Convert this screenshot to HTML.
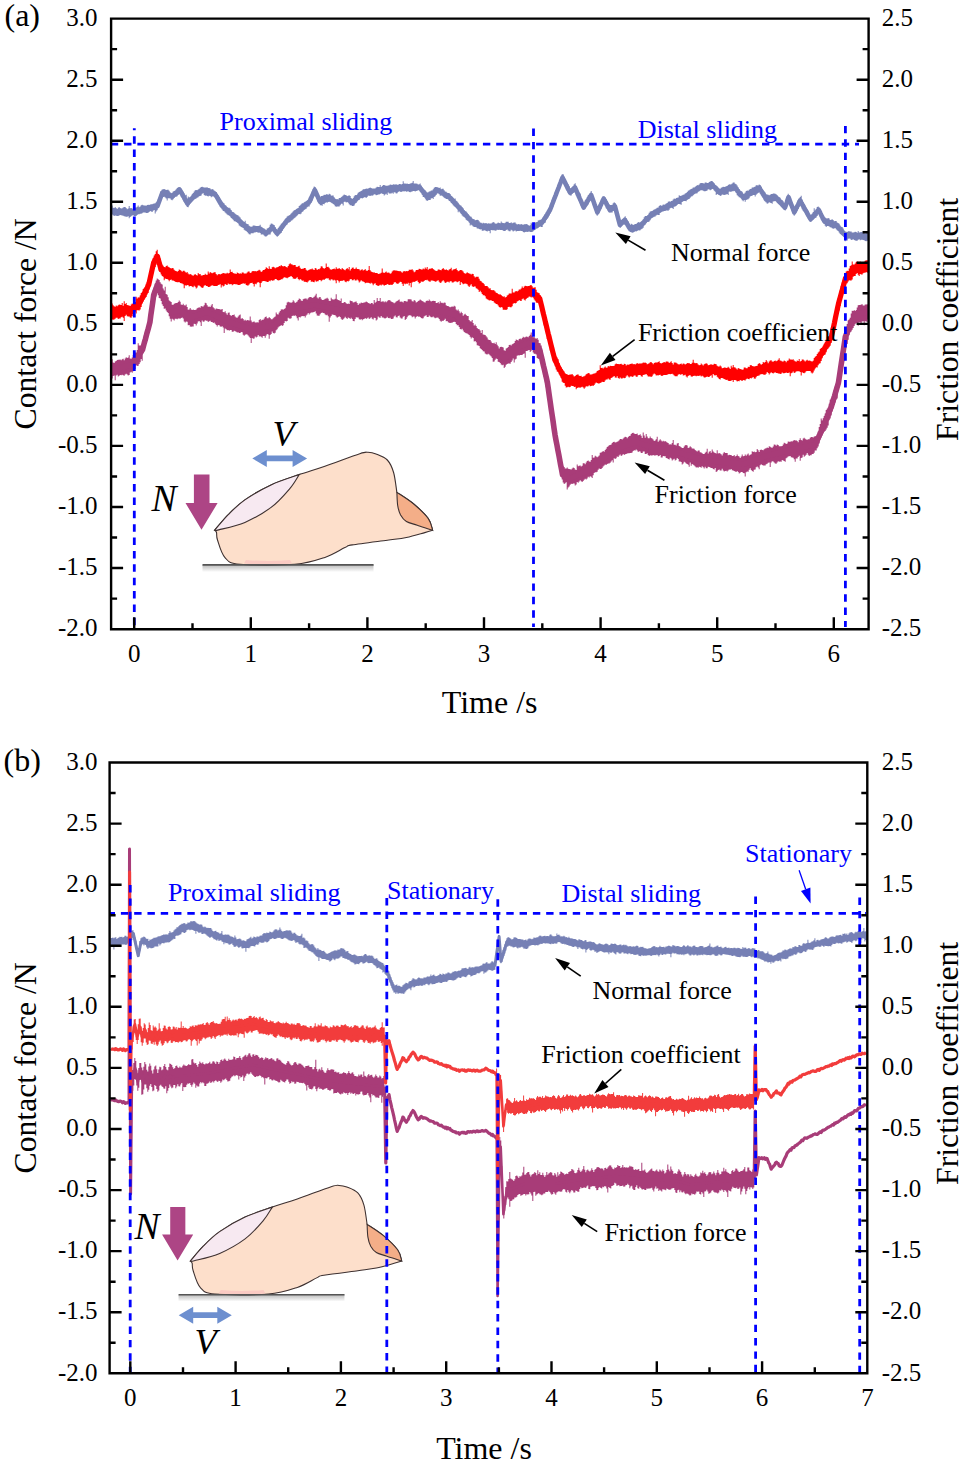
<!DOCTYPE html>
<html><head><meta charset="utf-8"><style>
html,body{margin:0;padding:0;background:#fff;}
svg{display:block;font-family:"Liberation Serif",serif;}
</style></head><body>
<svg width="961" height="1464" viewBox="0 0 961 1464">
<rect width="961" height="1464" fill="#fff"/>
<defs><linearGradient id="gs" x1="0" y1="0" x2="0" y2="1"><stop offset="0" stop-color="#bbb"/><stop offset="1" stop-color="#fff"/></linearGradient></defs>
<g id="fing">
<rect x="202.5" y="565" width="171" height="7" fill="url(#gs)"/>
<path d="M214.7,530.2C216.9,527.7 223.0,520.0 228.0,514.9C233.0,509.8 237.7,504.9 244.9,499.9C252.1,494.9 262.1,489.1 271.1,484.9C280.2,480.7 290.2,477.7 299.2,474.6C308.2,471.5 314.8,469.7 324.9,466.2C335.0,462.7 352.6,456.0 359.8,453.7C367.0,451.4 365.3,452.3 368.0,452.3C370.7,452.3 372.8,452.6 376.0,453.9C379.2,455.2 384.4,456.9 387.3,460.0C390.2,463.1 392.0,467.1 393.6,472.5C395.2,477.9 396.3,489.1 396.9,492.4C399.7,494.3 408.5,499.6 413.7,504.0C418.9,508.4 425.1,514.2 428.3,518.6C431.5,523.0 431.9,528.3 432.6,530.3C431.3,530.7 429.2,531.4 424.8,532.6C420.4,533.8 412.6,536.2 406.4,537.5C400.1,538.8 396.3,539.0 387.3,540.2C378.3,541.4 359.4,543.7 352.3,544.9C345.2,546.1 349.5,545.5 344.9,547.6C340.3,549.7 333.2,554.6 324.9,557.4C316.6,560.2 309.0,563.1 294.9,564.3C280.8,565.4 251.7,565.4 240.0,564.3C228.3,563.2 228.8,561.6 225.0,557.6C221.2,553.6 218.9,544.2 217.5,540.0C216.1,535.8 217.0,534.1 216.5,532.5C216.0,530.9 215.0,530.6 214.7,530.2Z" fill="#fddfcb" stroke="#3d3030" stroke-width="1.1"/>
<path d="M244,563.6Q268,566 292,563.6L290,560Q268,562 246,560Z" fill="#f9c4c0" opacity="0.8"/>
<path d="M396.9,492.4C399.7,494.3 408.5,499.6 413.7,504.0C418.9,508.4 425.1,514.2 428.3,518.6C431.5,523.0 431.9,528.3 432.6,530.3C430.1,529.4 421.7,526.7 417.3,525.2C412.9,523.7 409.2,523.2 406.4,521.5C403.6,519.8 402.1,517.7 400.6,515.0C399.2,512.3 398.3,509.3 397.7,505.5C397.1,501.7 397.0,494.6 396.9,492.4Z" fill="#f4ae88" stroke="#3d3030" stroke-width="1.1"/>
<path d="M214.7,530.2C216.9,527.7 223.0,520.0 228.0,514.9C233.0,509.8 237.7,504.9 244.9,499.9C252.1,494.9 262.1,489.1 271.1,484.9C280.2,480.7 294.5,476.3 299.2,474.6C297.6,476.9 294.5,483.1 289.8,488.6C285.1,494.1 278.6,501.8 271.1,507.4C263.6,513.0 253.6,518.6 244.9,522.4C236.2,526.1 223.7,528.6 218.7,529.9C213.7,531.2 215.4,530.2 214.7,530.2Z" fill="#f7e9f1" stroke="#3d3030" stroke-width="1.1"/>
<path d="M202.5,564.9H373.6" stroke="#555" stroke-width="1.6"/>
<path d="M193.9,474.6H209.5V503H217.6L201.5,529.8L185.5,503H193.9Z" fill="#ad4585"/>
</g>
<use href="#fing" transform="translate(190.2,1261.2) scale(0.97) translate(-214.5,-530.4)"/>
<path d="M252.3,458.4L266.8,449.9V455.5H292.6V449.9L307.1,458.4L292.6,466.9V461.29999999999995H266.8V466.9Z" fill="#6d8fcf"/>
<path d="M178.7,1315.2L193.2,1306.7V1312.3H217.3V1306.7L231.8,1315.2L217.3,1323.7V1318.1000000000001H193.2V1323.7Z" fill="#6d8fcf"/>
<g font-style="italic">
<text x="151.5" y="511" font-size="37.5">N</text><text x="272.5" y="445.6" font-size="36.5">V</text>
<text x="134.5" y="1238.9" font-size="37.5">N</text><text x="194.4" y="1354.4" font-size="36.5">V</text>
</g>
<path d="M110.7,207.8H111.7V205.4H112.7V207.7H113.7V207.9H114.7V207.1H115.7V207.9H116.7V208.9H117.7V207.8H118.7V207H119.7V208.1H120.7V208.5H121.7V208.2H122.7V207.6H123.7V206.9H124.7V206.9H125.7V208.1H126.7V209.2H127.7V208.4H128.7V206H129.7V208.3H130.7V208H131.7V208.6H132.7V209.6H133.7V208.2H134.7V207.5H135.7V207.5H136.7V206.8H137.7V205.5H138.7V207.2H139.7V206.5H140.7V205.3H141.7V204.8H142.7V205.2H143.7V205.4H144.7V205.6H145.7V205.8H146.7V205H147.7V204.7H148.7V204.9H149.7V204.4H150.7V204.3H151.7V204.2H152.7V203.8H153.7V203.6H154.7V203.3H155.7V202.2H156.7V201.4H157.7V199.5H158.7V197.7H159.7V194.6H160.7V191H161.7V189.4H162.7V189.3H163.7V189H164.7V189.6H165.7V190.1H166.7V189.8H167.7V189.8H168.7V190.8H169.7V192.3H170.7V193.2H171.7V192.8H172.7V191.5H173.7V191H174.7V190.5H175.7V189.2H176.7V188.1H177.7V187.2H178.7V186.9H179.7V187.2H180.7V188.8H181.7V190.6H182.7V191.7H183.7V193.5H184.7V195.4H185.7V194.7H186.7V198.6H187.7V196.5H188.7V197.4H189.7V197H190.7V196.4H191.7V194.3H192.7V193.1H193.7V191.5H194.7V190.2H195.7V190.1H196.7V190.3H197.7V189.6H198.7V188.8H199.7V187.7H200.7V186.9H201.7V186.8H202.7V187.2H203.7V187.6H204.7V187.5H205.7V187.4H206.7V187.3H207.7V188H208.7V188H209.7V188.5H210.7V189.5H211.7V189.1H212.7V189.4H213.7V190.6H214.7V191.4H215.7V192.3H216.7V194.2H217.7V195.2H218.7V196.8H219.7V199.3H220.7V200.6H221.7V201.7H222.7V202.7H223.7V203.6H224.7V205H225.7V205.8H226.7V207.1H227.7V207.8H228.7V207.7H229.7V208.6H230.7V209.9H231.7V211.7H232.7V212.1H233.7V212.8H234.7V213.8H235.7V214.5H236.7V215.1H237.7V215.4H238.7V216.5H239.7V217.4H240.7V219.2H241.7V220.3H242.7V221.2H243.7V221.9H244.7V220.8H245.7V223.4H246.7V223.9H247.7V224.2H248.7V225.7H249.7V226.4H250.7V226.8H251.7V226.4H252.7V225.6H253.7V225.6H254.7V225.8H255.7V225.9H256.7V226.1H257.7V226H258.7V225.8H259.7V224.7H260.7V226.8H261.7V227.4H262.7V228.2H263.7V228.4H264.7V229.2H265.7V230.3H266.7V228.6H267.7V228.3H268.7V227.7H269.7V224.7H270.7V223.6H271.7V223.7H272.7V224.6H273.7V225H274.7V227H275.7V228.9H276.7V229.7H277.7V228.1H278.7V226.8H279.7V225.5H280.7V223.8H281.7V223.3H282.7V222.2H283.7V220.7H284.7V219.3H285.7V218H286.7V216.5H287.7V215.8H288.7V215.7H289.7V215H290.7V213.4H291.7V212.4H292.7V211.2H293.7V210.2H294.7V210.1H295.7V208.9H296.7V208.4H297.7V207.9H298.7V206.1H299.7V205.2H300.7V204.2H301.7V203.2H302.7V203.2H303.7V202.3H304.7V201.8H305.7V201.3H306.7V200.4H307.7V199.8H308.7V197.6H309.7V196.2H310.7V194.7H311.7V191.6H312.7V188.9H313.7V186.6H314.7V187.1H315.7V188.9H316.7V192.8H317.7V194.7H318.7V197H319.7V197.2H320.7V196H321.7V196.1H322.7V195.5H323.7V194.7H324.7V194.9H325.7V194.3H326.7V194.2H327.7V194.8H328.7V193.8H329.7V194.3H330.7V195.7H331.7V195.6H332.7V195.6H333.7V197.2H334.7V198.7H335.7V199.3H336.7V199.1H337.7V199.4H338.7V198.1H339.7V198.1H340.7V197.3H341.7V196.5H342.7V195.4H343.7V194.6H344.7V194.9H345.7V195.6H346.7V196.2H347.7V195.7H348.7V195.3H349.7V195.9H350.7V198H351.7V199H352.7V197.9H353.7V196.3H354.7V195H355.7V195.2H356.7V195.1H357.7V192.7H358.7V192H359.7V191.5H360.7V191H361.7V190.2H362.7V189.2H363.7V189.3H364.7V189H365.7V188.6H366.7V188.8H367.7V188.6H368.7V187.9H369.7V187.5H370.7V188.1H371.7V188.5H372.7V188.6H373.7V188.6H374.7V188.5H375.7V187.4H376.7V186.7H377.7V186.9H378.7V187H379.7V185.1H380.7V187H381.7V186.1H382.7V185H383.7V184.9H384.7V185.5H385.7V185.8H386.7V185.7H387.7V185.5H388.7V185.3H389.7V184.5H390.7V184.8H391.7V185H392.7V184.2H393.7V184.6H394.7V184.4H395.7V184.3H396.7V184.8H397.7V184.7H398.7V184.1H399.7V184H400.7V184.5H401.7V183.9H402.7V181.3H403.7V183.6H404.7V183.4H405.7V183.7H406.7V183.6H407.7V184H408.7V184.1H409.7V183.5H410.7V183.2H411.7V182.8H412.7V181.1H413.7V183.6H414.7V183.6H415.7V183.4H416.7V183.8H417.7V184.4H418.7V184.2H419.7V183.5H420.7V185.6H421.7V187.8H422.7V188.9H423.7V189.7H424.7V190.3H425.7V191.5H426.7V192.5H427.7V192.3H428.7V191.6H429.7V191.3H430.7V190.4H431.7V190.4H432.7V189.2H433.7V187.8H434.7V186.9H435.7V187H436.7V187.2H437.7V187.6H438.7V187.9H439.7V187.6H440.7V189.2H441.7V188.8H442.7V188.7H443.7V190.3H444.7V191.6H445.7V191.7H446.7V192.7H447.7V193.1H448.7V193H449.7V194.1H450.7V196H451.7V196.8H452.7V197.7H453.7V198.7H454.7V198.5H455.7V200.7H456.7V201.4H457.7V202.8H458.7V204.4H459.7V205.2H460.7V205.8H461.7V207H462.7V208.2H463.7V210.2H464.7V211.3H465.7V211.5H466.7V212.8H467.7V214H468.7V215.4H469.7V216.5H470.7V216.8H471.7V218.5H472.7V219H473.7V219.2H474.7V220.2H475.7V219.9H476.7V219.7H477.7V220.1H478.7V221.2H479.7V222.5H480.7V222.8H481.7V223.5H482.7V222.8H483.7V223.2H484.7V223.3H485.7V223H486.7V223.7H487.7V223.2H488.7V223.5H489.7V223.6H490.7V223.5H491.7V222.8H492.7V222H493.7V222.4H494.7V223.5H495.7V223.7H496.7V223.2H497.7V222.5H498.7V223H499.7V223.3H500.7V221.5H501.7V222.7H502.7V222.9H503.7V223.3H504.7V222.8H505.7V221.8H506.7V221.7H507.7V221.7H508.7V222.9H509.7V223H510.7V222.3H511.7V223.3H512.7V222.7H513.7V222.4H514.7V222.4H515.7V223.7H516.7V224.4H517.7V224.1H518.7V224.2H519.7V224.4H520.7V224.1H521.7V224.4H522.7V224.8H523.7V224.3H524.7V224.2H525.7V224.1H526.7V224.3H527.7V225.1H528.7V225.8H529.7V225.3H530.7V222.7H531.7V224H532.7V223.5H533.7V222.5H534.7V222.4H535.7V222.3H536.7V221.9H537.7V220.6H538.7V220.2H539.7V219.8H540.7V219.7H541.7V218.9H542.7V217.2H543.7V216.3H544.7V214H545.7V212.2H546.7V210.5H547.7V208.8H548.7V207.7H549.7V206.6H550.7V203.6H551.7V200.3H552.7V197.3H553.7V195.1H554.7V192.4H555.7V190.1H556.7V187.6H557.7V185.1H558.7V182.8H559.7V179.7H560.7V177.1H561.7V174.3H562.7V174.2H563.7V177.2H564.7V179.9H565.7V181.7H566.7V183H567.7V184.3H568.7V186.2H569.7V188.8H570.7V188.3H571.7V186.9H572.7V186H573.7V184.3H574.7V183.3H575.7V186.2H576.7V189.3H577.7V191H578.7V192.5H579.7V193.5H580.7V198.3H581.7V201.1H582.7V203.5H583.7V202.7H584.7V200.3H585.7V199H586.7V197.2H587.7V195.2H588.7V194.8H589.7V194H590.7V191.1H591.7V193.9H592.7V196.7H593.7V199.6H594.7V202.1H595.7V204.3H596.7V207.4H597.7V206.1H598.7V204.5H599.7V202.4H600.7V199.6H601.7V198.3H602.7V196.6H603.7V196.5H604.7V197.8H605.7V199.1H606.7V200.9H607.7V202.9H608.7V204.5H609.7V205H610.7V204.9H611.7V204.7H612.7V203.3H613.7V202.2H614.7V203.1H615.7V207.5H616.7V211.8H617.7V214.8H618.7V218.5H619.7V221.5H620.7V220H621.7V219.2H622.7V218.8H623.7V217.5H624.7V216.2H625.7V218.2H626.7V220.4H627.7V221.3H628.7V223.7H629.7V225.1H630.7V223.8H631.7V224.3H632.7V225H633.7V224.4H634.7V223.9H635.7V224H636.7V223H637.7V221.9H638.7V222.5H639.7V222.2H640.7V221.4H641.7V220.8H642.7V219.2H643.7V217.3H644.7V216.1H645.7V215.9H646.7V215.9H647.7V214.9H648.7V212.8H649.7V211.4H650.7V211.2H651.7V210.9H652.7V210.2H653.7V209.5H654.7V209.2H655.7V208.4H656.7V207.8H657.7V207.4H658.7V205.9H659.7V204.9H660.7V205.7H661.7V205.5H662.7V204.6H663.7V204.7H664.7V204.4H665.7V203.5H666.7V203.1H667.7V201.7H668.7V201.3H669.7V201.7H670.7V201H671.7V200.8H672.7V199.5H673.7V198.6H674.7V199H675.7V197.9H676.7V197.8H677.7V197.4H678.7V195.3H679.7V196H680.7V195.7H681.7V195.3H682.7V194.8H683.7V194.4H684.7V193.6H685.7V193.1H686.7V192.1H687.7V190.7H688.7V190.3H689.7V189.6H690.7V188.9H691.7V188.4H692.7V187.5H693.7V187.4H694.7V186.8H695.7V186H696.7V185.1H697.7V185.6H698.7V184.5H699.7V183.2H700.7V182.9H701.7V182.9H702.7V183.3H703.7V183.6H704.7V182.6H705.7V182.4H706.7V183H707.7V183.1H708.7V182H709.7V181.5H710.7V181.1H711.7V180.9H712.7V182.1H713.7V183.2H714.7V184.9H715.7V185.4H716.7V186.2H717.7V187.6H718.7V188.4H719.7V188.8H720.7V187.8H721.7V187.3H722.7V186.7H723.7V187H724.7V186.8H725.7V186.3H726.7V186.1H727.7V185H728.7V184.2H729.7V184.5H730.7V184.3H731.7V183.5H732.7V182.5H733.7V182.5H734.7V183.7H735.7V184.3H736.7V185.5H737.7V187.2H738.7V189.1H739.7V191H740.7V191.1H741.7V191.7H742.7V193.7H743.7V193.7H744.7V192.5H745.7V191H746.7V190.6H747.7V190.7H748.7V189.7H749.7V189H750.7V188.8H751.7V187.6H752.7V187.5H753.7V186.9H754.7V186.6H755.7V185.2H756.7V185.2H757.7V185.4H758.7V184.5H759.7V185.1H760.7V186.8H761.7V189.1H762.7V190.7H763.7V191.4H764.7V192.5H765.7V194.2H766.7V194.4H767.7V194.7H768.7V195.3H769.7V194.7H770.7V194H771.7V194.1H772.7V193.4H773.7V193.6H774.7V193.7H775.7V194.2H776.7V195.2H777.7V196.4H778.7V197H779.7V197.8H780.7V199.4H781.7V199.9H782.7V201.2H783.7V203.2H784.7V203.8H785.7V199.9H786.7V196.4H787.7V193.7H788.7V195.5H789.7V198.9H790.7V200.7H791.7V202.4H792.7V205.7H793.7V208.9H794.7V207.2H795.7V205.4H796.7V202.8H797.7V200.1H798.7V198.5H799.7V197.1H800.7V195.8H801.7V199.5H802.7V202.3H803.7V204H804.7V205.7H805.7V207.7H806.7V209.4H807.7V210.7H808.7V213.2H809.7V214.9H810.7V214.8H811.7V213.8H812.7V212.1H813.7V208.3H814.7V210.7H815.7V208.9H816.7V207.1H817.7V206.5H818.7V207.6H819.7V209.6H820.7V211.6H821.7V213H822.7V216H823.7V217.4H824.7V217.6H825.7V218.3H826.7V218.4H827.7V218H828.7V218.5H829.7V219.9H830.7V219.7H831.7V219.2H832.7V220.1H833.7V221.2H834.7V220.9H835.7V221H836.7V222.6H837.7V223H838.7V223.7H839.7V225.5H840.7V226.8H841.7V227.1H842.7V228.6H843.7V230.5H844.7V231.4H845.7V231.8H846.7V231.9H847.7V231.3H848.7V231.3H849.7V231.4H850.7V231.5H851.7V232.4H852.7V232.4H853.7V232.2H854.7V231.7H855.7V231.9H856.7V232.8H857.7V231.1H858.7V232.5H859.7V232.3H860.7V232H861.7V232.2H862.7V231.2H863.7V233H864.7V233.6H865.7V232.9H866.7V231.9H867.7V233H868.7V241H867.7V240.8H866.7V241.2H865.7V241H864.7V240.2H863.7V239.9H862.7V239.8H861.7V239.7H860.7V240.3H859.7V239.3H858.7V239.7H857.7V240.7H856.7V240.7H855.7V240.6H854.7V240H853.7V239.3H852.7V239.8H851.7V240.1H850.7V238.8H849.7V238.5H848.7V238.7H847.7V240.4H846.7V239.2H845.7V241.2H844.7V236.9H843.7V236.3H842.7V235.5H841.7V234.8H840.7V233.9H839.7V232.5H838.7V231.1H837.7V230.3H836.7V229.3H835.7V228.1H834.7V228.4H833.7V228.7H832.7V228.2H831.7V227.5H830.7V227.2H829.7V226.5H828.7V225.9H827.7V226.1H826.7V227H825.7V225.7H824.7V223.9H823.7V222.3H822.7V221.1H821.7V219.8H820.7V217.2H819.7V214.3H818.7V213.9H817.7V216H816.7V217.4H815.7V218.1H814.7V218.7H813.7V219.8H812.7V220.2H811.7V221.4H810.7V222.1H809.7V220.3H808.7V218.4H807.7V217.1H806.7V215.2H805.7V213.2H804.7V211.9H803.7V211H802.7V209.2H801.7V206.4H800.7V204.2H799.7V206.7H798.7V208.9H797.7V210.8H796.7V212.5H795.7V214.2H794.7V215.8H793.7V213.8H792.7V210.4H791.7V208.5H790.7V206H789.7V203.4H788.7V202.4H787.7V205.7H786.7V208.5H785.7V210.6H784.7V209.7H783.7V208.4H782.7V207.8H781.7V206.7H780.7V205.4H779.7V204.8H778.7V204.1H777.7V203.1H776.7V201.8H775.7V201.1H774.7V201.2H773.7V201.6H772.7V203.7H771.7V202.9H770.7V202.7H769.7V202.2H768.7V203.2H767.7V203.8H766.7V202.5H765.7V201.2H764.7V200.2H763.7V197.9H762.7V196.4H761.7V195.2H760.7V193.7H759.7V192.3H758.7V193H757.7V193.8H756.7V194.7H755.7V196.4H754.7V195H753.7V195H752.7V195.7H751.7V196H750.7V196.6H749.7V198.3H748.7V199.2H747.7V199.5H746.7V200H745.7V201.7H744.7V200H743.7V201.2H742.7V200.3H741.7V198.6H740.7V197.6H739.7V197.3H738.7V196.3H737.7V195.2H736.7V193H735.7V191.2H734.7V190.8H733.7V191.3H732.7V191.3H731.7V191.7H730.7V191.8H729.7V191.6H728.7V194.9H727.7V193.9H726.7V194.4H725.7V194.7H724.7V194.9H723.7V194.7H722.7V194.4H721.7V195.6H720.7V195.9H719.7V194.9H718.7V194.5H717.7V194.1H716.7V195H715.7V191.4H714.7V190.5H713.7V188.8H712.7V189.1H711.7V189.8H710.7V190.3H709.7V189.5H708.7V189.2H707.7V190.4H706.7V190.9H705.7V191.3H704.7V191.3H703.7V190.8H702.7V190.3H701.7V190.2H700.7V190.6H699.7V191.3H698.7V191.7H697.7V193.3H696.7V193.6H695.7V193.5H694.7V194.2H693.7V195.2H692.7V196.3H691.7V196.6H690.7V197.7H689.7V199H688.7V199.3H687.7V200.1H686.7V201.2H685.7V201.1H684.7V201.1H683.7V201.3H682.7V202.1H681.7V204.8H680.7V204.3H679.7V203.9H678.7V204.1H677.7V205H676.7V205.9H675.7V206.4H674.7V206.8H673.7V209.1H672.7V208.1H671.7V207.8H670.7V208.3H669.7V209.7H668.7V210.8H667.7V210.4H666.7V210.4H665.7V211.1H664.7V211H663.7V211.4H662.7V211.6H661.7V212.2H660.7V212.9H659.7V215.1H658.7V214.9H657.7V214.7H656.7V215.4H655.7V216.5H654.7V216.8H653.7V217.2H652.7V218H651.7V218.4H650.7V220.2H649.7V221.5H648.7V222H647.7V222.1H646.7V223.3H645.7V224.7H644.7V225.6H643.7V227.7H642.7V228.7H641.7V229.2H640.7V230.2H639.7V230.6H638.7V230.2H637.7V230.9H636.7V231.4H635.7V231.2H634.7V231.9H633.7V232.5H632.7V232.8H631.7V232.2H630.7V232.1H629.7V231.2H628.7V229.2H627.7V228.3H626.7V226.6H625.7V224.9H624.7V224.4H623.7V224.4H622.7V225.6H621.7V226.7H620.7V228.1H619.7V226.3H618.7V221.6H617.7V218.4H616.7V215.1H615.7V211.2H614.7V210.8H613.7V211.1H612.7V212.4H611.7V212.5H610.7V212.4H609.7V212.2H608.7V210.6H607.7V209H606.7V208.2H605.7V205.6H604.7V203.2H603.7V203.8H602.7V206.1H601.7V208.8H600.7V210.3H599.7V212.5H598.7V214.3H597.7V215.7H596.7V212.7H595.7V209.3H594.7V207H593.7V203.8H592.7V200.8H591.7V199H590.7V200.7H589.7V201.8H588.7V204.5H587.7V205.4H586.7V206.3H585.7V208.1H584.7V209.5H583.7V209.6H582.7V208H581.7V205.7H580.7V203.2H579.7V201H578.7V198.5H577.7V197.4H576.7V195.4H575.7V192H574.7V192.5H573.7V193H572.7V193.9H571.7V195.5H570.7V195.4H569.7V194.3H568.7V192.9H567.7V191H566.7V189.5H565.7V187.2H564.7V185.3H563.7V183.5H562.7V182.9H561.7V184.5H560.7V186.5H559.7V190H558.7V193.1H557.7V195.5H556.7V198.3H555.7V200H554.7V202.9H553.7V206.4H552.7V208.6H551.7V210.8H550.7V213.6H549.7V215.5H548.7V217.6H547.7V218.8H546.7V220H545.7V222.8H544.7V223H543.7V224.3H542.7V226.9H541.7V226.9H540.7V226.5H539.7V227.1H538.7V228.1H537.7V228.6H536.7V228.7H535.7V229.7H534.7V230.2H533.7V231.2H532.7V231.9H531.7V232.1H530.7V232H529.7V231.5H528.7V231.7H527.7V231.9H526.7V231.8H525.7V232.1H524.7V232.6H523.7V232H522.7V231.1H521.7V231H520.7V230.7H519.7V231.1H518.7V230.9H517.7V231.1H516.7V231.4H515.7V230.6H514.7V230.8H513.7V231.4H512.7V230.5H511.7V229.7H510.7V231.2H509.7V231.2H508.7V230.5H507.7V229.6H506.7V229.9H505.7V230.9H504.7V231H503.7V230.7H502.7V229.9H501.7V230H500.7V229.9H499.7V229.8H498.7V230.1H497.7V229.8H496.7V230.4H495.7V230.8H494.7V230.2H493.7V230.3H492.7V230.2H491.7V230.1H490.7V233.2H489.7V231.1H488.7V230.8H487.7V231.6H486.7V231H485.7V230.6H484.7V230.3H483.7V230.8H482.7V230.7H481.7V229.3H480.7V229.4H479.7V229H478.7V228.6H477.7V228.5H476.7V227.2H475.7V227H474.7V227H473.7V226.5H472.7V225.4H471.7V224.5H470.7V225.5H469.7V222.4H468.7V220.7H467.7V220.4H466.7V219.8H465.7V217.7H464.7V216.8H463.7V216.5H462.7V215.6H461.7V214.1H460.7V212.4H459.7V210.6H458.7V212.3H457.7V208.7H456.7V207.7H455.7V206.9H454.7V206.3H453.7V205.3H452.7V203.8H451.7V202.9H450.7V201.3H449.7V200.9H448.7V199.4H447.7V199.1H446.7V199H445.7V198.3H444.7V197.7H443.7V196.7H442.7V195.6H441.7V195.6H440.7V195.7H439.7V194.2H438.7V193.2H437.7V193.5H436.7V195H435.7V196.3H434.7V197.1H433.7V199H432.7V197.9H431.7V198.6H430.7V199.9H429.7V200H428.7V200.2H427.7V201.1H426.7V200.3H425.7V198.3H424.7V197.1H423.7V196.9H422.7V194.7H421.7V193.1H420.7V191.8H419.7V190.3H418.7V190.3H417.7V190.7H416.7V191.1H415.7V191.4H414.7V191H413.7V191.1H412.7V191.4H411.7V191.8H410.7V192.2H409.7V191.9H408.7V191.2H407.7V191.6H406.7V191.7H405.7V191H404.7V191.4H403.7V191.3H402.7V191.6H401.7V192H400.7V191.7H399.7V191.3H398.7V191.9H397.7V193.3H396.7V193.6H395.7V192.5H394.7V192.2H393.7V193.8H392.7V192.8H391.7V193.4H390.7V193.4H389.7V193.5H388.7V192.6H387.7V195H386.7V193.8H385.7V194.4H384.7V195.6H383.7V193.9H382.7V193.7H381.7V193.3H380.7V193.9H379.7V194.4H378.7V194.4H377.7V195.1H376.7V195.3H375.7V194.6H374.7V194.3H373.7V195.3H372.7V195.7H371.7V195.6H370.7V196H369.7V195.8H368.7V195.6H367.7V197H366.7V197.9H365.7V197.2H364.7V197.3H363.7V198.1H362.7V198.6H361.7V198.1H360.7V198.5H359.7V199.9H358.7V200.3H357.7V201.5H356.7V202.9H355.7V203.5H354.7V205.5H353.7V206H352.7V205.9H351.7V205.2H350.7V205.3H349.7V204.3H348.7V202.4H347.7V202.1H346.7V202.5H345.7V201.7H344.7V201.7H343.7V205.4H342.7V203.7H341.7V203.5H340.7V205.3H339.7V206.6H338.7V206.5H337.7V206.4H336.7V206.7H335.7V206.2H334.7V204.8H333.7V204.1H332.7V203.3H331.7V202.8H330.7V202.1H329.7V201.8H328.7V202H327.7V202.8H326.7V202.3H325.7V202.9H324.7V204.3H323.7V204.1H322.7V205.8H321.7V205.3H320.7V205.2H319.7V203.9H318.7V201.9H317.7V198.9H316.7V197H315.7V195H314.7V194.1H313.7V197H312.7V200.5H311.7V202.3H310.7V204.5H309.7V206.4H308.7V206.5H307.7V207.3H306.7V208.8H305.7V209.2H304.7V210.1H303.7V211.3H302.7V212H301.7V213.6H300.7V214.3H299.7V214.1H298.7V214.3H297.7V215.6H296.7V216.6H295.7V217.4H294.7V218.3H293.7V219.3H292.7V220.2H291.7V220.8H290.7V222H289.7V222.5H288.7V222.8H287.7V224.4H286.7V224.8H285.7V225.5H284.7V226.9H283.7V228.7H282.7V230.9H281.7V232.9H280.7V233.6H279.7V233.8H278.7V235.5H277.7V236.8H276.7V235.3H275.7V234.5H274.7V233.3H273.7V231.7H272.7V230.7H271.7V232.2H270.7V234.5H269.7V234.5H268.7V234.1H267.7V235.2H266.7V236.5H265.7V236.4H264.7V235.4H263.7V234.2H262.7V234.5H261.7V234.5H260.7V233.1H259.7V232.5H258.7V232.8H257.7V232.2H256.7V232.1H255.7V232.5H254.7V232.6H253.7V233.3H252.7V233.3H251.7V233.3H250.7V234.5H249.7V234.2H248.7V233.2H247.7V231.9H246.7V230.9H245.7V230.6H244.7V229.7H243.7V228.1H242.7V227.6H241.7V226.9H240.7V226.2H239.7V225.4H238.7V223.3H237.7V222.5H236.7V222H235.7V221.2H234.7V221.2H233.7V219.7H232.7V218.8H231.7V218.1H230.7V216.2H229.7V215.3H228.7V215.2H227.7V214.6H226.7V213.6H225.7V212.4H224.7V211.2H223.7V211.1H222.7V209.5H221.7V207.7H220.7V206.9H219.7V204.8H218.7V203.3H217.7V201.4H216.7V199.2H215.7V197.9H214.7V196.9H213.7V196.3H212.7V196.5H211.7V197.2H210.7V196.1H209.7V195.7H208.7V196.4H207.7V196.1H206.7V195.6H205.7V195.7H204.7V194.9H203.7V193.3H202.7V193.7H201.7V195.6H200.7V196H199.7V196.3H198.7V197.2H197.7V197.8H196.7V198.4H195.7V198.9H194.7V199.4H193.7V200.5H192.7V201.4H191.7V202.4H190.7V203.5H189.7V205.2H188.7V207.2H187.7V207H186.7V204.3H185.7V202.4H184.7V201.8H183.7V199.8H182.7V197.9H181.7V196.7H180.7V194.3H179.7V194.3H178.7V195H177.7V196.3H176.7V196.8H175.7V196.6H174.7V198.1H173.7V199.2H172.7V200.2H171.7V199.7H170.7V198.5H169.7V198.2H168.7V198.2H167.7V200.5H166.7V198.5H165.7V197.6H164.7V196.8H163.7V196.9H162.7V197.7H161.7V199.6H160.7V201.2H159.7V204.5H158.7V207.5H157.7V210.2H156.7V211.5H155.7V213.4H154.7V210H153.7V210.7H152.7V211.9H151.7V211.5H150.7V211H149.7V211.9H148.7V212.7H147.7V212.9H146.7V213H145.7V212.5H144.7V212.4H143.7V212.6H142.7V213.2H141.7V213.8H140.7V213.8H139.7V214.3H138.7V214.2H137.7V215H136.7V216H135.7V216.3H134.7V216H133.7V215.2H132.7V215.5H131.7V216.2H130.7V217H129.7V218.3H128.7V216.2H127.7V216.7H126.7V216.7H125.7V216.5H124.7V216.2H123.7V215.7H122.7V215.5H121.7V215.3H120.7V214.9H119.7V215.6H118.7V216.1H117.7V216.1H116.7V215.7H115.7V215.4H114.7V215.9H113.7V215.3H112.7V214.5H111.7V215.1H110.7Z" fill="#7680b5"/>
<polyline points="111.2,211.2 112.2,211.3 113.2,211.3 114.1,211.4 115.1,211.4 116.1,211.5 117.1,211.5 118.0,211.6 119.0,211.6 120.0,211.7 121.0,211.7 122.0,211.8 122.9,211.8 123.9,211.9 124.9,211.9 125.9,212.0 126.9,212.0 127.8,212.1 128.8,212.1 129.8,212.2 130.8,212.2 131.7,212.3 132.7,212.3 133.7,212.4 134.6,212.1 135.5,211.7 136.4,211.4 137.3,211.0 138.2,210.7 139.1,210.3 140.0,210.0 141.0,209.8 141.9,209.6 142.9,209.4 143.9,209.2 144.8,208.9 145.8,208.7 146.8,208.5 147.7,208.3 148.7,208.1 149.7,207.9 150.6,207.7 151.6,207.5 152.6,207.3 153.5,207.0 154.5,206.8 155.5,206.6 156.4,206.4 157.4,206.2 158.4,203.5 159.4,200.7 160.4,198.0 161.4,195.2 162.4,192.5 163.4,192.9 164.4,193.2 165.4,193.6 166.4,194.0 167.4,194.3 168.4,194.7 169.4,195.1 170.4,195.5 171.4,195.8 172.4,196.2 173.3,195.4 174.3,194.6 175.2,193.9 176.2,193.1 177.1,192.3 178.0,191.6 179.0,190.8 179.9,190.0 180.8,191.7 181.8,193.4 182.7,195.1 183.7,196.8 184.6,198.6 185.5,200.3 186.5,202.0 187.4,203.7 188.3,202.6 189.3,201.5 190.2,200.4 191.2,199.3 192.1,198.3 193.0,197.2 194.0,196.1 194.9,195.0 195.8,194.4 196.8,193.8 197.7,193.1 198.7,192.5 199.6,191.9 200.5,191.2 201.5,190.6 202.4,190.0 203.4,190.3 204.3,190.6 205.3,190.9 206.2,191.1 207.2,191.4 208.2,191.7 209.1,192.0 210.1,192.3 211.1,192.6 212.0,192.8 213.0,193.1 213.9,193.4 214.9,193.7 215.8,195.3 216.8,196.8 217.7,198.4 218.7,199.9 219.6,201.5 220.5,203.1 221.5,204.6 222.4,206.2 223.4,207.1 224.3,207.9 225.3,208.8 226.2,209.6 227.2,210.5 228.2,211.4 229.1,212.2 230.1,213.1 231.1,214.0 232.0,214.8 233.0,215.7 233.9,216.5 234.9,217.4 235.9,218.2 236.9,219.1 237.9,219.9 238.9,220.8 239.9,221.6 240.9,222.4 241.9,223.3 242.9,224.1 243.9,225.0 244.9,225.8 245.9,226.6 246.9,227.5 247.9,228.3 248.9,229.2 249.9,230.0 250.9,229.9 251.9,229.7 252.9,229.6 253.9,229.5 254.9,229.3 255.8,229.2 256.8,229.1 257.8,229.0 258.8,228.8 259.8,228.7 260.7,229.4 261.6,230.1 262.5,230.8 263.4,231.6 264.3,232.3 265.2,233.0 266.1,233.7 267.0,232.8 267.9,231.9 268.8,231.0 269.6,230.1 270.5,229.2 271.4,228.3 272.3,227.4 273.3,228.7 274.3,229.9 275.3,231.2 276.3,232.4 277.3,233.7 278.3,232.3 279.3,231.0 280.3,229.6 281.3,228.2 282.3,226.8 283.3,225.5 284.3,224.1 285.3,222.7 286.3,221.4 287.3,220.0 288.3,219.2 289.2,218.5 290.2,217.7 291.1,216.9 292.1,216.2 293.1,215.4 294.0,214.6 295.0,213.8 296.0,213.1 296.9,212.3 297.9,211.5 298.8,210.8 299.8,210.0 300.8,209.1 301.8,208.2 302.8,207.4 303.8,206.5 304.8,205.6 305.8,204.7 306.8,203.8 307.8,203.0 308.8,202.1 309.8,201.2 310.8,199.0 311.8,196.7 312.8,194.5 313.8,192.2 314.8,190.0 315.8,192.2 316.8,194.5 317.8,196.7 318.8,199.0 319.8,201.2 320.8,200.8 321.8,200.5 322.8,200.1 323.8,199.7 324.8,199.3 325.8,199.0 326.8,198.6 327.8,198.2 328.8,197.9 329.8,197.5 330.8,198.3 331.7,199.1 332.7,199.8 333.6,200.6 334.6,201.4 335.6,202.1 336.5,202.9 337.5,203.7 338.4,202.9 339.4,202.1 340.3,201.4 341.2,200.6 342.2,199.8 343.1,199.1 344.1,198.3 345.0,197.5 345.9,198.1 346.9,198.8 347.8,199.4 348.8,200.0 349.7,200.6 350.6,201.2 351.6,201.9 352.5,202.5 353.4,201.6 354.4,200.6 355.3,199.7 356.2,198.8 357.2,197.8 358.1,196.9 359.1,195.9 360.0,195.0 361.0,194.8 362.0,194.5 363.0,194.2 364.0,194.0 365.0,193.8 366.0,193.5 367.0,193.2 368.0,193.0 369.0,192.8 370.0,192.5 371.0,192.2 372.0,192.0 373.0,191.8 374.0,191.5 375.0,191.2 376.0,191.0 377.0,190.8 378.0,190.5 379.0,190.2 380.0,190.0 381.0,189.9 382.0,189.8 383.0,189.7 384.0,189.6 385.0,189.5 386.0,189.4 387.0,189.3 388.0,189.2 389.0,189.1 390.0,189.0 391.0,188.9 392.0,188.8 392.9,188.7 393.9,188.6 394.9,188.5 395.9,188.4 396.9,188.3 397.9,188.2 398.9,188.1 399.9,188.0 400.9,187.9 401.9,187.8 402.9,187.7 403.9,187.6 404.9,187.5 405.9,187.5 406.9,187.5 407.9,187.5 408.9,187.5 409.9,187.5 410.9,187.5 411.9,187.5 412.9,187.5 413.9,187.5 414.9,187.5 415.9,187.5 416.9,187.5 417.9,187.5 418.9,187.5 419.9,187.5 420.8,188.8 421.8,190.0 422.7,191.2 423.6,192.5 424.6,193.8 425.5,195.0 426.5,196.2 427.4,197.5 428.4,196.8 429.4,196.0 430.4,195.2 431.4,194.5 432.4,193.8 433.4,193.0 434.4,192.2 435.4,191.5 436.4,190.8 437.4,190.0 438.4,190.6 439.3,191.2 440.3,191.7 441.2,192.3 442.2,192.9 443.2,193.5 444.1,194.0 445.1,194.6 446.1,195.2 447.0,195.8 448.0,196.3 448.9,196.9 449.9,197.5 450.9,198.6 451.9,199.7 452.9,200.9 453.9,202.0 454.9,203.1 455.9,204.2 456.9,205.3 457.9,206.5 458.9,207.6 459.9,208.7 460.9,209.8 461.8,210.8 462.8,211.9 463.7,212.9 464.7,214.0 465.7,215.0 466.6,216.1 467.6,217.1 468.6,218.2 469.5,219.2 470.5,220.3 471.4,221.3 472.4,222.4 473.4,222.8 474.3,223.2 475.3,223.6 476.2,223.9 477.2,224.3 478.1,224.7 479.1,225.1 480.0,225.5 481.0,225.9 481.9,226.2 482.9,226.6 483.8,227.0 484.8,227.4 485.8,227.3 486.8,227.3 487.8,227.2 488.8,227.2 489.8,227.1 490.8,227.0 491.8,227.0 492.8,226.9 493.8,226.9 494.8,226.8 495.8,226.7 496.8,226.7 497.8,226.6 498.8,226.6 499.8,226.5 500.8,226.4 501.8,226.4 502.8,226.3 503.8,226.3 504.8,226.2 505.8,226.3 506.8,226.4 507.8,226.5 508.8,226.6 509.8,226.7 510.8,226.8 511.8,226.9 512.8,227.0 513.8,227.1 514.8,227.2 515.8,227.3 516.8,227.4 517.8,227.5 518.8,227.6 519.8,227.7 520.8,227.8 521.8,227.9 522.8,228.0 523.8,228.1 524.8,228.2 525.8,228.3 526.8,228.4 527.8,228.5 528.8,228.6 529.8,228.7 530.8,228.2 531.7,227.7 532.7,227.2 533.6,226.8 534.6,226.3 535.6,225.8 536.5,225.3 537.5,224.8 538.5,224.3 539.4,223.9 540.4,223.4 541.3,222.9 542.3,222.4 543.3,220.8 544.2,219.3 545.2,217.8 546.1,216.2 547.1,214.7 548.1,213.1 549.0,211.6 550.0,210.0 551.0,207.5 551.9,205.0 552.9,202.5 553.8,200.0 554.8,197.5 555.8,195.0 556.7,192.5 557.7,190.0 558.7,187.5 559.6,185.0 560.6,182.5 561.5,180.0 562.5,177.5 563.4,179.4 564.4,181.2 565.3,183.1 566.2,185.0 567.2,186.9 568.1,188.8 569.1,190.6 570.0,192.5 571.0,191.5 572.0,190.5 573.0,189.5 574.0,188.5 575.0,187.5 576.0,189.7 576.9,191.9 577.9,194.2 578.9,196.4 579.8,198.6 580.8,200.8 581.8,203.1 582.7,205.3 583.7,207.5 584.6,205.9 585.6,204.4 586.5,202.8 587.5,201.2 588.4,199.7 589.3,198.1 590.3,196.6 591.2,195.0 592.1,197.5 593.0,200.0 593.9,202.5 594.7,204.9 595.6,207.4 596.5,209.9 597.4,212.4 598.3,210.4 599.2,208.5 600.1,206.5 601.0,204.6 601.9,202.6 602.8,200.7 603.7,198.7 604.6,200.3 605.5,201.9 606.4,203.5 607.2,205.2 608.1,206.8 609.0,208.4 609.9,210.0 610.9,209.2 611.9,208.5 612.9,207.7 613.9,207.0 614.9,206.2 615.9,209.9 616.9,213.7 617.9,217.4 618.9,221.2 619.9,224.9 620.9,223.9 621.9,222.9 622.9,222.0 623.9,221.0 624.9,220.0 625.9,221.7 626.9,223.5 627.9,225.2 628.9,227.0 629.9,228.7 630.9,228.4 631.9,228.2 632.9,227.9 633.9,227.7 634.9,227.4 635.9,227.2 636.9,226.9 637.9,226.7 638.9,226.4 639.9,226.2 640.9,225.2 641.8,224.3 642.8,223.3 643.7,222.4 644.7,221.4 645.7,220.4 646.6,219.5 647.6,218.5 648.6,217.5 649.5,216.6 650.5,215.6 651.4,214.7 652.4,213.7 653.4,213.2 654.3,212.7 655.3,212.2 656.3,211.8 657.3,211.3 658.2,210.8 659.2,210.3 660.2,209.8 661.1,209.3 662.1,208.9 663.1,208.4 664.1,207.9 665.0,207.4 666.0,206.9 667.0,206.4 668.0,206.0 668.9,205.5 669.9,205.0 670.9,204.5 671.9,204.0 672.9,203.5 673.9,203.0 674.9,202.5 675.9,202.0 676.9,201.5 677.9,201.0 678.9,200.5 679.9,200.0 680.9,199.5 681.9,199.0 682.9,198.5 683.9,198.0 684.9,197.5 685.9,196.8 686.9,196.2 687.9,195.5 688.9,194.8 689.9,194.2 690.9,193.5 691.9,192.8 692.8,192.2 693.8,191.5 694.8,190.8 695.8,190.2 696.8,189.5 697.8,188.8 698.8,188.2 699.8,187.5 700.8,187.3 701.7,187.1 702.7,186.9 703.6,186.7 704.6,186.5 705.6,186.3 706.5,186.2 707.5,186.0 708.5,185.8 709.4,185.6 710.4,185.4 711.3,185.2 712.3,185.0 713.2,185.9 714.2,186.9 715.1,187.8 716.0,188.8 717.0,189.7 717.9,190.6 718.9,191.6 719.8,192.5 720.7,192.1 721.7,191.7 722.6,191.3 723.6,191.0 724.5,190.6 725.4,190.2 726.4,189.8 727.3,189.4 728.3,189.0 729.2,188.6 730.1,188.2 731.1,187.9 732.0,187.5 733.0,187.1 733.9,186.7 734.8,187.8 735.8,188.8 736.7,189.8 737.6,190.9 738.5,191.9 739.5,193.0 740.4,194.0 741.3,195.1 742.3,196.1 743.2,197.2 744.2,196.7 745.1,196.1 746.1,195.6 747.0,195.0 748.0,194.5 749.0,193.9 749.9,193.4 750.9,192.8 751.8,192.3 752.8,191.7 753.7,191.2 754.7,190.6 755.7,190.1 756.6,189.5 757.6,189.0 758.5,188.4 759.5,187.9 760.5,189.6 761.5,191.2 762.5,192.9 763.4,194.5 764.4,196.2 765.4,197.8 766.4,199.5 767.3,199.3 768.3,199.0 769.2,198.8 770.1,198.6 771.0,198.3 772.0,198.1 772.9,197.9 773.8,197.7 774.8,197.4 775.7,197.2 776.6,198.2 777.6,199.3 778.5,200.3 779.4,201.4 780.4,202.4 781.3,203.4 782.2,204.5 783.1,205.5 784.1,206.6 785.0,207.6 785.9,205.0 786.8,202.4 787.6,199.8 788.5,197.2 789.5,199.7 790.4,202.2 791.4,204.8 792.4,207.3 793.3,209.8 794.3,212.3 795.3,210.4 796.2,208.4 797.2,206.4 798.2,204.5 799.1,202.6 800.1,200.6 801.1,202.3 802.0,204.0 803.0,205.7 803.9,207.4 804.9,209.1 805.8,210.7 806.8,212.4 807.7,214.1 808.7,215.8 809.6,217.5 810.6,219.2 811.5,218.2 812.4,217.1 813.3,216.1 814.2,215.1 815.1,214.0 816.0,213.0 816.9,212.0 817.8,210.9 818.7,209.9 819.7,211.8 820.6,213.8 821.6,215.7 822.6,217.6 823.5,219.6 824.5,221.5 825.5,221.8 826.4,222.1 827.4,222.4 828.4,222.7 829.3,223.0 830.3,223.2 831.3,223.5 832.2,223.8 833.2,224.1 834.2,224.4 835.1,224.7 836.1,225.0 837.0,226.1 838.0,227.1 838.9,228.2 839.8,229.2 840.8,230.2 841.7,231.3 842.6,232.3 843.5,233.4 844.5,234.4 845.4,235.5 846.4,235.5 847.3,235.6 848.3,235.6 849.3,235.7 850.2,235.7 851.2,235.8 852.2,235.8 853.1,235.9 854.1,235.9 855.1,236.0 856.0,236.0 857.0,236.1 858.0,236.1 858.9,236.1 859.9,236.2 860.9,236.2 861.8,236.3 862.8,236.3 863.8,236.4 864.7,236.4 865.7,236.5 866.7,236.5 867.6,236.6 868.6,236.6" fill="none" stroke="#7680b5" stroke-width="4.6" stroke-linejoin="round" />
<path d="M110.7,306H111.7V303.6H112.7V305.3H113.7V306.3H114.7V306.8H115.7V305.5H116.7V306.2H117.7V305.3H118.7V304.4H119.7V304.8H120.7V305.1H121.7V303H122.7V305.7H123.7V301.3H124.7V304H125.7V303.1H126.7V305H127.7V305.3H128.7V305.4H129.7V305.9H130.7V304.6H131.7V303.6H132.7V304H133.7V303.7H134.7V302H135.7V296.8H136.7V298.5H137.7V297.3H138.7V297.7H139.7V295.5H140.7V293.1H141.7V292.2H142.7V289.1H143.7V288H144.7V287H145.7V283.8H146.7V282.1H147.7V280.8H148.7V278.1H149.7V273.1H150.7V268.1H151.7V263.8H152.7V257.9H153.7V255.4H154.7V254.1H155.7V251.2H156.7V249.8H157.7V253.9H158.7V258.2H159.7V261.4H160.7V263.2H161.7V264.7H162.7V265.7H163.7V267H164.7V267.3H165.7V265.9H166.7V265.5H167.7V266.7H168.7V267.3H169.7V268H170.7V268.5H171.7V268.1H172.7V268.3H173.7V269.8H174.7V270.8H175.7V270.9H176.7V271.8H177.7V271.1H178.7V269.5H179.7V270.1H180.7V270.7H181.7V271.7H182.7V270.8H183.7V270.8H184.7V271.8H185.7V272.8H186.7V272.1H187.7V273.4H188.7V274.5H189.7V273.9H190.7V274.5H191.7V275.2H192.7V275.7H193.7V274.8H194.7V273.9H195.7V275H196.7V275.6H197.7V273.1H198.7V274.3H199.7V273.9H200.7V275.6H201.7V275.5H202.7V275.1H203.7V274.9H204.7V273.8H205.7V274.8H206.7V274.7H207.7V271.4H208.7V273.4H209.7V272.1H210.7V272.7H211.7V273.3H212.7V272.7H213.7V272.2H214.7V272.3H215.7V274H216.7V275.2H217.7V274.3H218.7V274H219.7V274.4H220.7V274H221.7V273.5H222.7V273.1H223.7V273.2H224.7V273.6H225.7V273.4H226.7V272.8H227.7V273.4H228.7V272.9H229.7V269.5H230.7V272.1H231.7V271.7H232.7V272.9H233.7V273.5H234.7V273.5H235.7V274.1H236.7V272.4H237.7V272.9H238.7V273.7H239.7V273.2H240.7V273.8H241.7V272.6H242.7V272.6H243.7V273.6H244.7V273.5H245.7V273.4H246.7V272.6H247.7V271.6H248.7V271.6H249.7V273H250.7V272.6H251.7V271.2H252.7V271H253.7V271.2H254.7V270.9H255.7V271.5H256.7V271.1H257.7V270.5H258.7V269.8H259.7V270.6H260.7V272.1H261.7V271.2H262.7V270H263.7V269.9H264.7V269H265.7V267.3H266.7V268.1H267.7V268.9H268.7V266.3H269.7V268.7H270.7V269.1H271.7V267.3H272.7V266.7H273.7V267.2H274.7V268.3H275.7V267.6H276.7V267.3H277.7V267.1H278.7V265.9H279.7V266.2H280.7V265H281.7V266.1H282.7V266.4H283.7V266H284.7V266.2H285.7V267.1H286.7V267.4H287.7V266H288.7V264.2H289.7V263.2H290.7V264.2H291.7V264.6H292.7V265.2H293.7V265H294.7V265H295.7V266.7H296.7V267H297.7V266.2H298.7V265.8H299.7V267.8H300.7V268.9H301.7V268.7H302.7V268.7H303.7V267.9H304.7V268.1H305.7V269.7H306.7V270.8H307.7V270.2H308.7V269.7H309.7V269.3H310.7V269.3H311.7V268.5H312.7V269.6H313.7V270.1H314.7V268H315.7V268.5H316.7V270.1H317.7V269.1H318.7V269.3H319.7V268.3H320.7V266.3H321.7V266.5H322.7V267.9H323.7V268.7H324.7V268.1H325.7V263.6H326.7V266.9H327.7V266.8H328.7V267.7H329.7V269.3H330.7V269.7H331.7V269.3H332.7V269.1H333.7V268.4H334.7V269.2H335.7V267.2H336.7V268.8H337.7V268.7H338.7V268.1H339.7V269H340.7V269.4H341.7V268.1H342.7V268.9H343.7V269.8H344.7V270.2H345.7V268.9H346.7V268.1H347.7V269.2H348.7V267.1H349.7V270.6H350.7V269H351.7V267.7H352.7V267.5H353.7V269H354.7V268.8H355.7V267.6H356.7V269.1H357.7V268.9H358.7V269.3H359.7V270.4H360.7V269.8H361.7V269.3H362.7V270.6H363.7V270H364.7V269.1H365.7V270.6H366.7V270.9H367.7V270H368.7V265.9H369.7V270.2H370.7V271.4H371.7V271.9H372.7V272.5H373.7V272.3H374.7V272.9H375.7V272.9H376.7V273H377.7V274H378.7V273.7H379.7V273.6H380.7V272.8H381.7V268.4H382.7V272.5H383.7V273H384.7V272.2H385.7V271.4H386.7V272.7H387.7V272.6H388.7V272.8H389.7V273.8H390.7V273.2H391.7V271.5H392.7V270.5H393.7V270.2H394.7V270.5H395.7V270.6H396.7V270.7H397.7V270.9H398.7V271.3H399.7V270.9H400.7V271.8H401.7V272.8H402.7V271.6H403.7V271H404.7V271.6H405.7V271.1H406.7V271.2H407.7V270.9H408.7V269.8H409.7V269.7H410.7V269.8H411.7V269.2H412.7V270.6H413.7V272.3H414.7V271.5H415.7V270.1H416.7V270H417.7V269.8H418.7V268.8H419.7V268.9H420.7V269.6H421.7V269.4H422.7V268.5H423.7V269.2H424.7V267.6H425.7V268.7H426.7V266.9H427.7V269.7H428.7V268.8H429.7V268.8H430.7V268.4H431.7V268.1H432.7V268.9H433.7V269.7H434.7V270.4H435.7V270.9H436.7V270.8H437.7V269.5H438.7V269.4H439.7V270H440.7V270.3H441.7V269.1H442.7V268H443.7V269.3H444.7V269.9H445.7V269.2H446.7V270.1H447.7V270.6H448.7V269.6H449.7V268.9H450.7V267.7H451.7V270.5H452.7V269.4H453.7V269.3H454.7V269.1H455.7V268.3H456.7V270H457.7V271.2H458.7V270.7H459.7V270.1H460.7V270H461.7V270.6H462.7V271.6H463.7V272.9H464.7V273.8H465.7V273.3H466.7V272.2H467.7V273.1H468.7V273.4H469.7V273.7H470.7V274.6H471.7V273.8H472.7V274.1H473.7V276.2H474.7V277.4H475.7V276.8H476.7V276.7H477.7V276.7H478.7V278.7H479.7V280.7H480.7V281.2H481.7V282.5H482.7V283H483.7V284.2H484.7V285.9H485.7V286H486.7V286H487.7V287.2H488.7V288.5H489.7V288.3H490.7V290H491.7V290.2H492.7V289.9H493.7V290.4H494.7V291.4H495.7V292.7H496.7V293H497.7V293.9H498.7V294.4H499.7V294.3H500.7V294.9H501.7V295.9H502.7V296.8H503.7V296.2H504.7V297.4H505.7V296.9H506.7V295.4H507.7V294.7H508.7V293.5H509.7V293.6H510.7V293.4H511.7V288.7H512.7V292.4H513.7V292.6H514.7V291.6H515.7V291.1H516.7V291.5H517.7V290.8H518.7V289.6H519.7V289.6H520.7V288.5H521.7V286.6H522.7V288H523.7V286.6H524.7V285.7H525.7V285.9H526.7V286.2H527.7V286.1H528.7V285.9H529.7V285.2H530.7V285H531.7V286.3H532.7V287.7H533.7V287.5H534.7V287.2H535.7V289.8H536.7V292.2H537.7V292.7H538.7V293.3H539.7V294.9H540.7V297.6H541.7V300.9H542.7V304.9H543.7V309.8H544.7V315.1H545.7V319.8H546.7V323.4H547.7V328.1H548.7V331.9H549.7V335.9H550.7V339H551.7V342H552.7V346H553.7V350.3H554.7V354.1H555.7V356.4H556.7V357.6H557.7V359.2H558.7V363.1H559.7V366.3H560.7V367.3H561.7V369H562.7V370.5H563.7V371.5H564.7V373.2H565.7V374.1H566.7V374.2H567.7V374.9H568.7V374.8H569.7V374.4H570.7V374.6H571.7V374H572.7V375.2H573.7V376.5H574.7V376H575.7V375H576.7V374.4H577.7V374.4H578.7V375.8H579.7V376H580.7V375.8H581.7V377.1H582.7V376.6H583.7V376.2H584.7V375.6H585.7V374.2H586.7V373.7H587.7V373.1H588.7V373.2H589.7V374.4H590.7V374.5H591.7V374.2H592.7V373.8H593.7V373.4H594.7V373.2H595.7V372.4H596.7V371.1H597.7V370.4H598.7V370H599.7V365.3H600.7V367.9H601.7V367.7H602.7V368.4H603.7V367.4H604.7V366.6H605.7V367.7H606.7V367.6H607.7V366H608.7V366.4H609.7V365.7H610.7V366H611.7V366H612.7V366H613.7V365.8H614.7V364.2H615.7V363.4H616.7V364H617.7V363.9H618.7V364.3H619.7V364H620.7V363.8H621.7V364.5H622.7V365H623.7V363.8H624.7V364H625.7V365.6H626.7V364.6H627.7V364.7H628.7V364.5H629.7V364.1H630.7V363.8H631.7V363.5H632.7V364.3H633.7V364.1H634.7V364.6H635.7V363.8H636.7V363.1H637.7V363.8H638.7V363.5H639.7V363.4H640.7V363.4H641.7V363.3H642.7V362.6H643.7V362.8H644.7V362.5H645.7V362.9H646.7V364.3H647.7V363.7H648.7V363.3H649.7V362.3H650.7V361.9H651.7V362.9H652.7V364.2H653.7V362.9H654.7V362.4H655.7V362.5H656.7V362.6H657.7V362H658.7V361.3H659.7V363.1H660.7V363.4H661.7V363.1H662.7V362.4H663.7V362H664.7V362.4H665.7V361.5H666.7V361.5H667.7V361.8H668.7V362.9H669.7V362.3H670.7V361.2H671.7V363.1H672.7V364.4H673.7V362.6H674.7V362.6H675.7V362.8H676.7V363.5H677.7V364.2H678.7V364.5H679.7V364.1H680.7V363.6H681.7V364.5H682.7V363.6H683.7V363.7H684.7V364.5H685.7V364.1H686.7V362.9H687.7V363.2H688.7V363.1H689.7V364H690.7V363.9H691.7V362.7H692.7V359.8H693.7V362.8H694.7V363.3H695.7V363H696.7V363.3H697.7V364.4H698.7V365.3H699.7V365H700.7V363.4H701.7V364.4H702.7V365.6H703.7V364.2H704.7V363.7H705.7V363.3H706.7V363.7H707.7V365.2H708.7V365.1H709.7V364.5H710.7V364.2H711.7V364.7H712.7V364.7H713.7V363.7H714.7V364H715.7V364.3H716.7V365.7H717.7V366.5H718.7V366.4H719.7V365.6H720.7V366.6H721.7V368.2H722.7V367.9H723.7V367.4H724.7V367.4H725.7V367.9H726.7V367.8H727.7V366.7H728.7V367.7H729.7V369H730.7V365.7H731.7V367.4H732.7V365H733.7V367.3H734.7V367.6H735.7V368.4H736.7V369.4H737.7V368.1H738.7V368.4H739.7V369H740.7V369.2H741.7V369.8H742.7V369.5H743.7V367.6H744.7V367.5H745.7V368.2H746.7V368.3H747.7V366.8H748.7V367H749.7V365.2H750.7V365.1H751.7V366H752.7V366.3H753.7V366.4H754.7V366.3H755.7V366.1H756.7V365.8H757.7V364H758.7V362.9H759.7V363.7H760.7V364.7H761.7V364.1H762.7V362H763.7V362.7H764.7V362H765.7V360.1H766.7V361.5H767.7V363.2H768.7V361.6H769.7V360.4H770.7V360.3H771.7V361.4H772.7V361.8H773.7V361.1H774.7V360.5H775.7V361.3H776.7V360.8H777.7V359.8H778.7V358.2H779.7V360.5H780.7V360.8H781.7V361.4H782.7V361.6H783.7V360.6H784.7V360.9H785.7V362.2H786.7V360.8H787.7V360.6H788.7V358.5H789.7V359.6H790.7V359.6H791.7V359.7H792.7V359.3H793.7V360.4H794.7V361.2H795.7V361.7H796.7V360.4H797.7V361H798.7V359.1H799.7V361.5H800.7V361.1H801.7V359.6H802.7V359.4H803.7V360.5H804.7V361.5H805.7V360.6H806.7V359.7H807.7V360.7H808.7V360.5H809.7V360.7H810.7V361.2H811.7V361.5H812.7V360.8H813.7V358H814.7V356.7H815.7V356.1H816.7V353.9H817.7V352.6H818.7V351.6H819.7V349H820.7V347.9H821.7V347.5H822.7V345.7H823.7V343.8H824.7V342.2H825.7V339.4H826.7V336.9H827.7V336.8H828.7V335.9H829.7V333.1H830.7V327.8H831.7V328.8H832.7V322.5H833.7V316.7H834.7V313.2H835.7V307.7H836.7V302H837.7V298.4H838.7V295.1H839.7V290.6H840.7V286.1H841.7V282.4H842.7V279.8H843.7V276.6H844.7V273.4H845.7V271.5H846.7V270.8H847.7V270.9H848.7V268.4H849.7V266H850.7V265.2H851.7V261.4H852.7V264.4H853.7V264.4H854.7V263.4H855.7V261.9H856.7V261.5H857.7V261.8H858.7V261.9H859.7V261.6H860.7V262H861.7V262.7H862.7V263.1H863.7V261.7H864.7V260.8H865.7V260.3H866.7V260.5H867.7V260.1H868.7V272.4H867.7V272.7H866.7V272H865.7V272.7H864.7V272.7H863.7V273.2H862.7V274.6H861.7V274.4H860.7V274.1H859.7V276.1H858.7V274.8H857.7V273H856.7V274.1H855.7V276H854.7V275.9H853.7V276.8H852.7V279.6H851.7V280.6H850.7V280.5H849.7V280.2H848.7V281.5H847.7V283.2H846.7V283.2H845.7V284.2H844.7V288.2H843.7V292H842.7V297H841.7V299.5H840.7V305.9H839.7V310.6H838.7V310.6H837.7V314.9H836.7V320.3H835.7V327.7H834.7V328.5H833.7V334.2H832.7V339.2H831.7V343H830.7V345.8H829.7V347.2H828.7V348.4H827.7V349.3H826.7V352.3H825.7V354.6H824.7V355.1H823.7V355.7H822.7V358.3H821.7V360.9H820.7V363.3H819.7V363.7H818.7V365.3H817.7V367.4H816.7V367.3H815.7V368.5H814.7V370.6H813.7V372.4H812.7V373.6H811.7V372.4H810.7V371H809.7V371H808.7V371.1H807.7V371H806.7V371.2H805.7V372.5H804.7V373.3H803.7V373H802.7V372.3H801.7V375.6H800.7V372.1H799.7V371.3H798.7V371.2H797.7V371.3H796.7V371.6H795.7V372.5H794.7V373H793.7V371.6H792.7V372.7H791.7V373.2H790.7V376.3H789.7V372.6H788.7V373.1H787.7V373H786.7V372.5H785.7V373H784.7V373.2H783.7V373.2H782.7V372.5H781.7V373.8H780.7V373.9H779.7V373.6H778.7V373.4H777.7V372.9H776.7V372.9H775.7V372.2H774.7V372.8H773.7V373.5H772.7V373.1H771.7V372.3H770.7V373.3H769.7V374.5H768.7V372.9H767.7V372.1H766.7V373.8H765.7V374.7H764.7V374.7H763.7V374.5H762.7V374H761.7V374.3H760.7V374.6H759.7V375.6H758.7V375.8H757.7V376.1H756.7V377.3H755.7V378.8H754.7V378.4H753.7V377H752.7V377.7H751.7V378.4H750.7V378H749.7V379.3H748.7V379H747.7V378.5H746.7V379.2H745.7V380.5H744.7V380.3H743.7V379.9H742.7V380.9H741.7V380.5H740.7V380.1H739.7V381.2H738.7V380.9H737.7V381.6H736.7V380.6H735.7V380.1H734.7V380.1H733.7V382H732.7V380.1H731.7V380.8H730.7V380.9H729.7V380.9H728.7V380.8H727.7V379.8H726.7V380H725.7V379.6H724.7V379H723.7V378.5H722.7V377.9H721.7V378H720.7V379.4H719.7V379.1H718.7V377.8H717.7V376.7H716.7V375.1H715.7V375.4H714.7V375.2H713.7V374.1H712.7V377.8H711.7V375.2H710.7V376.1H709.7V377H708.7V377.1H707.7V376.6H706.7V377H705.7V377.5H704.7V377.4H703.7V376.4H702.7V375.8H701.7V376.6H700.7V375.4H699.7V375.7H698.7V376.1H697.7V375.7H696.7V376.3H695.7V375.8H694.7V375.8H693.7V375.9H692.7V376.8H691.7V376.4H690.7V375.2H689.7V375.2H688.7V375.9H687.7V377.6H686.7V376.5H685.7V374.7H684.7V375.2H683.7V375.5H682.7V373.9H681.7V374.6H680.7V374.7H679.7V374.1H678.7V374.8H677.7V376.3H676.7V376.2H675.7V376.2H674.7V375.5H673.7V374.6H672.7V373.8H671.7V374.1H670.7V374.3H669.7V374.1H668.7V374.2H667.7V374.7H666.7V375.1H665.7V374.9H664.7V375.1H663.7V375.3H662.7V375.9H661.7V375.7H660.7V374.7H659.7V375H658.7V375.4H657.7V375.2H656.7V375.4H655.7V374.3H654.7V373.6H653.7V374.6H652.7V376.3H651.7V377.1H650.7V376.6H649.7V376.5H648.7V376.6H647.7V375.3H646.7V374H645.7V374.4H644.7V374.8H643.7V375.1H642.7V376.7H641.7V376.2H640.7V375H639.7V374.9H638.7V375.3H637.7V376.8H636.7V376.7H635.7V375.4H634.7V375.5H633.7V376.6H632.7V377H631.7V376.3H630.7V376.4H629.7V377.4H628.7V376.5H627.7V375.3H626.7V376.5H625.7V378.1H624.7V378.2H623.7V377.8H622.7V378.5H621.7V378.6H620.7V377.5H619.7V378.8H618.7V377.9H617.7V376.3H616.7V377.7H615.7V377.5H614.7V376H613.7V376.7H612.7V377.4H611.7V377.9H610.7V379.7H609.7V379.4H608.7V378.4H607.7V379.4H606.7V379.6H605.7V380.6H604.7V382.1H603.7V381.9H602.7V381.7H601.7V382.4H600.7V383.1H599.7V383.4H598.7V383.6H597.7V383H596.7V382.4H595.7V383.5H594.7V385H593.7V386H592.7V385.6H591.7V385.9H590.7V386.3H589.7V385.3H588.7V386.3H587.7V386.4H586.7V386.3H585.7V387.6H584.7V388.7H583.7V387.5H582.7V386.8H581.7V387.3H580.7V387.8H579.7V387.6H578.7V387.5H577.7V387.9H576.7V389.3H575.7V386.8H574.7V387H573.7V386.1H572.7V386.1H571.7V385.7H570.7V387H569.7V387.2H568.7V386.7H567.7V387.3H566.7V387.4H565.7V385.7H564.7V383.1H563.7V382.7H562.7V381.7H561.7V377.9H560.7V375.7H559.7V374.3H558.7V372H557.7V371.6H556.7V369.5H555.7V366.3H554.7V362.3H553.7V358.4H552.7V355.1H551.7V350.6H550.7V350.5H549.7V342.8H548.7V339.2H547.7V339H546.7V330.1H545.7V327.1H544.7V325.6H543.7V318.9H542.7V314.2H541.7V310.9H540.7V306.8H539.7V303.5H538.7V302.5H537.7V302.9H536.7V302.5H535.7V300.8H534.7V299.5H533.7V297.7H532.7V296.8H531.7V297.5H530.7V296.7H529.7V296.5H528.7V297.5H527.7V297.9H526.7V299H525.7V300.5H524.7V299.7H523.7V298.4H522.7V299.2H521.7V301H520.7V300.7H519.7V300H518.7V300.9H517.7V301.6H516.7V303.1H515.7V303.4H514.7V302.9H513.7V303.8H512.7V306.3H511.7V307.2H510.7V307.3H509.7V306.8H508.7V307H507.7V309.3H506.7V310.1H505.7V309.7H504.7V309.7H503.7V309.7H502.7V307.4H501.7V306.9H500.7V307.7H499.7V307.1H498.7V305.4H497.7V304.3H496.7V304.1H495.7V303.2H494.7V302.5H493.7V301.1H492.7V301H491.7V300.3H490.7V300.2H489.7V300.6H488.7V299.8H487.7V299.2H486.7V298.5H485.7V296.2H484.7V295.2H483.7V295.2H482.7V293.9H481.7V292.2H480.7V290.7H479.7V292.1H478.7V289.7H477.7V288.7H476.7V288.3H475.7V286.6H474.7V286.5H473.7V287H472.7V286.2H471.7V284.3H470.7V285.4H469.7V287H468.7V285.8H467.7V284.2H466.7V283.8H465.7V283.4H464.7V283.8H463.7V284.3H462.7V283.3H461.7V281.9H460.7V284.9H459.7V280.9H458.7V281.8H457.7V282.3H456.7V281.5H455.7V281.3H454.7V281.7H453.7V282.4H452.7V282.5H451.7V281.3H450.7V281.2H449.7V282.4H448.7V281.7H447.7V281.7H446.7V282.4H445.7V282.9H444.7V281.4H443.7V280.2H442.7V281.3H441.7V282.6H440.7V283.1H439.7V281.8H438.7V280.3H437.7V280.7H436.7V281.4H435.7V281.7H434.7V281.1H433.7V280.8H432.7V280.4H431.7V280.6H430.7V281.7H429.7V281.6H428.7V280.8H427.7V279.8H426.7V280.2H425.7V279.9H424.7V281H423.7V281.8H422.7V281.7H421.7V281.4H420.7V283H419.7V283.5H418.7V282H417.7V280.6H416.7V281H415.7V281.5H414.7V282.1H413.7V281.7H412.7V282.6H411.7V287.3H410.7V283.1H409.7V285.4H408.7V282.8H407.7V283.9H406.7V283.6H405.7V284.3H404.7V283.5H403.7V286.1H402.7V283.7H401.7V282.1H400.7V281.7H399.7V282.8H398.7V283.7H397.7V283.7H396.7V283.3H395.7V282.1H394.7V282.4H393.7V283.9H392.7V285.1H391.7V284.7H390.7V284.7H389.7V285H388.7V284.4H387.7V283.9H386.7V285H385.7V285H384.7V285.7H383.7V284.7H382.7V284.5H381.7V285.5H380.7V284.7H379.7V285.5H378.7V285.9H377.7V285.6H376.7V285.1H375.7V283.3H374.7V283.7H373.7V285.2H372.7V283.5H371.7V282.8H370.7V283.8H369.7V282.9H368.7V282.7H367.7V282.8H366.7V282.8H365.7V283.2H364.7V282H363.7V281.5H362.7V281.3H361.7V280.3H360.7V281.5H359.7V282.4H358.7V280.4H357.7V279.4H356.7V280.6H355.7V280.6H354.7V279.2H353.7V280.2H352.7V280.3H351.7V279.1H350.7V279.2H349.7V280.8H348.7V281.5H347.7V281.1H346.7V282.3H345.7V281.8H344.7V280.5H343.7V280.2H342.7V280.9H341.7V280.8H340.7V281H339.7V282.6H338.7V280.8H337.7V280.1H336.7V283.3H335.7V280.4H334.7V279.7H333.7V280.4H332.7V279.5H331.7V279.3H330.7V280.6H329.7V279.7H328.7V278.2H327.7V278.5H326.7V278.3H325.7V279H324.7V279.9H323.7V279.5H322.7V280.3H321.7V281.3H320.7V280.1H319.7V280.1H318.7V281.2H317.7V281.3H316.7V281.7H315.7V280.6H314.7V282.2H313.7V282.1H312.7V281.4H311.7V281.8H310.7V279.9H309.7V280.5H308.7V281.5H307.7V282.5H306.7V281.9H305.7V281.8H304.7V281.8H303.7V280.5H302.7V280.8H301.7V279.7H300.7V279H299.7V280.2H298.7V279H297.7V277.2H296.7V278.3H295.7V279.1H294.7V278.7H293.7V278.5H292.7V277H291.7V276H290.7V276.4H289.7V277H288.7V277.6H287.7V278.2H286.7V277.8H285.7V277.4H284.7V277.3H283.7V278.3H282.7V279.2H281.7V279.2H280.7V280.1H279.7V280.3H278.7V280.5H277.7V280.1H276.7V279.1H275.7V279H274.7V280.2H273.7V280.6H272.7V280.8H271.7V280.1H270.7V281.3H269.7V280.8H268.7V282H267.7V282H266.7V281.5H265.7V281.3H264.7V280.9H263.7V281.1H262.7V281.6H261.7V283.1H260.7V287.2H259.7V282.7H258.7V282.1H257.7V282.7H256.7V284.2H255.7V283.8H254.7V286.6H253.7V284.1H252.7V282.7H251.7V283.1H250.7V283.2H249.7V284.4H248.7V285.4H247.7V285.6H246.7V284.9H245.7V283.5H244.7V283.7H243.7V283.3H242.7V283.8H241.7V284.1H240.7V284.7H239.7V284.9H238.7V284.9H237.7V284.5H236.7V284.2H235.7V284.3H234.7V284H233.7V284.4H232.7V285.3H231.7V284.1H230.7V284.3H229.7V284.2H228.7V283.6H227.7V285H226.7V284.8H225.7V283.9H224.7V285.8H223.7V286.5H222.7V285.3H221.7V287.6H220.7V284.3H219.7V284.8H218.7V285.1H217.7V285.9H216.7V286.1H215.7V286.1H214.7V285.9H213.7V285.7H212.7V285.2H211.7V285.8H210.7V286.6H209.7V287H208.7V286.9H207.7V285.9H206.7V286.1H205.7V285H204.7V285.8H203.7V287.4H202.7V287.9H201.7V287.2H200.7V286.2H199.7V285.4H198.7V285.5H197.7V287.5H196.7V288.6H195.7V286.8H194.7V285.8H193.7V287.2H192.7V286.8H191.7V286H190.7V286.1H189.7V286.5H188.7V285.2H187.7V284.9H186.7V285.7H185.7V285.3H184.7V288.3H183.7V284.2H182.7V283.4H181.7V283.2H180.7V283.1H179.7V282.1H178.7V282.3H177.7V282.3H176.7V281.9H175.7V281.8H174.7V281H173.7V280.6H172.7V280.5H171.7V279.6H170.7V279.9H169.7V281.2H168.7V279.8H167.7V278.9H166.7V278.9H165.7V278.4H164.7V280.3H163.7V276.8H162.7V276H161.7V274.4H160.7V271.6H159.7V270.4H158.7V264.8H157.7V263.3H156.7V264.8H155.7V267H154.7V269.1H153.7V272.3H152.7V276.2H151.7V280.5H150.7V284.9H149.7V289.6H148.7V292.9H147.7V294.4H146.7V297H145.7V298.2H144.7V299.7H143.7V301.6H142.7V303.6H141.7V307.1H140.7V309.4H139.7V310.5H138.7V310.2H137.7V310.2H136.7V313.5H135.7V311.8H134.7V312.6H133.7V314.1H132.7V316.3H131.7V317.8H130.7V317.6H129.7V316.6H128.7V316.5H127.7V316.2H126.7V314.7H125.7V316H124.7V320.9H123.7V317.8H122.7V316.7H121.7V317.3H120.7V318.6H119.7V318.5H118.7V319H117.7V317.8H116.7V317.7H115.7V318.8H114.7V319.6H113.7V319.7H112.7V319.6H111.7V318.8H110.7Z" fill="#ff0000"/>
<polyline points="111.2,312.3 112.2,312.2 113.1,312.1 114.1,312.0 115.1,311.9 116.0,311.8 117.0,311.6 118.0,311.5 118.9,311.4 119.9,311.3 120.9,311.2 121.8,311.1 122.8,311.0 123.8,310.9 124.8,310.8 125.7,310.7 126.7,310.6 127.7,310.4 128.6,310.3 129.6,310.2 130.6,310.1 131.5,310.0 132.5,309.9 133.4,309.0 134.4,308.0 135.3,307.1 136.2,306.1 137.2,305.2 138.1,304.3 139.1,303.3 140.0,302.4 141.0,300.5 141.9,298.5 142.9,296.6 143.9,294.6 144.8,292.7 145.8,290.7 146.8,288.8 147.7,286.8 148.7,284.9 149.7,280.4 150.7,275.9 151.7,271.4 152.7,266.9 153.7,262.4 154.6,260.8 155.6,259.3 156.5,257.8 157.4,256.2 158.3,259.6 159.3,263.0 160.2,266.5 161.2,269.9 162.2,270.3 163.2,270.8 164.1,271.2 165.1,271.7 166.1,272.1 167.1,272.6 168.1,273.0 169.0,273.4 170.0,273.9 171.0,274.3 172.0,274.8 172.9,275.2 173.9,275.7 174.9,276.1 175.9,276.3 176.9,276.5 177.8,276.8 178.8,277.0 179.8,277.2 180.8,277.4 181.7,277.6 182.7,277.8 183.7,278.1 184.7,278.3 185.7,278.5 186.6,278.7 187.6,278.9 188.6,279.1 189.6,279.4 190.6,279.6 191.5,279.8 192.5,280.0 193.5,280.2 194.5,280.4 195.4,280.7 196.4,280.9 197.4,281.1 198.4,281.0 199.4,280.9 200.3,280.8 201.3,280.7 202.3,280.7 203.3,280.6 204.3,280.5 205.3,280.4 206.2,280.3 207.2,280.2 208.2,280.1 209.2,280.0 210.2,279.9 211.2,279.9 212.1,279.8 213.1,279.7 214.1,279.6 215.1,279.5 216.1,279.4 217.0,279.3 218.0,279.2 219.0,279.1 220.0,279.0 221.0,279.0 222.0,278.9 222.9,278.8 223.9,278.7 224.9,278.6 225.9,278.6 226.9,278.6 227.9,278.6 228.9,278.6 229.9,278.6 230.9,278.6 231.9,278.6 232.9,278.6 233.9,278.6 234.9,278.6 235.9,278.6 236.9,278.6 237.9,278.6 238.9,278.6 239.9,278.6 240.9,278.6 241.9,278.6 242.9,278.6 243.9,278.6 244.9,278.6 245.9,278.6 246.9,278.6 247.9,278.6 248.9,278.6 249.9,278.6 250.9,278.4 251.9,278.2 252.9,278.0 253.9,277.8 254.9,277.6 255.9,277.4 256.9,277.2 257.9,277.0 258.9,276.8 259.9,276.6 260.9,276.4 261.9,276.2 262.8,276.0 263.8,275.8 264.8,275.6 265.8,275.4 266.8,275.2 267.8,275.0 268.8,274.8 269.8,274.6 270.8,274.4 271.8,274.2 272.8,274.0 273.8,273.8 274.8,273.6 275.8,273.5 276.7,273.3 277.7,273.2 278.7,273.0 279.7,272.9 280.6,272.8 281.6,272.6 282.6,272.5 283.6,272.4 284.5,272.2 285.5,272.1 286.5,271.9 287.4,271.8 288.4,271.7 289.4,271.5 290.4,271.4 291.3,271.2 292.3,271.1 293.3,271.4 294.3,271.8 295.3,272.1 296.3,272.4 297.3,272.8 298.3,273.1 299.3,273.4 300.3,273.8 301.3,274.1 302.3,274.4 303.3,274.8 304.3,275.1 305.3,275.4 306.3,275.8 307.3,276.1 308.3,276.0 309.2,275.8 310.2,275.7 311.2,275.5 312.2,275.4 313.1,275.3 314.1,275.1 315.1,275.0 316.1,274.9 317.0,274.7 318.0,274.6 319.0,274.4 319.9,274.3 320.9,274.2 321.9,274.0 322.9,273.9 323.8,273.7 324.8,273.6 325.8,273.7 326.8,273.8 327.8,273.9 328.8,273.9 329.8,274.0 330.8,274.1 331.8,274.2 332.8,274.3 333.8,274.4 334.8,274.5 335.8,274.6 336.8,274.6 337.8,274.7 338.8,274.8 339.8,274.9 340.8,274.9 341.7,274.9 342.7,274.9 343.6,274.9 344.6,274.9 345.5,274.9 346.4,274.9 347.4,274.9 348.4,274.9 349.3,274.9 350.2,274.9 351.2,274.9 352.1,274.9 353.1,274.9 354.1,274.9 355.0,274.9 356.0,275.0 357.0,275.2 358.0,275.3 359.0,275.5 360.0,275.6 361.0,275.8 362.0,275.9 363.0,276.1 364.0,276.2 365.0,276.4 366.0,276.5 367.0,276.7 368.0,276.8 369.0,277.0 370.0,277.1 371.0,277.3 372.0,277.4 373.0,277.6 374.0,277.7 375.0,277.9 376.0,278.0 377.0,278.2 378.0,278.3 379.0,278.5 380.0,278.6 381.0,278.6 382.0,278.5 383.0,278.5 384.0,278.4 385.0,278.4 386.0,278.3 387.0,278.3 388.0,278.2 389.0,278.2 390.0,278.1 391.0,278.1 392.0,278.0 392.9,278.0 393.9,277.9 394.9,277.9 395.9,277.8 396.9,277.8 397.9,277.7 398.9,277.7 399.9,277.6 400.9,277.6 401.9,277.5 402.9,277.5 403.9,277.4 404.9,277.4 405.9,277.3 406.9,277.2 407.9,277.1 408.9,277.0 409.9,276.9 410.9,276.8 411.9,276.7 412.9,276.6 413.9,276.5 414.9,276.4 415.9,276.3 416.9,276.2 417.9,276.1 418.9,276.0 419.9,275.9 420.9,275.8 421.9,275.7 422.9,275.6 423.9,275.5 424.9,275.4 425.9,275.3 426.9,275.2 427.9,275.1 428.9,275.0 429.9,274.9 430.9,274.9 431.9,275.0 432.9,275.0 433.9,275.1 434.9,275.1 435.9,275.1 436.9,275.2 437.9,275.2 438.9,275.3 439.9,275.3 440.9,275.3 441.9,275.4 442.9,275.4 443.9,275.5 444.9,275.5 445.9,275.5 446.9,275.6 447.9,275.6 448.9,275.7 449.9,275.7 450.9,275.7 451.9,275.8 452.9,275.8 453.9,275.9 454.9,275.9 455.9,275.9 456.9,276.0 457.9,276.0 458.9,276.1 459.9,276.1 460.9,276.5 461.8,276.8 462.8,277.2 463.8,277.5 464.8,277.9 465.7,278.2 466.7,278.6 467.7,278.9 468.6,279.2 469.6,279.6 470.6,279.9 471.6,280.3 472.5,280.6 473.5,281.0 474.5,281.3 475.5,281.7 476.4,282.0 477.4,282.4 478.4,283.4 479.3,284.3 480.3,285.3 481.2,286.2 482.2,287.2 483.1,288.2 484.1,289.1 485.0,290.1 486.0,291.1 486.9,292.0 487.9,293.0 488.8,293.9 489.8,294.9 490.8,295.5 491.8,296.1 492.8,296.6 493.8,297.2 494.8,297.8 495.8,298.4 496.8,299.0 497.8,299.5 498.8,300.1 499.8,300.7 500.8,301.3 501.8,301.9 502.8,302.4 503.8,303.0 504.8,303.6 505.8,303.0 506.8,302.4 507.8,301.9 508.8,301.3 509.8,300.7 510.8,300.1 511.8,299.5 512.8,299.0 513.8,298.4 514.8,297.8 515.8,297.2 516.8,296.6 517.8,296.1 518.8,295.5 519.8,294.9 520.7,294.6 521.7,294.3 522.6,293.9 523.5,293.6 524.5,293.3 525.4,293.0 526.3,292.7 527.3,292.4 528.2,292.1 529.1,291.7 530.1,291.4 531.0,291.1 532.0,291.9 533.0,292.8 533.9,293.6 534.9,294.4 535.9,295.3 536.9,296.1 537.8,296.9 538.8,297.8 539.8,298.6 540.7,302.5 541.7,306.4 542.6,310.3 543.5,314.2 544.5,318.1 545.4,322.0 546.4,325.9 547.3,329.8 548.2,333.6 549.2,337.3 550.1,341.1 551.0,344.8 552.0,348.6 552.9,352.3 553.9,356.1 554.8,359.8 555.7,361.6 556.7,363.4 557.6,365.3 558.5,367.1 559.4,368.9 560.4,370.7 561.3,372.5 562.2,374.3 563.1,376.2 564.1,378.0 565.0,379.8 566.0,379.9 567.0,380.1 568.0,380.2 569.0,380.3 570.0,380.4 571.0,380.6 572.0,380.7 573.0,380.8 574.0,380.9 575.0,381.1 576.0,381.2 577.0,381.3 578.0,381.4 579.0,381.6 580.0,381.7 581.0,381.8 582.0,381.9 583.0,382.1 584.0,382.2 585.0,382.3 586.0,381.9 586.9,381.5 587.9,381.1 588.9,380.6 589.8,380.2 590.8,379.8 591.8,379.4 592.7,379.0 593.7,378.6 594.7,378.1 595.6,377.7 596.6,377.3 597.6,376.9 598.5,376.5 599.5,376.1 600.5,375.6 601.4,375.2 602.4,374.8 603.4,374.5 604.3,374.2 605.3,373.9 606.2,373.6 607.2,373.3 608.2,373.0 609.1,372.8 610.1,372.5 611.1,372.2 612.0,371.9 613.0,371.6 613.9,371.3 614.9,371.0 615.9,371.0 616.9,370.9 617.9,370.9 618.9,370.8 619.9,370.8 620.9,370.7 621.9,370.7 622.9,370.6 623.9,370.6 624.9,370.5 625.9,370.5 626.9,370.4 627.9,370.4 628.9,370.3 629.9,370.3 630.9,370.2 631.9,370.2 632.9,370.1 633.9,370.1 634.9,370.0 635.9,370.0 636.9,369.9 637.9,369.9 638.9,369.8 639.9,369.8 640.9,369.7 641.9,369.7 642.9,369.6 643.9,369.6 644.9,369.5 645.9,369.5 646.9,369.4 647.9,369.4 648.9,369.3 649.9,369.3 650.9,369.2 651.9,369.2 652.9,369.1 653.9,369.1 654.9,369.0 655.9,369.0 656.9,368.9 657.9,368.9 658.9,368.8 659.9,368.8 660.9,368.7 661.9,368.7 662.9,368.6 663.9,368.6 664.9,368.5 665.9,368.6 666.9,368.6 667.9,368.7 668.9,368.7 669.9,368.8 670.9,368.8 671.9,368.9 672.9,368.9 673.9,369.0 674.9,369.0 675.9,369.1 676.9,369.1 677.9,369.2 678.9,369.2 679.9,369.3 680.9,369.3 681.9,369.4 682.9,369.4 683.9,369.5 684.9,369.5 685.9,369.6 686.9,369.6 687.9,369.7 688.9,369.7 689.9,369.8 690.9,369.8 691.9,369.8 692.9,369.8 693.9,369.8 694.9,369.8 695.9,369.8 696.9,369.8 697.9,369.8 698.9,369.8 699.9,369.8 700.9,369.8 701.9,369.8 702.8,369.8 703.8,369.8 704.8,369.8 705.8,369.8 706.8,369.8 707.8,369.8 708.8,369.8 709.8,369.8 710.8,369.8 711.8,369.8 712.8,369.8 713.8,369.8 714.8,369.8 715.7,370.2 716.5,370.7 717.4,371.1 718.3,371.6 719.1,372.1 720.0,372.5 721.0,372.6 721.9,372.7 722.9,372.8 723.9,372.9 724.8,373.0 725.8,373.1 726.8,373.2 727.7,373.3 728.7,373.4 729.7,373.5 730.6,373.6 731.6,373.6 732.6,373.7 733.5,373.8 734.5,373.9 735.5,374.0 736.4,374.1 737.4,374.2 738.4,374.3 739.3,374.4 740.3,374.5 741.3,374.6 742.2,374.7 743.2,374.8 744.2,374.5 745.1,374.2 746.1,373.9 747.1,373.6 748.0,373.3 749.0,373.1 750.0,372.8 750.9,372.5 751.9,372.2 752.9,371.9 753.8,371.6 754.8,371.3 755.8,371.0 756.7,370.7 757.7,370.4 758.7,370.1 759.6,369.8 760.6,369.6 761.6,369.3 762.5,369.0 763.5,368.7 764.5,368.4 765.4,368.1 766.4,367.8 767.4,367.8 768.3,367.7 769.3,367.7 770.3,367.6 771.3,367.6 772.2,367.5 773.2,367.5 774.2,367.4 775.1,367.4 776.1,367.3 777.1,367.3 778.0,367.2 779.0,367.2 780.0,367.2 781.0,367.1 781.9,367.1 782.9,367.0 783.9,367.0 784.8,366.9 785.8,366.9 786.8,366.8 787.8,366.8 788.7,366.7 789.7,366.7 790.7,366.7 791.6,366.7 792.6,366.7 793.6,366.7 794.5,366.7 795.5,366.7 796.5,366.7 797.4,366.7 798.4,366.7 799.4,366.7 800.3,366.7 801.3,366.7 802.3,366.7 803.2,366.7 804.2,366.7 805.2,366.7 806.1,366.7 807.1,366.7 808.1,366.7 809.0,366.7 810.0,366.7 811.0,366.7 811.9,366.7 812.9,366.7 813.8,365.3 814.8,363.9 815.7,362.5 816.6,361.1 817.5,359.8 818.5,358.4 819.4,357.0 820.3,355.6 821.3,354.2 822.2,352.8 823.1,351.2 824.1,349.5 825.0,347.9 825.9,346.3 826.9,344.6 827.8,343.0 828.7,341.4 829.6,339.8 830.6,338.1 831.5,336.5 832.5,331.9 833.5,327.2 834.5,322.6 835.4,317.9 836.4,313.3 837.4,308.6 838.4,304.0 839.4,300.3 840.4,296.7 841.4,293.0 842.4,289.4 843.4,285.7 844.4,282.1 845.4,278.4 846.3,277.5 847.3,276.6 848.2,275.6 849.1,274.7 850.0,273.8 851.0,272.9 851.9,272.0 852.8,271.0 853.8,270.1 854.7,269.2 855.7,269.0 856.7,268.9 857.7,268.7 858.7,268.5 859.7,268.3 860.7,268.2 861.7,268.0 862.6,267.8 863.6,267.7 864.6,267.5 865.6,267.3 866.6,267.1 867.6,267.0 868.6,266.8" fill="none" stroke="#ff0000" stroke-width="5.2" stroke-linejoin="round" />
<path d="M110.7,362.3H111.7V359.3H112.7V362.4H113.7V363.1H114.7V361.5H115.7V361H116.7V360H117.7V359.8H118.7V359.7H119.7V359.4H120.7V360.3H121.7V359.2H122.7V358.7H123.7V360.2H124.7V358.5H125.7V357.2H126.7V357.9H127.7V357.5H128.7V355.2H129.7V358.6H130.7V358.7H131.7V357.6H132.7V354.9H133.7V352.4H134.7V352.6H135.7V352.5H136.7V350.1H137.7V343.3H138.7V345.5H139.7V345.5H140.7V345.4H141.7V343.9H142.7V339.7H143.7V335.6H144.7V332.2H145.7V328.6H146.7V326H147.7V321.6H148.7V315.8H149.7V312.2H150.7V306.1H151.7V297.1H152.7V290.5H153.7V286.8H154.7V283.5H155.7V280.6H156.7V278.6H157.7V279.2H158.7V280.1H159.7V282.2H160.7V283.7H161.7V284.6H162.7V288.5H163.7V290.4H164.7V286.7H165.7V293.9H166.7V294.7H167.7V297.3H168.7V300.6H169.7V301.3H170.7V302.1H171.7V304.8H172.7V304.8H173.7V303.7H174.7V303.2H175.7V302.9H176.7V302.9H177.7V302H178.7V300.5H179.7V301.8H180.7V304.4H181.7V305.1H182.7V303.8H183.7V305.2H184.7V305.4H185.7V304.6H186.7V307H187.7V309.7H188.7V309.5H189.7V308.1H190.7V309.5H191.7V309.9H192.7V309.5H193.7V310H194.7V309.9H195.7V309.6H196.7V308.3H197.7V307.7H198.7V307.2H199.7V307.8H200.7V306.1H201.7V306.4H202.7V306.5H203.7V305.2H204.7V302.8H205.7V303.2H206.7V305.2H207.7V306.8H208.7V306.6H209.7V307H210.7V305.5H211.7V304H212.7V307.3H213.7V308.3H214.7V309.4H215.7V308.4H216.7V308.8H217.7V309.1H218.7V308.9H219.7V309.6H220.7V309.5H221.7V308.9H222.7V312H223.7V312.3H224.7V311.2H225.7V313.3H226.7V314.7H227.7V312.8H228.7V312.4H229.7V315.1H230.7V315.9H231.7V315H232.7V315H233.7V314.6H234.7V316.5H235.7V317.6H236.7V317.7H237.7V316.5H238.7V315.3H239.7V314.5H240.7V318.7H241.7V317.9H242.7V319H243.7V320.5H244.7V319.7H245.7V320.8H246.7V319.9H247.7V320.3H248.7V320.6H249.7V316.6H250.7V320.6H251.7V322.2H252.7V321.8H253.7V321.4H254.7V322.5H255.7V322.5H256.7V322.3H257.7V322.4H258.7V320.1H259.7V319.1H260.7V320.4H261.7V319.7H262.7V319.8H263.7V318.6H264.7V317.1H265.7V316.6H266.7V318.2H267.7V318.3H268.7V316.9H269.7V318H270.7V319.2H271.7V319.3H272.7V318.3H273.7V317.3H274.7V316.6H275.7V312.4H276.7V314.2H277.7V314.4H278.7V312.5H279.7V311H280.7V309.6H281.7V309.3H282.7V309.7H283.7V309.1H284.7V308.2H285.7V305.2H286.7V302.4H287.7V301.8H288.7V302.3H289.7V302.5H290.7V302.8H291.7V302.3H292.7V300.2H293.7V301.4H294.7V303.1H295.7V302.3H296.7V301.6H297.7V300.1H298.7V298.4H299.7V299H300.7V300.4H301.7V300.9H302.7V299.2H303.7V298.8H304.7V298.4H305.7V298.5H306.7V299.5H307.7V298.2H308.7V297.2H309.7V297.1H310.7V297.1H311.7V298H312.7V297.6H313.7V296.8H314.7V295.6H315.7V293.7H316.7V297.5H317.7V298.6H318.7V297.3H319.7V297H320.7V298.7H321.7V299.9H322.7V300.1H323.7V299.4H324.7V298.7H325.7V298.5H326.7V297.7H327.7V298.8H328.7V300.8H329.7V300.9H330.7V297.7H331.7V299.3H332.7V299.6H333.7V299.6H334.7V298.7H335.7V294.2H336.7V299.2H337.7V299.9H338.7V300.2H339.7V301.1H340.7V298.5H341.7V302.9H342.7V303.1H343.7V301.9H344.7V302.3H345.7V303.3H346.7V304H347.7V303.5H348.7V304.1H349.7V300.5H350.7V300.9H351.7V301.2H352.7V302.5H353.7V302.3H354.7V301.7H355.7V301.6H356.7V303.1H357.7V304.9H358.7V303.4H359.7V303.5H360.7V302.6H361.7V303H362.7V302.8H363.7V302.4H364.7V302.3H365.7V301.6H366.7V302H367.7V303.1H368.7V303.3H369.7V304.1H370.7V303H371.7V303.1H372.7V304.2H373.7V300.1H374.7V302.8H375.7V301.8H376.7V297.9H377.7V301H378.7V300.9H379.7V298H380.7V301.7H381.7V301.5H382.7V301.3H383.7V302.2H384.7V301.2H385.7V302.3H386.7V301.2H387.7V300.2H388.7V300.1H389.7V300.5H390.7V301.5H391.7V301.9H392.7V302.6H393.7V303.2H394.7V302.6H395.7V301.6H396.7V301H397.7V300.3H398.7V299.4H399.7V301.8H400.7V301.6H401.7V301.8H402.7V302.5H403.7V301H404.7V300.9H405.7V301.5H406.7V301.4H407.7V299.3H408.7V299.2H409.7V299.3H410.7V299.6H411.7V301.2H412.7V301.4H413.7V300H414.7V300.7H415.7V302.6H416.7V302.1H417.7V301.1H418.7V300.6H419.7V299.6H420.7V300.3H421.7V301.1H422.7V301.4H423.7V302.2H424.7V302.5H425.7V300.9H426.7V300.5H427.7V301.1H428.7V299.6H429.7V300.8H430.7V301.5H431.7V300.9H432.7V300.7H433.7V301.1H434.7V300.9H435.7V302.9H436.7V303H437.7V302H438.7V303.5H439.7V301.2H440.7V302.7H441.7V302.8H442.7V303.3H443.7V302.6H444.7V302.7H445.7V305.3H446.7V306.1H447.7V306.1H448.7V306.8H449.7V307.3H450.7V306.8H451.7V306.6H452.7V306.8H453.7V305.8H454.7V306.6H455.7V309.6H456.7V310.4H457.7V309.6H458.7V311.3H459.7V313.3H460.7V311.8H461.7V313H462.7V315.7H463.7V314.5H464.7V313.7H465.7V315.1H466.7V315.9H467.7V316H468.7V319.9H469.7V321.3H470.7V321.4H471.7V320H472.7V323H473.7V325.5H474.7V324.5H475.7V325.9H476.7V327.9H477.7V329H478.7V329.3H479.7V330.5H480.7V332.9H481.7V330.1H482.7V334.4H483.7V334.8H484.7V335H485.7V336.3H486.7V337.5H487.7V339.6H488.7V340.1H489.7V340H490.7V341.5H491.7V342.9H492.7V343.3H493.7V342.8H494.7V344H495.7V342.3H496.7V344.8H497.7V346.3H498.7V348.6H499.7V347.1H500.7V346.7H501.7V346.9H502.7V347.5H503.7V350.3H504.7V350.7H505.7V348.4H506.7V348.1H507.7V347.1H508.7V344.9H509.7V344.7H510.7V345.5H511.7V344.3H512.7V343.7H513.7V343H514.7V340.9H515.7V339.4H516.7V339.9H517.7V340.6H518.7V339H519.7V338.4H520.7V339.3H521.7V338H522.7V336.8H523.7V337.5H524.7V337.3H525.7V336.5H526.7V336.8H527.7V337.3H528.7V336H529.7V334.8H530.7V332.4H531.7V335.4H532.7V337.2H533.7V336.9H534.7V338.3H535.7V338.8H536.7V337.9H537.7V339.8H538.7V342.9H539.7V343.2H540.7V345.5H541.7V350.4H542.7V356.9H543.7V358.9H544.7V367.1H545.7V369.3H546.7V373.9H547.7V381.2H548.7V386.8H549.7V393.4H550.7V400.8H551.7V408.2H552.7V413.6H553.7V419.9H554.7V428.1H555.7V432.3H556.7V436.2H557.7V441.6H558.7V449H559.7V456.1H560.7V460.3H561.7V464.4H562.7V466.3H563.7V467H564.7V468.6H565.7V468.6H566.7V467.6H567.7V468.8H568.7V469.1H569.7V469.3H570.7V469.6H571.7V468.4H572.7V467.5H573.7V468H574.7V469.5H575.7V469.9H576.7V464.6H577.7V466.3H578.7V465.7H579.7V465.5H580.7V466.5H581.7V465.7H582.7V463.3H583.7V463.2H584.7V464.2H585.7V462.4H586.7V460.9H587.7V460.5H588.7V461.4H589.7V461.8H590.7V459.9H591.7V455H592.7V457.7H593.7V457.4H594.7V455.8H595.7V456.5H596.7V457.2H597.7V456.4H598.7V455.4H599.7V452.7H600.7V452.4H601.7V451.8H602.7V451.1H603.7V451.8H604.7V449.9H605.7V448.8H606.7V447.1H607.7V446.3H608.7V445.2H609.7V445H610.7V444.4H611.7V442.9H612.7V441.9H613.7V441.8H614.7V442.4H615.7V442.2H616.7V441.8H617.7V441.3H618.7V440.2H619.7V439H620.7V439.1H621.7V439.6H622.7V438.6H623.7V437.5H624.7V436.8H625.7V437.1H626.7V438.2H627.7V437.1H628.7V436.1H629.7V435.8H630.7V434H631.7V432.9H632.7V432.8H633.7V433.5H634.7V433.9H635.7V433.9H636.7V433.6H637.7V435.3H638.7V435.1H639.7V434.2H640.7V435.8H641.7V438H642.7V432.6H643.7V435.6H644.7V437.8H645.7V434H646.7V436.6H647.7V438.2H648.7V438.2H649.7V436.4H650.7V438.1H651.7V438.4H652.7V439.4H653.7V440.9H654.7V440.5H655.7V439.3H656.7V436.7H657.7V441.8H658.7V440.4H659.7V439.2H660.7V440.6H661.7V441.4H662.7V440.8H663.7V441.5H664.7V441H665.7V441.8H666.7V442.5H667.7V443.1H668.7V444.4H669.7V444.2H670.7V444.4H671.7V442.9H672.7V440.1H673.7V444.8H674.7V444.8H675.7V445.4H676.7V443.5H677.7V442.9H678.7V446.1H679.7V446.4H680.7V447.3H681.7V448H682.7V448H683.7V446.4H684.7V445.3H685.7V445.1H686.7V445.5H687.7V448.1H688.7V447.6H689.7V446.3H690.7V447.3H691.7V448.6H692.7V448.6H693.7V448.8H694.7V450.1H695.7V450.8H696.7V451.4H697.7V450.5H698.7V450.6H699.7V452.2H700.7V452.5H701.7V453.2H702.7V453.9H703.7V453.9H704.7V452.8H705.7V451.7H706.7V448.8H707.7V453.6H708.7V451.8H709.7V451.1H710.7V452.8H711.7V449.6H712.7V451.4H713.7V452.5H714.7V453.1H715.7V453.4H716.7V450.3H717.7V453.6H718.7V453.1H719.7V453.4H720.7V454.2H721.7V455.4H722.7V453.6H723.7V452H724.7V452.9H725.7V452.9H726.7V453.1H727.7V455.2H728.7V454.7H729.7V455H730.7V455.1H731.7V456.1H732.7V456H733.7V455.1H734.7V456.6H735.7V455.9H736.7V454.5H737.7V456.1H738.7V456.4H739.7V458.1H740.7V456.5H741.7V454.6H742.7V456.3H743.7V456.1H744.7V454.4H745.7V455.7H746.7V454.5H747.7V453.6H748.7V455.5H749.7V454.7H750.7V454.3H751.7V451.3H752.7V452H753.7V451.5H754.7V452.2H755.7V452.1H756.7V449.1H757.7V450.2H758.7V452H759.7V450H760.7V449.4H761.7V449.9H762.7V450.3H763.7V449.2H764.7V448.5H765.7V448.2H766.7V447.5H767.7V447.9H768.7V446.3H769.7V446.8H770.7V447.6H771.7V447.7H772.7V446.5H773.7V444.5H774.7V444.7H775.7V445.7H776.7V444.5H777.7V444.9H778.7V446.3H779.7V446.2H780.7V446.3H781.7V446.1H782.7V444.4H783.7V442.7H784.7V443.3H785.7V444H786.7V443.4H787.7V441.4H788.7V441.8H789.7V441.8H790.7V441.3H791.7V441.4H792.7V440.7H793.7V440.1H794.7V440.4H795.7V440.3H796.7V441H797.7V442.2H798.7V439.9H799.7V438.3H800.7V439.9H801.7V440.5H802.7V438.5H803.7V437.7H804.7V438.7H805.7V439.5H806.7V439.7H807.7V439.3H808.7V439.3H809.7V437.7H810.7V436.9H811.7V436.9H812.7V437.5H813.7V436.4H814.7V436.2H815.7V436.1H816.7V434.4H817.7V431.4H818.7V426.9H819.7V424.1H820.7V418.4H821.7V420.5H822.7V418.3H823.7V415.9H824.7V413.4H825.7V410.1H826.7V408.8H827.7V407.4H828.7V403.7H829.7V399.8H830.7V398.4H831.7V396.6H832.7V394.1H833.7V389.9H834.7V386.5H835.7V384.4H836.7V379.8H837.7V374.5H838.7V369.5H839.7V363H840.7V355.4H841.7V350.1H842.7V343.8H843.7V337.3H844.7V330.4H845.7V327.5H846.7V324.1H847.7V320.3H848.7V319.6H849.7V317.8H850.7V313.6H851.7V310.7H852.7V311.1H853.7V310.1H854.7V311H855.7V309.9H856.7V307.4H857.7V305.3H858.7V305.1H859.7V305.1H860.7V304.5H861.7V304.2H862.7V305.5H863.7V305.6H864.7V304.6H865.7V304.6H866.7V304.3H867.7V304.4H868.7V319.6H867.7V322.1H866.7V321.4H865.7V321.3H864.7V325.3H863.7V321.2H862.7V321.5H861.7V322.9H860.7V322.5H859.7V322.2H858.7V325.7H857.7V323.8H856.7V323H855.7V324.2H854.7V326.1H853.7V328H852.7V329.8H851.7V331.4H850.7V332.3H849.7V335.3H848.7V339.7H847.7V344H846.7V343.6H845.7V345.1H844.7V352H843.7V359.9H842.7V365.6H841.7V371.6H840.7V379H839.7V386H838.7V391.2H837.7V398.6H836.7V399.6H835.7V402.4H834.7V405H833.7V408.6H832.7V411.4H831.7V415.6H830.7V418.6H829.7V420.2H828.7V425.5H827.7V427.7H826.7V429.4H825.7V431.1H824.7V431.7H823.7V433.2H822.7V435.5H821.7V437.4H820.7V439.4H819.7V443.5H818.7V446.4H817.7V448.2H816.7V450.4H815.7V450.5H814.7V452.7H813.7V453.9H812.7V453.9H811.7V455.2H810.7V455.3H809.7V456H808.7V454.8H807.7V452.9H806.7V454.8H805.7V455.7H804.7V456.7H803.7V454.8H802.7V457.4H801.7V458H800.7V460.7H799.7V455.8H798.7V456.9H797.7V458.6H796.7V458.6H795.7V461.7H794.7V459.2H793.7V457.8H792.7V457.5H791.7V457.3H790.7V456.1H789.7V456.3H788.7V456.4H787.7V457.6H786.7V458.2H785.7V461.7H784.7V461H783.7V460.4H782.7V460H781.7V461.8H780.7V461.5H779.7V461.7H778.7V461.2H777.7V462.4H776.7V463.8H775.7V463.4H774.7V462.5H773.7V461.6H772.7V461.3H771.7V462.4H770.7V467.1H769.7V462.4H768.7V462.7H767.7V463.8H766.7V464.3H765.7V465.6H764.7V465.4H763.7V465.4H762.7V465.1H761.7V464.3H760.7V465.2H759.7V469.3H758.7V467.4H757.7V466.6H756.7V467.3H755.7V469.4H754.7V469.7H753.7V471.7H752.7V471.1H751.7V470H750.7V468.3H749.7V469.8H748.7V471.8H747.7V471.4H746.7V472.3H745.7V476.5H744.7V473.3H743.7V473H742.7V472.1H741.7V472H740.7V472.8H739.7V473.6H738.7V472.1H737.7V471.1H736.7V472.1H735.7V471.4H734.7V470.9H733.7V470.5H732.7V470.3H731.7V469.1H730.7V469.7H729.7V469.6H728.7V470.4H727.7V471.6H726.7V470.7H725.7V471H724.7V471.6H723.7V470.4H722.7V468.8H721.7V470.6H720.7V470.6H719.7V469.4H718.7V470H717.7V471.2H716.7V472H715.7V468.1H714.7V469.6H713.7V469H712.7V467.9H711.7V468.1H710.7V467.5H709.7V466.9H708.7V466.8H707.7V468.3H706.7V468.3H705.7V466.7H704.7V468.4H703.7V467.3H702.7V466.3H701.7V467.7H700.7V467H699.7V466.7H698.7V467.8H697.7V467.3H696.7V467.6H695.7V466.5H694.7V465.5H693.7V464.8H692.7V463.9H691.7V465.7H690.7V462.6H689.7V466.7H688.7V464.7H687.7V463.9H686.7V463.4H685.7V462.5H684.7V461.8H683.7V463.5H682.7V464.6H681.7V462.1H680.7V461.6H679.7V461.4H678.7V459.1H677.7V458H676.7V459.7H675.7V460.5H674.7V458.8H673.7V459.4H672.7V460.4H671.7V458.6H670.7V457.7H669.7V459.5H668.7V458.9H667.7V458.3H666.7V457.9H665.7V456.2H664.7V456.3H663.7V456.1H662.7V457.4H661.7V457.5H660.7V455H659.7V456H658.7V456.3H657.7V455.1H656.7V455.3H655.7V455.6H654.7V455.4H653.7V454.9H652.7V455.6H651.7V455.4H650.7V455.3H649.7V456.1H648.7V455H647.7V453.3H646.7V454H645.7V453.9H644.7V451.5H643.7V451.4H642.7V452.9H641.7V452.9H640.7V451.4H639.7V451.2H638.7V452H637.7V450.4H636.7V449.5H635.7V450.6H634.7V450.3H633.7V451H632.7V452.4H631.7V453H630.7V452.9H629.7V453.3H628.7V453.2H627.7V453.4H626.7V454.1H625.7V454.3H624.7V455.1H623.7V453.9H622.7V455.2H621.7V455.9H620.7V454.6H619.7V455.4H618.7V456.9H617.7V456.6H616.7V458.2H615.7V459.1H614.7V458.2H613.7V462.4H612.7V460.3H611.7V461.4H610.7V462.7H609.7V463.5H608.7V463.5H607.7V464.1H606.7V465.1H605.7V464.6H604.7V465.4H603.7V466.6H602.7V467.9H601.7V469.1H600.7V468.9H599.7V468.4H598.7V469.7H597.7V471.8H596.7V472.3H595.7V472.2H594.7V473H593.7V475.3H592.7V477.9H591.7V476.8H590.7V476.3H589.7V477.6H588.7V476.8H587.7V478.4H586.7V479.6H585.7V478.8H584.7V479.7H583.7V480.9H582.7V482H581.7V481.3H580.7V480.3H579.7V481.6H578.7V482.7H577.7V481.9H576.7V484.6H575.7V485.5H574.7V483.6H573.7V483.4H572.7V484.1H571.7V483.7H570.7V484.7H569.7V486.5H568.7V487.4H567.7V489.6H566.7V482.3H565.7V483.3H564.7V484.1H563.7V482.4H562.7V479.5H561.7V474.6H560.7V469.1H559.7V462.6H558.7V457.4H557.7V454.2H556.7V449.6H555.7V442.3H554.7V435.6H553.7V433H552.7V421.8H551.7V414.9H550.7V408.1H549.7V405.2H548.7V396.7H547.7V391.6H546.7V387.3H545.7V382.6H544.7V377.1H543.7V371.5H542.7V367.4H541.7V363.3H540.7V358.9H539.7V359H538.7V358.7H537.7V358H536.7V354.6H535.7V353.8H534.7V353.8H533.7V352.4H532.7V349.5H531.7V350.8H530.7V352H529.7V350H528.7V350.2H527.7V351H526.7V350.9H525.7V357.8H524.7V353.4H523.7V354.1H522.7V355.1H521.7V355H520.7V355.1H519.7V355.6H518.7V355.2H517.7V355.8H516.7V358.7H515.7V359.6H514.7V362.6H513.7V358.4H512.7V360.5H511.7V362.1H510.7V363.8H509.7V363.6H508.7V363.6H507.7V363.9H506.7V364.8H505.7V366.8H504.7V368H503.7V364.7H502.7V365.2H501.7V364.4H500.7V363H499.7V361.9H498.7V361.7H497.7V359.1H496.7V358.4H495.7V359.8H494.7V361.4H493.7V361.8H492.7V357.9H491.7V356.4H490.7V355.5H489.7V354.4H488.7V353.8H487.7V354.5H486.7V354.3H485.7V353.6H484.7V351.4H483.7V351.2H482.7V350H481.7V349H480.7V348.3H479.7V345.9H478.7V345.6H477.7V345.2H476.7V342.3H475.7V341H474.7V341.5H473.7V338.1H472.7V337.2H471.7V338.5H470.7V336.8H469.7V335H468.7V334.3H467.7V333.6H466.7V333.2H465.7V332.7H464.7V332H463.7V330.4H462.7V328.7H461.7V329.4H460.7V329H459.7V327.1H458.7V325.2H457.7V325.2H456.7V324H455.7V322.1H454.7V321.8H453.7V322.1H452.7V322.7H451.7V322.7H450.7V323.1H449.7V322.8H448.7V322.2H447.7V320.9H446.7V321.3H445.7V318.7H444.7V320.1H443.7V320.9H442.7V320.8H441.7V321.7H440.7V320.8H439.7V319.1H438.7V317.8H437.7V317.5H436.7V317.8H435.7V318.2H434.7V317.6H433.7V316.5H432.7V317.2H431.7V317.2H430.7V316.4H429.7V315.6H428.7V316.9H427.7V317.1H426.7V315.2H425.7V315.7H424.7V316.5H423.7V318.2H422.7V318.5H421.7V318H420.7V317H419.7V316.6H418.7V316.8H417.7V316H416.7V317.1H415.7V318.4H414.7V316.5H413.7V316.4H412.7V317.2H411.7V315.8H410.7V315.2H409.7V315.2H408.7V315.8H407.7V317.2H406.7V318.9H405.7V320.1H404.7V316H403.7V316.7H402.7V318.5H401.7V318.6H400.7V317.6H399.7V315.5H398.7V316H397.7V317.6H396.7V317.3H395.7V315.5H394.7V316.6H393.7V318.5H392.7V319H391.7V319H390.7V317.8H389.7V318.2H388.7V317.9H387.7V316.7H386.7V318H385.7V318.4H384.7V318.2H383.7V317.6H382.7V317.4H381.7V316.1H380.7V317.7H379.7V317.5H378.7V316.4H377.7V319.5H376.7V320.4H375.7V318H374.7V317.8H373.7V319.6H372.7V318.8H371.7V317.2H370.7V318.3H369.7V318.9H368.7V317.4H367.7V318.2H366.7V318.9H365.7V318H364.7V318.9H363.7V319.2H362.7V320.2H361.7V319H360.7V319.8H359.7V319.3H358.7V317.5H357.7V317.5H356.7V317.3H355.7V319.1H354.7V321.2H353.7V320.9H352.7V318.9H351.7V317.8H350.7V319.1H349.7V318.1H348.7V317.4H347.7V319H346.7V318.1H345.7V316.8H344.7V318.3H343.7V319.3H342.7V319.9H341.7V318.8H340.7V316.9H339.7V316.3H338.7V317.1H337.7V317.7H336.7V316.5H335.7V315.3H334.7V314.9H333.7V314.7H332.7V314.5H331.7V316H330.7V317.4H329.7V321.7H328.7V316.2H327.7V314.7H326.7V315.2H325.7V314.4H324.7V313.2H323.7V313H322.7V312.5H321.7V312.9H320.7V314.2H319.7V315.8H318.7V315.7H317.7V315.6H316.7V313.4H315.7V311.3H314.7V311.9H313.7V312.2H312.7V312.4H311.7V312.4H310.7V313.2H309.7V314.4H308.7V313.1H307.7V314.4H306.7V315.4H305.7V317.5H304.7V316H303.7V316.2H302.7V316.1H301.7V316.5H300.7V317.4H299.7V317.1H298.7V320.5H297.7V318.2H296.7V316.3H295.7V315.3H294.7V316.1H293.7V315.4H292.7V315.9H291.7V318.3H290.7V318.7H289.7V318.4H288.7V317.8H287.7V320.9H286.7V321.5H285.7V321H284.7V323H283.7V325.2H282.7V326.1H281.7V325H280.7V325.9H279.7V326.6H278.7V327.6H277.7V329.3H276.7V330.3H275.7V332.7H274.7V333.6H273.7V332.9H272.7V331.6H271.7V333.9H270.7V334.9H269.7V338.8H268.7V334.6H267.7V334.1H266.7V335.5H265.7V337.7H264.7V336H263.7V335.9H262.7V337.7H261.7V336.8H260.7V336.3H259.7V336.4H258.7V335.1H257.7V336.8H256.7V337.4H255.7V336.5H254.7V338.6H253.7V338.8H252.7V338H251.7V343H250.7V338H249.7V336.8H248.7V335.5H247.7V334.5H246.7V334.3H245.7V334.8H244.7V335.7H243.7V334.8H242.7V332.2H241.7V332H240.7V332.9H239.7V333.1H238.7V332.3H237.7V332.4H236.7V331.7H235.7V331.3H234.7V330.8H233.7V331.7H232.7V331.8H231.7V330.1H230.7V330H229.7V330.7H228.7V330H227.7V330.3H226.7V329.3H225.7V328.6H224.7V333H223.7V327.6H222.7V326.3H221.7V326.7H220.7V326.5H219.7V325.2H218.7V324.9H217.7V326.5H216.7V325H215.7V323.8H214.7V322.4H213.7V323.1H212.7V322.1H211.7V322H210.7V320.8H209.7V321.2H208.7V322.1H207.7V320.8H206.7V320.7H205.7V320.3H204.7V321.6H203.7V321.7H202.7V320.6H201.7V325.9H200.7V322.3H199.7V320.9H198.7V321.5H197.7V323.6H196.7V325.5H195.7V324H194.7V323.8H193.7V326.4H192.7V326.4H191.7V326.8H190.7V326.5H189.7V324.9H188.7V325.2H187.7V321.7H186.7V321.4H185.7V322.4H184.7V321.4H183.7V318.4H182.7V317.6H181.7V318H180.7V318.7H179.7V318.6H178.7V318.6H177.7V319.2H176.7V318.7H175.7V318.8H174.7V320.4H173.7V319.5H172.7V318.7H171.7V321.5H170.7V318.7H169.7V316.3H168.7V312.9H167.7V311.9H166.7V310.4H165.7V308.5H164.7V308.7H163.7V306.1H162.7V304.2H161.7V301.1H160.7V298.5H159.7V298H158.7V295.2H157.7V293.2H156.7V296.4H155.7V299.5H154.7V300.9H153.7V307.4H152.7V313.9H151.7V320.8H150.7V329.3H149.7V332.4H148.7V336.3H147.7V341H146.7V343.4H145.7V346.9H144.7V349.7H143.7V353.3H142.7V360.8H141.7V359.1H140.7V362.3H139.7V364H138.7V365.8H137.7V365.9H136.7V365.3H135.7V369H134.7V371H133.7V371.3H132.7V372.8H131.7V371.8H130.7V372.5H129.7V375.1H128.7V375.5H127.7V374.4H126.7V373.7H125.7V374.4H124.7V375.8H123.7V375.2H122.7V374.8H121.7V375.2H120.7V375H119.7V375.8H118.7V376.6H117.7V374.7H116.7V375.4H115.7V380.2H114.7V375.4H113.7V375.9H112.7V378.6H111.7V376.8H110.7Z" fill="#a83c78"/>
<polyline points="111.2,369.8 112.2,369.6 113.1,369.3 114.1,369.1 115.1,368.9 116.0,368.7 117.0,368.4 118.0,368.2 118.9,368.0 119.9,367.8 120.9,367.5 121.8,367.3 122.8,367.1 123.8,366.8 124.8,366.6 125.7,366.4 126.7,366.2 127.7,365.9 128.6,365.7 129.6,365.5 130.6,365.3 131.5,365.0 132.5,364.8 133.5,363.3 134.5,361.8 135.5,360.3 136.5,358.8 137.5,357.3 138.5,355.8 139.5,354.3 140.5,352.8 141.5,351.3 142.5,349.8 143.4,346.4 144.3,342.9 145.3,339.5 146.2,336.1 147.1,332.6 148.1,329.2 149.0,325.7 149.9,322.3 150.8,315.4 151.8,308.6 152.8,301.8 153.7,294.9 154.6,292.4 155.6,289.9 156.5,287.4 157.4,284.9 158.3,286.8 159.3,288.6 160.2,290.5 161.2,292.4 162.1,294.3 163.0,296.1 164.0,298.0 164.9,299.9 165.8,301.4 166.8,303.0 167.7,304.6 168.7,306.1 169.6,307.6 170.5,309.2 171.5,310.8 172.4,312.3 173.3,312.0 174.3,311.7 175.2,311.4 176.2,311.1 177.1,310.8 178.0,310.5 179.0,310.2 179.9,309.9 180.9,310.6 181.9,311.4 182.9,312.1 183.9,312.9 184.9,313.6 185.9,314.3 186.9,315.1 187.9,315.8 188.9,316.6 189.9,317.3 190.9,317.0 191.8,316.7 192.8,316.5 193.8,316.2 194.8,315.9 195.7,315.6 196.7,315.4 197.7,315.1 198.7,314.8 199.6,314.5 200.6,314.2 201.6,314.0 202.5,313.7 203.5,313.4 204.5,313.1 205.5,312.9 206.4,312.6 207.4,312.3 208.4,312.7 209.4,313.2 210.3,313.6 211.3,314.0 212.3,314.5 213.3,314.9 214.2,315.3 215.2,315.8 216.2,316.2 217.2,316.6 218.2,317.1 219.1,317.5 220.1,318.0 221.1,318.4 222.1,318.8 223.1,319.3 224.0,319.7 225.0,320.1 226.0,320.6 227.0,321.0 227.9,321.4 228.9,321.9 229.9,322.3 230.9,322.6 231.8,323.0 232.8,323.3 233.8,323.6 234.8,323.9 235.7,324.3 236.7,324.6 237.7,324.9 238.7,325.2 239.6,325.6 240.6,325.9 241.6,326.2 242.6,326.5 243.5,326.9 244.5,327.2 245.5,327.5 246.5,327.8 247.4,328.2 248.4,328.5 249.4,328.8 250.4,329.1 251.3,329.5 252.3,329.8 253.3,329.6 254.3,329.4 255.2,329.1 256.2,328.9 257.2,328.7 258.2,328.5 259.1,328.3 260.1,328.1 261.1,327.8 262.1,327.6 263.1,327.4 264.0,327.2 265.0,327.0 266.0,326.8 267.0,326.5 268.0,326.3 268.9,326.1 269.9,325.9 270.9,325.7 271.9,325.5 272.8,325.2 273.8,325.0 274.8,324.8 275.8,323.8 276.8,322.8 277.8,321.8 278.8,320.8 279.8,319.8 280.8,318.8 281.8,317.8 282.8,316.9 283.8,315.9 284.8,314.9 285.8,313.9 286.8,312.9 287.8,311.9 288.8,310.9 289.8,309.9 290.8,309.7 291.8,309.5 292.8,309.3 293.8,309.1 294.8,308.9 295.8,308.7 296.8,308.5 297.8,308.3 298.8,308.1 299.8,307.9 300.8,307.7 301.8,307.5 302.8,307.3 303.8,307.1 304.8,306.9 305.8,306.7 306.8,306.5 307.8,306.3 308.8,306.1 309.8,305.9 310.8,305.7 311.8,305.5 312.8,305.3 313.8,305.1 314.8,304.9 315.8,305.1 316.8,305.3 317.8,305.5 318.8,305.7 319.8,305.9 320.8,306.1 321.8,306.3 322.8,306.5 323.8,306.7 324.8,306.9 325.8,307.1 326.8,307.3 327.8,307.5 328.8,307.7 329.8,307.9 330.8,308.1 331.8,308.3 332.8,308.5 333.8,308.7 334.8,308.9 335.8,309.1 336.8,309.3 337.8,309.5 338.8,309.7 339.8,309.9 340.8,310.0 341.7,310.0 342.7,310.1 343.6,310.2 344.6,310.3 345.5,310.4 346.4,310.4 347.4,310.5 348.4,310.6 349.3,310.6 350.2,310.7 351.2,310.8 352.1,310.9 353.1,311.0 354.1,311.0 355.0,311.1 356.0,311.1 357.0,311.0 358.0,311.0 359.0,310.9 360.0,310.9 361.0,310.8 362.0,310.8 363.0,310.7 364.0,310.7 365.0,310.6 366.0,310.6 367.0,310.5 368.0,310.5 369.0,310.4 370.0,310.4 371.0,310.3 372.0,310.3 373.0,310.2 374.0,310.2 375.0,310.1 376.0,310.1 377.0,310.0 378.0,310.0 379.0,309.9 380.0,309.9 381.0,309.9 382.0,309.9 383.0,309.8 384.0,309.8 385.0,309.8 386.0,309.8 387.0,309.8 388.0,309.7 389.0,309.7 390.0,309.7 391.0,309.7 392.0,309.7 392.9,309.6 393.9,309.6 394.9,309.6 395.9,309.6 396.9,309.6 397.9,309.5 398.9,309.5 399.9,309.5 400.9,309.5 401.9,309.5 402.9,309.4 403.9,309.4 404.9,309.4 405.9,309.4 406.9,309.3 407.9,309.3 408.9,309.3 409.9,309.2 410.9,309.2 411.9,309.2 412.9,309.1 413.9,309.1 414.9,309.1 415.9,309.0 416.9,309.0 417.9,309.0 418.9,309.0 419.9,308.9 420.9,308.9 421.9,308.9 422.9,308.8 423.9,308.8 424.9,308.8 425.9,308.7 426.9,308.7 427.9,308.7 428.9,308.6 429.9,308.6 430.9,308.8 431.9,309.1 432.9,309.3 433.9,309.6 434.9,309.8 435.9,310.1 436.9,310.3 437.9,310.6 438.9,310.8 439.9,311.1 440.9,311.3 441.9,311.6 442.9,311.8 443.9,312.1 444.9,312.3 445.9,312.6 446.9,312.8 447.9,313.1 448.9,313.3 449.9,313.6 450.9,313.8 451.9,314.1 452.9,314.3 453.9,314.6 454.9,314.8 455.9,315.6 456.8,316.5 457.8,317.3 458.8,318.1 459.8,319.0 460.7,319.8 461.7,320.6 462.7,321.5 463.6,322.3 464.6,323.1 465.6,324.0 466.6,324.8 467.5,325.6 468.5,326.5 469.5,327.3 470.5,328.1 471.4,329.0 472.4,329.8 473.4,331.0 474.3,332.1 475.3,333.3 476.2,334.4 477.2,335.6 478.1,336.7 479.1,337.9 480.0,339.0 481.0,340.2 481.9,341.3 482.9,342.5 483.8,343.6 484.8,344.8 485.8,345.5 486.8,346.2 487.8,346.9 488.8,347.5 489.8,348.2 490.8,348.9 491.8,349.6 492.8,350.3 493.8,351.0 494.8,351.6 495.8,352.3 496.8,353.0 497.8,353.7 498.8,354.4 499.8,355.1 500.8,355.8 501.8,356.4 502.8,357.1 503.8,357.8 504.8,358.5 505.8,357.7 506.8,356.8 507.8,356.0 508.8,355.2 509.8,354.4 510.8,353.5 511.8,352.7 512.8,351.9 513.8,351.1 514.8,350.2 515.8,349.4 516.8,348.6 517.8,347.8 518.8,346.9 519.8,346.1 520.7,345.8 521.7,345.5 522.6,345.2 523.5,344.8 524.5,344.5 525.4,344.2 526.3,343.9 527.3,343.6 528.2,343.2 529.1,342.9 530.1,342.6 531.0,342.3 532.0,343.1 533.0,344.0 533.9,344.8 534.9,345.6 535.9,346.5 536.9,347.3 537.8,348.1 538.8,349.0 539.8,349.8 540.7,353.8 541.7,357.9 542.6,361.9 543.5,365.9 544.5,369.9 545.4,373.9 546.4,378.0 547.3,382.0 548.3,388.6 549.2,395.2 550.2,401.8 551.1,408.4 552.1,414.9 553.1,421.5 554.0,428.1 555.0,434.7 555.9,439.7 556.9,444.7 557.8,449.7 558.8,454.7 559.7,459.7 560.6,464.7 561.6,469.7 562.5,474.7 563.4,475.2 564.4,475.6 565.3,476.1 566.2,476.5 567.2,477.0 568.1,477.5 569.1,477.9 570.0,478.4 571.0,478.0 572.0,477.5 573.0,477.1 574.0,476.7 575.0,476.2 576.0,475.8 577.0,475.4 578.0,474.9 579.0,474.5 580.0,474.0 581.0,473.6 582.0,473.2 583.0,472.7 584.0,472.3 585.0,471.9 586.0,471.4 587.0,471.0 588.0,470.6 589.0,470.1 590.0,469.7 591.0,468.9 592.0,468.0 593.0,467.2 594.0,466.4 595.0,465.5 596.0,464.7 597.0,463.9 597.9,463.0 598.9,462.2 599.9,461.4 600.9,460.5 601.9,459.7 602.9,458.9 603.9,458.0 604.9,457.2 605.9,456.5 606.9,455.9 607.9,455.2 608.9,454.5 609.9,453.9 610.9,453.2 611.9,452.5 612.9,451.9 613.9,451.2 614.9,450.5 615.9,449.9 616.9,449.2 617.9,448.5 618.9,447.9 619.9,447.2 620.9,446.9 621.9,446.5 622.9,446.2 623.9,445.9 624.9,445.5 625.9,445.2 626.9,444.9 627.9,444.5 628.9,444.2 629.9,443.9 630.9,443.5 631.9,443.2 632.9,442.9 633.9,442.5 634.9,442.2 635.9,442.5 636.8,442.8 637.8,443.0 638.8,443.3 639.8,443.6 640.7,443.9 641.7,444.1 642.7,444.4 643.6,444.7 644.6,445.0 645.6,445.3 646.6,445.5 647.5,445.8 648.5,446.1 649.5,446.4 650.5,446.6 651.4,446.9 652.4,447.2 653.4,447.4 654.4,447.6 655.4,447.8 656.4,448.0 657.4,448.2 658.4,448.4 659.4,448.6 660.4,448.8 661.4,449.0 662.4,449.2 663.4,449.4 664.4,449.6 665.4,449.8 666.4,450.0 667.4,450.2 668.4,450.4 669.4,450.6 670.4,450.8 671.4,451.0 672.4,451.2 673.4,451.4 674.4,451.6 675.4,451.8 676.4,452.0 677.4,452.2 678.4,452.5 679.4,452.8 680.4,453.1 681.4,453.4 682.4,453.7 683.4,454.0 684.4,454.3 685.4,454.6 686.4,454.9 687.4,455.2 688.4,455.5 689.4,455.8 690.3,456.1 691.3,456.4 692.3,456.7 693.3,457.0 694.3,457.3 695.3,457.6 696.3,457.9 697.3,458.2 698.3,458.5 699.3,458.8 700.3,459.1 701.3,459.4 702.3,459.7 703.3,459.8 704.3,459.9 705.2,460.1 706.2,460.2 707.2,460.3 708.2,460.4 709.2,460.6 710.2,460.7 711.1,460.8 712.1,460.9 713.1,461.0 714.1,461.2 715.1,461.3 716.1,461.4 717.0,461.5 718.0,461.7 719.0,461.8 720.0,461.9 721.0,462.0 721.9,462.1 722.9,462.2 723.9,462.3 724.8,462.4 725.8,462.5 726.8,462.6 727.7,462.7 728.7,462.8 729.7,462.9 730.6,463.0 731.6,463.0 732.6,463.1 733.5,463.2 734.5,463.3 735.5,463.4 736.4,463.5 737.4,463.6 738.4,463.7 739.3,463.8 740.3,463.9 741.3,464.0 742.2,464.1 743.2,464.2 744.2,463.9 745.1,463.5 746.1,463.2 747.1,462.9 748.0,462.5 749.0,462.2 750.0,461.8 750.9,461.5 751.9,461.2 752.9,460.8 753.8,460.5 754.8,460.1 755.8,459.8 756.7,459.5 757.7,459.1 758.7,458.8 759.6,458.5 760.6,458.1 761.6,457.8 762.5,457.5 763.5,457.1 764.5,456.8 765.4,456.4 766.4,456.1 767.4,455.9 768.3,455.6 769.3,455.4 770.3,455.1 771.3,454.9 772.2,454.7 773.2,454.4 774.2,454.2 775.1,453.9 776.1,453.7 777.1,453.4 778.0,453.2 779.0,453.0 780.0,452.7 781.0,452.5 781.9,452.2 782.9,452.0 783.9,451.8 784.8,451.5 785.8,451.3 786.8,451.0 787.8,450.8 788.7,450.5 789.7,450.3 790.7,450.1 791.7,449.9 792.6,449.6 793.6,449.4 794.6,449.2 795.6,449.0 796.6,448.7 797.5,448.5 798.5,448.3 799.5,448.1 800.5,447.8 801.5,447.6 802.5,447.4 803.4,447.2 804.4,447.0 805.4,446.7 806.4,446.5 807.4,446.3 808.3,446.1 809.3,445.8 810.3,445.6 811.3,445.4 812.3,445.2 813.2,444.9 814.2,444.7 815.2,444.5 816.2,442.3 817.2,440.2 818.2,438.0 819.2,435.9 820.2,433.7 821.2,431.6 822.2,429.4 823.1,427.1 824.1,424.8 825.0,422.4 825.9,420.1 826.9,417.8 827.8,415.5 828.7,413.2 829.6,410.8 830.6,408.5 831.5,406.2 832.5,402.9 833.5,399.5 834.5,396.2 835.4,392.9 836.4,389.6 837.4,386.2 838.4,382.9 839.4,376.3 840.4,369.6 841.4,363.0 842.4,356.4 843.4,349.8 844.4,343.1 845.4,336.5 846.4,334.2 847.4,331.8 848.4,329.5 849.4,327.2 850.4,324.9 851.4,322.5 852.4,320.2 853.4,319.2 854.4,318.2 855.4,317.2 856.3,316.3 857.3,315.3 858.3,314.3 859.3,313.3 860.2,313.2 861.2,313.1 862.1,312.9 863.0,312.8 864.0,312.7 864.9,312.6 865.8,312.5 866.7,312.3 867.7,312.2 868.6,312.1" fill="none" stroke="#a83c78" stroke-width="5.6" stroke-linejoin="round" />
<path d="M110.4,938.1H111.4V938H112.4V937.6H113.4V938.3H114.4V937.5H115.4V937.2H116.4V939H117.4V938H118.4V937.4H119.4V936.8H120.4V937.1H121.4V936.8H122.4V937.4H123.4V936.9H124.4V935.8H125.4V935.7H126.4V936.8H127.4V936.5H128.4V935.6H129.4V935.1H130.4V933.5H131.4V931H132.4V930H133.4V932.8H134.4V937.3H135.4V940.8H136.4V945.6H137.4V951.1H138.4V949H139.4V941H140.4V938.3H141.4V937.4H142.4V937.3H143.4V936.6H144.4V937H145.4V938.2H146.4V939H147.4V938.7H148.4V940.9H149.4V939.6H150.4V939.7H151.4V939.1H152.4V938.4H153.4V937.7H154.4V937.7H155.4V937.5H156.4V937.3H157.4V936.6H158.4V936.3H159.4V936.3H160.4V935.7H161.4V935.3H162.4V935H163.4V934.3H164.4V934.7H165.4V934.3H166.4V934.4H167.4V934.6H168.4V933H169.4V931H170.4V932.6H171.4V932.4H172.4V932.1H173.4V930.4H174.4V929.6H175.4V928.7H176.4V927.3H177.4V927.2H178.4V926H179.4V925.1H180.4V924.4H181.4V923.7H182.4V923.7H183.4V922.9H184.4V923.3H185.4V924.3H186.4V923.7H187.4V922.4H188.4V922.8H189.4V922.3H190.4V920.9H191.4V921.6H192.4V921.3H193.4V921H194.4V921.2H195.4V922.2H196.4V923.2H197.4V923.7H198.4V924.3H199.4V924.7H200.4V924.3H201.4V924.7H202.4V926.4H203.4V927.2H204.4V926.5H205.4V927.3H206.4V928H207.4V927.8H208.4V928H209.4V928.1H210.4V928H211.4V929.6H212.4V931.1H213.4V931.5H214.4V930.9H215.4V930.8H216.4V932H217.4V932.3H218.4V932.8H219.4V933.7H220.4V933.2H221.4V931.1H222.4V934.5H223.4V935.1H224.4V934.4H225.4V934.6H226.4V934.8H227.4V934.6H228.4V934.8H229.4V935.7H230.4V936.6H231.4V936.6H232.4V937.1H233.4V937.8H234.4V935.5H235.4V937.4H236.4V939.3H237.4V939.1H238.4V938.7H239.4V938.6H240.4V939.3H241.4V940.6H242.4V940.6H243.4V940.3H244.4V941H245.4V941.2H246.4V939.5H247.4V939.1H248.4V938.6H249.4V937.8H250.4V936.7H251.4V938.4H252.4V937.8H253.4V936.6H254.4V937.1H255.4V937.5H256.4V936.5H257.4V936.4H258.4V936.8H259.4V935.8H260.4V935.5H261.4V935.4H262.4V934H263.4V933.1H264.4V933.3H265.4V933.2H266.4V932.4H267.4V933H268.4V932.8H269.4V931.6H270.4V932.1H271.4V932.4H272.4V931.7H273.4V930.4H274.4V929.5H275.4V929.2H276.4V929.6H277.4V930.5H278.4V929.8H279.4V927.4H280.4V929.5H281.4V930.9H282.4V931.7H283.4V930.9H284.4V930.9H285.4V930.6H286.4V930.2H287.4V930.4H288.4V930.5H289.4V930.3H290.4V930.8H291.4V932.4H292.4V933.7H293.4V932.8H294.4V932.8H295.4V934H296.4V935.2H297.4V935.4H298.4V936H299.4V936H300.4V935.5H301.4V933.7H302.4V937.8H303.4V937.5H304.4V938.5H305.4V940.5H306.4V940.4H307.4V941.3H308.4V943.3H309.4V944.4H310.4V944.4H311.4V944.1H312.4V944.3H313.4V945.6H314.4V947.3H315.4V948.2H316.4V949.4H317.4V948.1H318.4V949.6H319.4V949.8H320.4V950.1H321.4V951.1H322.4V950.9H323.4V950.8H324.4V952.1H325.4V953.2H326.4V953.7H327.4V953.7H328.4V953H329.4V952.8H330.4V952.1H331.4V951.6H332.4V951.3H333.4V950.7H334.4V950.3H335.4V950.4H336.4V950.5H337.4V949.5H338.4V949.7H339.4V949.2H340.4V947.9H341.4V948.3H342.4V948.6H343.4V948.8H344.4V949.9H345.4V951.6H346.4V951.3H347.4V951H348.4V953H349.4V953.8H350.4V954H351.4V955H352.4V954.9H353.4V954.5H354.4V954.4H355.4V955.2H356.4V955.7H357.4V956.3H358.4V955.9H359.4V956H360.4V956H361.4V955.8H362.4V956.2H363.4V955H364.4V954H365.4V954H366.4V955.2H367.4V956H368.4V955.3H369.4V955.4H370.4V955.8H371.4V955.4H372.4V956.2H373.4V957.8H374.4V959H375.4V958.4H376.4V958.2H377.4V959.8H378.4V961.1H379.4V961.5H380.4V962H381.4V962.7H382.4V963H383.4V964.5H384.4V966.2H385.4V967.3H386.4V969.3H387.4V970H388.4V971.2H389.4V974.3H390.4V977H391.4V980H392.4V982H393.4V984.1H394.4V985.5H395.4V984.9H396.4V984.6H397.4V986H398.4V985.5H399.4V985.9H400.4V986.7H401.4V986.7H402.4V985.2H403.4V984.5H404.4V983.8H405.4V982.7H406.4V983.1H407.4V983.4H408.4V981.8H409.4V981.1H410.4V980.9H411.4V979.7H412.4V978.3H413.4V978.5H414.4V979.3H415.4V979.5H416.4V979.2H417.4V977.9H418.4V977.3H419.4V978.1H420.4V978.5H421.4V978.2H422.4V978.5H423.4V977.4H424.4V977.4H425.4V977.5H426.4V976.7H427.4V976.3H428.4V976.7H429.4V976.2H430.4V974.4H431.4V976H432.4V974.9H433.4V974.5H434.4V975.8H435.4V976.3H436.4V976.1H437.4V975.4H438.4V975H439.4V973.8H440.4V973.9H441.4V975.1H442.4V973.6H443.4V974H444.4V974.4H445.4V973.5H446.4V973.5H447.4V972.6H448.4V972.5H449.4V973.3H450.4V973.5H451.4V972.7H452.4V971.7H453.4V971.7H454.4V971.1H455.4V971.3H456.4V971.4H457.4V971.1H458.4V970.6H459.4V970.7H460.4V969.9H461.4V968.5H462.4V968.3H463.4V968.3H464.4V967.9H465.4V967.7H466.4V968.6H467.4V969.1H468.4V967.4H469.4V966.7H470.4V967.8H471.4V967.3H472.4V967.3H473.4V967.5H474.4V966.7H475.4V966.4H476.4V966.5H477.4V966.4H478.4V966.4H479.4V966.1H480.4V965.5H481.4V965.2H482.4V963.7H483.4V963.5H484.4V963.7H485.4V962.7H486.4V961.9H487.4V963.5H488.4V963.4H489.4V963.4H490.4V962.6H491.4V961.3H492.4V961.6H493.4V962.5H494.4V962.2H495.4V954.9H496.4V948.1H497.4V941.7H498.4V934.9H499.4V943.5H500.4V956.3H501.4V953.9H502.4V949.7H503.4V947.2H504.4V944.3H505.4V941.2H506.4V938.3H507.4V937.2H508.4V937.2H509.4V938H510.4V938.7H511.4V939.4H512.4V938.9H513.4V937.6H514.4V937.2H515.4V937.4H516.4V938.1H517.4V938.9H518.4V938.9H519.4V939H520.4V939.2H521.4V939.5H522.4V939.4H523.4V940.2H524.4V940H525.4V939.5H526.4V940.4H527.4V939.3H528.4V938.6H529.4V938.6H530.4V938.8H531.4V939.3H532.4V938.7H533.4V937.5H534.4V937.7H535.4V937.8H536.4V937.2H537.4V937.2H538.4V936.3H539.4V935.4H540.4V935.8H541.4V936.4H542.4V936.3H543.4V936H544.4V935.7H545.4V936.2H546.4V935.9H547.4V936.1H548.4V936.2H549.4V934.7H550.4V934.2H551.4V935.6H552.4V936.3H553.4V936.2H554.4V936.2H555.4V936H556.4V933.4H557.4V934.9H558.4V934.6H559.4V935.4H560.4V936.4H561.4V936.3H562.4V936.4H563.4V935.8H564.4V936.4H565.4V937.2H566.4V936.9H567.4V937.9H568.4V936.8H569.4V938.1H570.4V938.5H571.4V938.2H572.4V938.8H573.4V939.1H574.4V939.1H575.4V939.2H576.4V940H577.4V940.5H578.4V939.3H579.4V939.5H580.4V940.1H581.4V939.9H582.4V940.9H583.4V941.2H584.4V940.3H585.4V940H586.4V941.7H587.4V941.9H588.4V941.4H589.4V941.5H590.4V941.4H591.4V942H592.4V942.2H593.4V942.1H594.4V943H595.4V943.9H596.4V944.4H597.4V944.3H598.4V943.6H599.4V943.3H600.4V944H601.4V944.3H602.4V944.4H603.4V944.7H604.4V944.1H605.4V943.5H606.4V943.7H607.4V944.3H608.4V945.2H609.4V944.9H610.4V943.7H611.4V943.5H612.4V944.1H613.4V943.9H614.4V943.5H615.4V943.9H616.4V945H617.4V945.3H618.4V945H619.4V944.4H620.4V944.6H621.4V945.5H622.4V945.1H623.4V944.5H624.4V945.3H625.4V944.8H626.4V945.5H627.4V946.3H628.4V946.5H629.4V945.9H630.4V946.2H631.4V946.7H632.4V946.4H633.4V946.3H634.4V946.7H635.4V946.1H636.4V945.4H637.4V946.1H638.4V947.6H639.4V947.2H640.4V946.7H641.4V946.9H642.4V946.7H643.4V947.7H644.4V948.3H645.4V948.2H646.4V948.8H647.4V948.8H648.4V948.2H649.4V948.3H650.4V947.9H651.4V947H652.4V946.5H653.4V946.1H654.4V946.3H655.4V947.3H656.4V947H657.4V947.5H658.4V947H659.4V945.8H660.4V946.8H661.4V946.9H662.4V947H663.4V946.7H664.4V947.6H665.4V946.5H666.4V946.5H667.4V945.9H668.4V945.5H669.4V946.1H670.4V946.6H671.4V946.5H672.4V944.9H673.4V945.4H674.4V945.7H675.4V946.5H676.4V946.1H677.4V945.9H678.4V946.2H679.4V946.7H680.4V946.9H681.4V946.9H682.4V946.1H683.4V945.1H684.4V945.9H685.4V947.1H686.4V946H687.4V945.1H688.4V946.3H689.4V946.6H690.4V946.6H691.4V947.2H692.4V946.1H693.4V945.5H694.4V945.8H695.4V947H696.4V947.1H697.4V947.3H698.4V946.8H699.4V945.9H700.4V946.1H701.4V946H702.4V946.2H703.4V947.4H704.4V947.2H705.4V946.9H706.4V946.7H707.4V945.9H708.4V945.5H709.4V943.6H710.4V946.8H711.4V946.7H712.4V947.4H713.4V947.2H714.4V946.7H715.4V946.5H716.4V945.8H717.4V945.4H718.4V946.9H719.4V947.1H720.4V946.4H721.4V947.5H722.4V948.3H723.4V947.8H724.4V946.9H725.4V946.7H726.4V947.7H727.4V948H728.4V947.5H729.4V948.2H730.4V948.1H731.4V948H732.4V948.3H733.4V947.7H734.4V947.7H735.4V948.2H736.4V948.3H737.4V947.8H738.4V947.9H739.4V948.2H740.4V949H741.4V948.7H742.4V946.9H743.4V948.3H744.4V947.6H745.4V947.8H746.4V948.9H747.4V948.4H748.4V948.1H749.4V948.5H750.4V949.2H751.4V948.6H752.4V947.9H753.4V948.6H754.4V948.4H755.4V950.6H756.4V951.1H757.4V950.3H758.4V950.1H759.4V951.3H760.4V951.2H761.4V951.3H762.4V951.3H763.4V952.3H764.4V953.2H765.4V953.6H766.4V953.1H767.4V951.4H768.4V953.7H769.4V954.5H770.4V954.5H771.4V954.8H772.4V955.8H773.4V955.4H774.4V955.1H775.4V954.8H776.4V954H777.4V953H778.4V952.8H779.4V952.5H780.4V952.4H781.4V951.8H782.4V950.4H783.4V950.4H784.4V949.6H785.4V949.7H786.4V950.2H787.4V949.6H788.4V949H789.4V948.2H790.4V948.5H791.4V948.5H792.4V946.9H793.4V947.3H794.4V946.3H795.4V946.2H796.4V947.1H797.4V946.9H798.4V945.1H799.4V945.1H800.4V946.1H801.4V945.6H802.4V943.8H803.4V943.1H804.4V943.8H805.4V943.4H806.4V942.9H807.4V939.8H808.4V942.7H809.4V942.9H810.4V942.2H811.4V941.6H812.4V941.3H813.4V940.2H814.4V938.3H815.4V941.5H816.4V940H817.4V939.7H818.4V940.5H819.4V940.3H820.4V939.6H821.4V939.2H822.4V939.1H823.4V938.8H824.4V937.8H825.4V937.1H826.4V938.1H827.4V938.7H828.4V938.2H829.4V937.3H830.4V936.7H831.4V936.6H832.4V936.4H833.4V936.8H834.4V937.1H835.4V935.8H836.4V935.3H837.4V935.5H838.4V935.3H839.4V934.9H840.4V934.8H841.4V935.7H842.4V933.7H843.4V934H844.4V933.3H845.4V934.4H846.4V933.6H847.4V934.9H848.4V933.6H849.4V932.6H850.4V932.3H851.4V932.1H852.4V932.9H853.4V933.8H854.4V932.4H855.4V931.7H856.4V932.3H857.4V931.3H858.4V931H859.4V931.4H860.4V931.7H861.4V931.7H862.4V930.9H863.4V928.1H864.4V931.6H865.4V931.3H866.4V939.9H865.4V941.5H864.4V938.7H863.4V938.1H862.4V939.4H861.4V943.3H860.4V939.7H859.4V938.7H858.4V939.2H857.4V940.5H856.4V941.3H855.4V940.6H854.4V940.3H853.4V941.2H852.4V942.9H851.4V942H850.4V941.8H849.4V941.3H848.4V941.9H847.4V942.7H846.4V941.6H845.4V941.7H844.4V942.2H843.4V942.5H842.4V943.7H841.4V943.4H840.4V943.1H839.4V943.6H838.4V943.2H837.4V942.7H836.4V943.4H835.4V944H834.4V944.1H833.4V943.8H832.4V944.9H831.4V946.4H830.4V946.1H829.4V946.3H828.4V946.3H827.4V946.1H826.4V945.9H825.4V945.8H824.4V946.9H823.4V946.1H822.4V945.4H821.4V946.4H820.4V946.9H819.4V946.4H818.4V946.5H817.4V946.7H816.4V947H815.4V947.3H814.4V948.4H813.4V950H812.4V949.8H811.4V949.5H810.4V949.7H809.4V949.3H808.4V949.4H807.4V950.5H806.4V952.1H805.4V951.7H804.4V950.9H803.4V952.1H802.4V953H801.4V953.2H800.4V953.2H799.4V952.6H798.4V952.4H797.4V953.7H796.4V955H795.4V954.2H794.4V954.5H793.4V955.4H792.4V955.4H791.4V956.2H790.4V956.2H789.4V956.7H788.4V958.4H787.4V958.7H786.4V959.3H785.4V958.9H784.4V958.8H783.4V959.2H782.4V958.6H781.4V961.6H780.4V960.3H779.4V960.9H778.4V961.3H777.4V960.8H776.4V960.8H775.4V961.5H774.4V962.6H773.4V962.7H772.4V961.8H771.4V963.7H770.4V962H769.4V962.2H768.4V962.4H767.4V961.7H766.4V961.2H765.4V961.8H764.4V960.7H763.4V960H762.4V959.8H761.4V959.2H760.4V958.8H759.4V958.3H758.4V958.4H757.4V957.4H756.4V957.6H755.4V958.1H754.4V957.2H753.4V956.4H752.4V957.2H751.4V956.7H750.4V956H749.4V955.9H748.4V956.7H747.4V957.1H746.4V957H745.4V956.7H744.4V956.8H743.4V956.7H742.4V955.7H741.4V956.7H740.4V957.2H739.4V957H738.4V957H737.4V956.8H736.4V956.5H735.4V955.7H734.4V955.5H733.4V956H732.4V956H731.4V955.2H730.4V955.3H729.4V955.1H728.4V954.7H727.4V954.7H726.4V954.4H725.4V954.5H724.4V953.9H723.4V954.3H722.4V955.2H721.4V955.6H720.4V954.8H719.4V954.3H718.4V955.4H717.4V955.8H716.4V955.9H715.4V955.4H714.4V954.5H713.4V954.2H712.4V954.7H711.4V955.2H710.4V955.2H709.4V955H708.4V955.1H707.4V955.2H706.4V954.8H705.4V954.8H704.4V954.2H703.4V955.3H702.4V954.8H701.4V954.7H700.4V955.3H699.4V954.7H698.4V955.6H697.4V955.4H696.4V954.4H695.4V954.7H694.4V955.6H693.4V954.8H692.4V954.4H691.4V955.5H690.4V955.6H689.4V954.6H688.4V953.5H687.4V953.8H686.4V954.2H685.4V954.2H684.4V955.3H683.4V954.3H682.4V955H681.4V954.3H680.4V954.4H679.4V954.4H678.4V954.2H677.4V954.3H676.4V953.3H675.4V953.5H674.4V953.6H673.4V952.7H672.4V953.8H671.4V957.2H670.4V954H669.4V953.8H668.4V953.7H667.4V953.7H666.4V954.5H665.4V954.4H664.4V954.1H663.4V955H662.4V955.1H661.4V953.8H660.4V955H659.4V956.4H658.4V955.2H657.4V954.6H656.4V955.3H655.4V955H654.4V955.2H653.4V955.1H652.4V955.7H651.4V956H650.4V955.2H649.4V955.2H648.4V955.3H647.4V955.4H646.4V955.8H645.4V955.6H644.4V955.7H643.4V955.7H642.4V954.9H641.4V956.2H640.4V956.1H639.4V955.7H638.4V954.5H637.4V954.6H636.4V955.1H635.4V954.8H634.4V955H633.4V954H632.4V953.9H631.4V954.2H630.4V953.5H629.4V953.3H628.4V954.2H627.4V953.7H626.4V953.3H625.4V953.5H624.4V953.6H623.4V952.2H622.4V952.6H621.4V953.5H620.4V953.7H619.4V953.3H618.4V952.3H617.4V952.2H616.4V954.4H615.4V953.7H614.4V952.9H613.4V951.7H612.4V952.5H611.4V953.1H610.4V952.3H609.4V954.2H608.4V952.5H607.4V952.3H606.4V952.2H605.4V952.6H604.4V952.6H603.4V952.1H602.4V951.5H601.4V951H600.4V951.2H599.4V951.8H598.4V952.3H597.4V953.1H596.4V951.6H595.4V951.8H594.4V950.2H593.4V949.7H592.4V950.2H591.4V950.7H590.4V950.1H589.4V948.3H588.4V948.9H587.4V949.9H586.4V952.4H585.4V949.2H584.4V948.8H583.4V949.4H582.4V948.9H581.4V948.4H580.4V947.4H579.4V947.3H578.4V949H577.4V947.2H576.4V946.6H575.4V946.2H574.4V947H573.4V946.9H572.4V946.5H571.4V945.9H570.4V945.8H569.4V945.7H568.4V945.1H567.4V944.9H566.4V944.3H565.4V944.4H564.4V943.8H563.4V944H562.4V943.8H561.4V943.2H560.4V942.3H559.4V941.9H558.4V942.2H557.4V943.4H556.4V943.8H555.4V943.3H554.4V943.7H553.4V944H552.4V943.5H551.4V944.3H550.4V944H549.4V943.4H548.4V943.6H547.4V943.2H546.4V943.5H545.4V943.6H544.4V943H543.4V943.5H542.4V943.9H541.4V943.7H540.4V944.2H539.4V944.8H538.4V945.5H537.4V945.1H536.4V945.2H535.4V945.4H534.4V945H533.4V944.9H532.4V945.1H531.4V945.6H530.4V945.7H529.4V946.5H528.4V948.3H527.4V948.9H526.4V948.9H525.4V948.5H524.4V948.8H523.4V947.5H522.4V946.7H521.4V947.3H520.4V947.7H519.4V947.5H518.4V948.5H517.4V947.7H516.4V946.7H515.4V946.9H514.4V947.5H513.4V947.3H512.4V946.6H511.4V946.5H510.4V945.8H509.4V945.7H508.4V946.5H507.4V946.8H506.4V950.6H505.4V953.5H504.4V956H503.4V958.6H502.4V962H501.4V963.3H500.4V949.6H499.4V941.7H498.4V948.9H497.4V955.1H496.4V963H495.4V969.7H494.4V970H493.4V970.8H492.4V970.7H491.4V970.2H490.4V969.9H489.4V969.8H488.4V970.4H487.4V971.4H486.4V972.5H485.4V972.4H484.4V973.8H483.4V971.2H482.4V971.2H481.4V971.7H480.4V972.7H479.4V973.4H478.4V973.1H477.4V973.5H476.4V974.5H475.4V974.9H474.4V975.1H473.4V975.5H472.4V976.1H471.4V976.4H470.4V974.9H469.4V974.5H468.4V975.1H467.4V976.2H466.4V977.2H465.4V977.1H464.4V976.6H463.4V976.5H462.4V976.8H461.4V978H460.4V977.9H459.4V977.3H458.4V977.8H457.4V978.6H456.4V979.5H455.4V980.1H454.4V980.6H453.4V980.5H452.4V980.3H451.4V980H450.4V979.9H449.4V979.9H448.4V980.7H447.4V982H446.4V981.8H445.4V981.8H444.4V982H443.4V982.1H442.4V983.1H441.4V982.9H440.4V982.8H439.4V982.2H438.4V982.7H437.4V983H436.4V983.2H435.4V984.1H434.4V984.1H433.4V984.2H432.4V984.3H431.4V983.2H430.4V984.3H429.4V985.2H428.4V984.5H427.4V983.7H426.4V984.1H425.4V985.3H424.4V984.8H423.4V985.6H422.4V985.9H421.4V985.4H420.4V985.6H419.4V986H418.4V985.7H417.4V985.9H416.4V985.9H415.4V986.9H414.4V987.6H413.4V986.6H412.4V987.6H411.4V990.3H410.4V988.5H409.4V988.5H408.4V989.3H407.4V990H406.4V991.3H405.4V992.5H404.4V994.1H403.4V993.5H402.4V993.6H401.4V993.6H400.4V992.9H399.4V993.5H398.4V993.8H397.4V992.5H396.4V993.9H395.4V992.5H394.4V992.4H393.4V990.6H392.4V988.3H391.4V985.8H390.4V982.4H389.4V979.8H388.4V978H387.4V976.1H386.4V974.9H385.4V973.7H384.4V971.7H383.4V972.6H382.4V970H381.4V969.3H380.4V968.7H379.4V967.5H378.4V967.9H377.4V968.2H376.4V966.5H375.4V965.4H374.4V965H373.4V963.7H372.4V963.1H371.4V963H370.4V963H369.4V963.2H368.4V962.9H367.4V961.8H366.4V962.3H365.4V962.9H364.4V963.4H363.4V963.5H362.4V962.3H361.4V962.1H360.4V963.1H359.4V964.2H358.4V963.9H357.4V963.7H356.4V964.3H355.4V964.4H354.4V963.3H353.4V962.6H352.4V962.3H351.4V961.7H350.4V960.7H349.4V959.8H348.4V960H347.4V959.1H346.4V958.7H345.4V958.7H344.4V958.1H343.4V958.1H342.4V956.6H341.4V956.5H340.4V957.5H339.4V958.2H338.4V958.7H337.4V958.4H336.4V958.8H335.4V960.2H334.4V959.4H333.4V958.4H332.4V959.9H331.4V960.9H330.4V961.7H329.4V960.6H328.4V959.9H327.4V960H326.4V959.5H325.4V958.9H324.4V959H323.4V959H322.4V959H321.4V958H320.4V957.6H319.4V960.9H318.4V957.3H317.4V956.8H316.4V956H315.4V954.8H314.4V953.7H313.4V952.5H312.4V952.3H311.4V951.5H310.4V951.1H309.4V950.8H308.4V949.5H307.4V948.2H306.4V947.6H305.4V947.7H304.4V947.9H303.4V945.3H302.4V944.4H301.4V944.3H300.4V944.4H299.4V943.7H298.4V942.3H297.4V942.3H296.4V943H295.4V941.5H294.4V940H293.4V940.5H292.4V940.9H291.4V940.8H290.4V940.4H289.4V940.2H288.4V939.6H287.4V938.7H286.4V938.2H285.4V937.7H284.4V938.2H283.4V938.9H282.4V939H281.4V938.6H280.4V937.8H279.4V938.1H278.4V937.8H277.4V938.3H276.4V938.7H275.4V938.9H274.4V939.1H273.4V938.1H272.4V938.7H271.4V938.9H270.4V939.4H269.4V940.9H268.4V941.9H267.4V942.4H266.4V941.8H265.4V941.4H264.4V942.6H263.4V942.8H262.4V942.8H261.4V942.7H260.4V942.1H259.4V943.6H258.4V945H257.4V944.3H256.4V944.9H255.4V946.4H254.4V946.2H253.4V946H252.4V946.1H251.4V946.2H250.4V947.4H249.4V948.3H248.4V947.9H247.4V947.9H246.4V951.7H245.4V948.1H244.4V948H243.4V948.6H242.4V948.2H241.4V946.4H240.4V946.9H239.4V948.1H238.4V947.1H237.4V945.8H236.4V946.5H235.4V947.1H234.4V946.4H233.4V944.9H232.4V943.6H231.4V943.9H230.4V944.7H229.4V944.5H228.4V943.6H227.4V942.9H226.4V943.3H225.4V942.4H224.4V944.2H223.4V941.9H222.4V941.4H221.4V940.2H220.4V940.4H219.4V940.9H218.4V939.4H217.4V940.8H216.4V940.1H215.4V939.3H214.4V939.2H213.4V938.1H212.4V936.7H211.4V937.2H210.4V937.9H209.4V937.1H208.4V936.2H207.4V935.6H206.4V934.6H205.4V933.8H204.4V933.6H203.4V933.9H202.4V934.1H201.4V932.4H200.4V932.5H199.4V933.1H198.4V931.9H197.4V931.1H196.4V933.8H195.4V931H194.4V930.8H193.4V930H192.4V929.7H191.4V929.7H190.4V930.2H189.4V929.6H188.4V929.7H187.4V930.3H186.4V931.9H185.4V933H184.4V933H183.4V932.1H182.4V932.4H181.4V934.2H180.4V934.8H179.4V935.3H178.4V935.8H177.4V935.5H176.4V936.1H175.4V939.1H174.4V938.7H173.4V939.4H172.4V940.3H171.4V941.1H170.4V942.1H169.4V942.4H168.4V942.2H167.4V942.5H166.4V942.5H165.4V942.8H164.4V943.4H163.4V942.9H162.4V943.3H161.4V944.2H160.4V945.6H159.4V943.7H158.4V946.4H157.4V946.4H156.4V946.5H155.4V946.5H154.4V947.5H153.4V948H152.4V948.3H151.4V948.2H150.4V947.7H149.4V947.8H148.4V949H147.4V947.6H146.4V945H145.4V944.4H144.4V945.5H143.4V944.3H142.4V944.5H141.4V945.5H140.4V951.3H139.4V956.5H138.4V957.3H137.4V953.1H136.4V949.3H135.4V944.2H134.4V939.1H133.4V937.8H132.4V940.1H131.4V941.1H130.4V941.9H129.4V943.3H128.4V943.4H127.4V944.4H126.4V944.9H125.4V944.4H124.4V944.4H123.4V944.4H122.4V944.4H121.4V944.8H120.4V945.3H119.4V945.2H118.4V945.6H117.4V945.5H116.4V945.9H115.4V946.4H114.4V949.6H113.4V946.4H112.4V946.1H111.4V946.1H110.4Z" fill="#7680b5"/>
<polyline points="110.9,942.0 111.9,941.9 112.8,941.8 113.8,941.8 114.8,941.7 115.7,941.6 116.7,941.5 117.7,941.5 118.6,941.4 119.6,941.3 120.5,941.2 121.5,941.2 122.5,941.1 123.4,941.0 124.4,940.9 125.4,940.9 126.3,940.8 127.3,940.7 128.2,939.8 129.1,938.9 130.0,938.0 130.8,936.9 131.7,935.7 132.5,934.5 133.3,933.4 134.3,937.8 135.3,942.3 136.2,946.7 137.2,951.2 138.2,955.6 141.0,942.0 141.8,941.4 142.7,940.8 143.5,940.2 144.3,939.6 145.2,941.1 146.2,942.7 147.1,944.2 148.0,945.7 148.9,945.2 149.9,944.6 150.8,944.1 151.8,943.6 152.7,943.1 153.7,942.5 154.6,942.0 155.6,941.7 156.6,941.4 157.5,941.1 158.5,940.8 159.5,940.5 160.5,940.2 161.4,940.0 162.4,939.7 163.4,939.4 164.4,939.1 165.4,938.8 166.3,938.5 167.3,938.2 168.3,937.9 169.3,937.2 170.3,936.5 171.2,935.9 172.2,935.2 173.2,934.5 174.2,933.8 175.2,933.1 176.1,932.5 177.1,931.8 178.1,931.1 179.1,930.4 180.0,929.8 181.0,929.1 182.0,928.4 183.0,928.1 184.0,927.9 185.0,927.6 186.0,927.4 187.0,927.1 187.9,926.9 188.9,926.6 189.9,926.4 190.9,926.1 191.9,925.9 192.9,925.6 193.9,926.0 194.8,926.4 195.8,926.8 196.8,927.2 197.7,927.6 198.7,928.0 199.7,928.4 200.6,928.8 201.6,929.3 202.5,929.7 203.5,930.1 204.5,930.5 205.4,930.9 206.4,931.3 207.4,931.7 208.3,932.1 209.3,932.5 210.3,932.9 211.3,933.3 212.2,933.7 213.2,934.0 214.2,934.4 215.2,934.8 216.2,935.2 217.1,935.6 218.1,936.0 219.1,936.4 220.1,936.7 221.0,937.1 222.0,937.5 223.0,937.9 224.0,938.2 225.0,938.5 226.0,938.8 227.0,939.2 228.0,939.5 228.9,939.8 229.9,940.1 230.9,940.4 231.9,940.7 232.9,941.0 233.9,941.3 234.9,941.7 235.9,942.0 236.9,942.3 237.9,942.6 238.9,942.9 239.8,943.2 240.8,943.5 241.8,943.9 242.8,944.2 243.8,944.5 244.8,944.8 245.8,944.5 246.7,944.1 247.7,943.8 248.6,943.4 249.6,943.1 250.5,942.7 251.5,942.4 252.4,942.0 253.4,941.7 254.3,941.3 255.3,941.0 256.3,940.7 257.2,940.3 258.2,940.0 259.1,939.6 260.1,939.3 261.0,938.9 262.0,938.6 262.9,938.2 263.9,937.9 264.9,937.6 265.9,937.3 266.8,937.0 267.8,936.7 268.8,936.4 269.8,936.1 270.8,935.8 271.7,935.6 272.7,935.3 273.7,935.0 274.7,934.7 275.6,934.4 276.6,934.1 277.6,933.8 278.6,933.9 279.5,934.0 280.5,934.1 281.4,934.2 282.4,934.3 283.3,934.4 284.3,934.6 285.2,934.7 286.2,934.8 287.1,934.9 288.1,935.0 289.0,935.1 290.0,935.2 291.0,935.7 292.0,936.2 292.9,936.7 293.9,937.1 294.9,937.6 295.9,938.1 296.9,938.6 297.8,939.1 298.8,939.6 299.8,940.1 300.8,940.5 301.7,941.0 302.7,941.5 303.7,942.0 304.7,942.8 305.6,943.6 306.6,944.4 307.6,945.1 308.6,945.9 309.5,946.7 310.5,947.5 311.5,948.3 312.4,949.1 313.4,949.9 314.4,950.6 315.4,951.4 316.3,952.2 317.3,953.0 318.3,953.4 319.3,953.7 320.3,954.1 321.3,954.5 322.3,954.9 323.3,955.2 324.3,955.6 325.3,956.0 326.3,956.4 327.3,956.7 328.3,957.1 329.3,956.8 330.2,956.5 331.2,956.2 332.2,955.9 333.2,955.6 334.1,955.3 335.1,955.0 336.1,954.8 337.0,954.5 338.0,954.2 339.0,953.9 340.0,953.6 340.9,953.3 341.9,953.0 342.9,953.5 343.9,954.0 344.8,954.5 345.8,954.9 346.8,955.4 347.8,955.9 348.8,956.4 349.7,956.9 350.7,957.4 351.7,957.9 352.7,958.3 353.6,958.8 354.6,959.3 355.6,959.8 356.6,959.7 357.6,959.6 358.5,959.5 359.5,959.4 360.5,959.3 361.5,959.2 362.5,959.1 363.4,959.1 364.4,959.0 365.4,958.9 366.4,958.8 367.3,958.7 368.3,958.6 369.3,958.5 370.3,959.1 371.2,959.7 372.2,960.2 373.2,960.8 374.2,961.4 375.1,962.0 376.1,962.5 377.1,963.1 378.0,963.7 379.0,964.3 380.0,964.9 381.0,965.4 381.9,966.0 382.9,966.6 383.8,968.0 384.7,969.3 385.6,970.7 386.6,972.1 387.5,973.4 388.4,974.8 389.3,977.1 390.2,979.4 391.1,981.6 392.1,983.9 393.0,986.2 393.9,988.5 394.8,988.7 395.7,988.8 396.6,989.0 397.5,989.1 398.4,989.3 399.3,989.4 400.2,989.6 401.1,989.7 402.0,989.9 403.0,989.3 404.0,988.6 405.0,988.0 406.0,987.4 407.0,986.8 408.0,986.1 409.0,985.5 410.0,984.9 411.0,984.3 412.0,983.6 413.0,983.0 414.0,982.9 414.9,982.7 415.9,982.6 416.9,982.4 417.9,982.3 418.9,982.1 419.8,982.0 420.8,981.8 421.8,981.7 422.8,981.5 423.7,981.4 424.7,981.2 425.7,981.1 426.6,981.0 427.6,980.8 428.6,980.7 429.6,980.5 430.6,980.4 431.5,980.2 432.5,980.1 433.5,979.9 434.4,979.8 435.4,979.6 436.4,979.5 437.4,979.3 438.4,979.2 439.3,979.0 440.3,978.9 441.3,978.7 442.2,978.4 443.2,978.2 444.2,977.9 445.2,977.7 446.2,977.4 447.1,977.2 448.1,977.0 449.1,976.7 450.1,976.5 451.0,976.2 452.0,976.0 453.0,975.7 454.0,975.5 454.9,975.3 455.9,975.0 456.9,974.8 457.9,974.5 458.8,974.3 459.8,974.0 460.8,973.8 461.8,973.6 462.7,973.3 463.7,973.1 464.7,972.8 465.7,972.6 466.6,972.3 467.6,972.1 468.6,971.9 469.6,971.6 470.5,971.4 471.5,971.1 472.5,970.9 473.5,970.6 474.5,970.4 475.4,970.2 476.4,969.9 477.4,969.7 478.4,969.4 479.3,969.2 480.3,968.9 481.3,968.7 482.3,968.5 483.3,968.2 484.2,968.0 485.2,967.7 486.2,967.5 487.2,967.2 488.1,967.0 489.1,966.8 490.1,966.5 491.1,966.3 492.1,966.0 493.0,965.8 494.0,965.5 495.0,965.3 495.8,959.6 496.6,953.8 497.5,948.1 498.3,942.3 499.1,936.6 501.0,961.2 502.0,957.9 503.0,954.7 504.0,951.4 505.0,948.1 506.0,944.9 507.0,941.6 508.0,941.7 509.0,941.9 510.0,942.0 511.0,942.2 512.0,942.3 513.0,942.4 514.0,942.6 515.0,942.7 516.0,942.9 517.0,943.0 518.0,943.1 519.0,943.3 520.0,943.4 521.0,943.5 522.0,943.7 523.0,943.8 524.0,944.0 525.0,944.1 525.9,943.8 526.9,943.6 527.8,943.3 528.8,943.1 529.7,942.8 530.7,942.6 531.6,942.3 532.5,942.0 533.5,941.8 534.4,941.5 535.4,941.3 536.3,941.0 537.3,940.8 538.2,940.5 539.2,940.3 540.1,940.0 541.1,939.9 542.1,939.9 543.1,939.8 544.1,939.8 545.1,939.7 546.1,939.7 547.1,939.6 548.1,939.6 549.1,939.5 550.1,939.4 551.1,939.4 552.1,939.3 553.1,939.3 554.1,939.2 555.1,939.2 556.1,939.1 557.1,939.1 558.1,939.0 559.0,939.2 560.0,939.5 560.9,939.7 561.8,939.9 562.8,940.2 563.7,940.4 564.6,940.6 565.5,940.8 566.5,941.1 567.4,941.3 568.3,941.5 569.3,941.8 570.2,942.0 571.2,942.2 572.2,942.4 573.2,942.6 574.2,942.8 575.2,943.0 576.2,943.2 577.2,943.4 578.2,943.6 579.2,943.8 580.2,944.0 581.2,944.2 582.2,944.4 583.2,944.6 584.2,944.8 585.2,945.0 586.2,945.2 587.2,945.4 588.2,945.6 589.2,945.8 590.2,946.0 591.2,946.2 592.2,946.4 593.2,946.6 594.2,946.8 595.2,947.0 596.2,947.2 597.2,947.4 598.2,947.6 599.2,947.8 600.2,948.0 601.2,948.1 602.1,948.1 603.1,948.2 604.1,948.2 605.1,948.3 606.0,948.3 607.0,948.4 608.0,948.4 608.9,948.5 609.9,948.5 610.9,948.6 611.9,948.6 612.8,948.7 613.8,948.7 614.8,948.8 615.7,948.8 616.7,948.9 617.7,948.9 618.6,949.0 619.6,949.0 620.6,949.1 621.6,949.1 622.5,949.2 623.5,949.2 624.5,949.3 625.4,949.3 626.4,949.4 627.4,949.4 628.4,949.5 629.3,949.5 630.3,949.6 631.3,949.8 632.3,950.0 633.3,950.1 634.3,950.3 635.3,950.5 636.3,950.7 637.3,950.9 638.3,951.0 639.3,951.2 640.3,951.4 641.3,951.6 642.3,951.8 643.3,951.9 644.3,952.1 645.3,952.3 646.3,952.2 647.2,952.1 648.2,952.0 649.2,952.0 650.2,951.9 651.1,951.8 652.1,951.7 653.1,951.6 654.0,951.5 655.0,951.4 656.0,951.3 657.0,951.3 657.9,951.2 658.9,951.1 659.9,951.0 660.8,950.9 661.8,950.8 662.8,950.7 663.7,950.6 664.7,950.6 665.7,950.5 666.7,950.4 667.6,950.3 668.6,950.2 669.6,950.1 670.5,950.0 671.5,949.9 672.5,949.9 673.5,949.8 674.4,949.7 675.4,949.6 676.4,949.6 677.4,949.7 678.4,949.8 679.4,949.8 680.4,949.9 681.4,949.9 682.4,950.0 683.4,950.0 684.4,950.0 685.4,950.1 686.4,950.1 687.4,950.2 688.4,950.2 689.4,950.3 690.4,950.4 691.4,950.4 692.4,950.4 693.4,950.5 694.4,950.5 695.4,950.6 696.4,950.6 697.4,950.7 698.4,950.8 699.4,950.8 700.4,950.8 701.3,950.8 702.3,950.8 703.3,950.8 704.2,950.8 705.2,950.8 706.2,950.8 707.1,950.8 708.1,950.8 709.0,950.8 710.0,950.8 711.0,950.8 711.9,950.8 712.9,950.8 713.9,950.8 714.8,950.8 715.8,950.8 716.8,950.8 717.7,950.8 718.7,950.8 719.7,950.9 720.7,950.9 721.6,951.0 722.6,951.1 723.6,951.1 724.6,951.2 725.6,951.2 726.6,951.3 727.5,951.4 728.5,951.4 729.5,951.5 730.5,951.6 731.5,951.6 732.5,951.7 733.4,951.7 734.4,951.8 735.4,951.9 736.4,951.9 737.4,952.0 738.4,952.1 739.3,952.1 740.3,952.2 741.3,952.2 742.3,952.3 743.3,952.4 744.3,952.4 745.2,952.5 746.2,952.6 747.2,952.6 748.2,952.7 749.2,952.7 750.2,952.8 751.1,952.9 752.1,952.9 753.1,953.0 754.1,953.3 755.0,953.6 756.0,953.9 756.9,954.2 757.9,954.5 758.8,954.8 759.8,955.1 760.8,955.4 761.7,955.7 762.7,956.0 763.6,956.2 764.6,956.5 765.5,956.8 766.5,957.1 767.5,957.4 768.4,957.7 769.4,958.0 770.3,958.3 771.3,958.6 772.2,958.9 773.2,959.2 774.2,958.8 775.1,958.4 776.1,958.0 777.0,957.6 778.0,957.2 779.0,956.8 779.9,956.4 780.9,956.0 781.9,955.6 782.8,955.2 783.8,954.8 784.7,954.4 785.7,954.0 786.7,953.6 787.6,953.2 788.6,952.8 789.5,952.4 790.5,952.0 791.5,951.7 792.5,951.4 793.5,951.1 794.5,950.8 795.4,950.5 796.4,950.2 797.4,949.9 798.4,949.6 799.4,949.3 800.4,949.0 801.4,948.7 802.4,948.4 803.4,948.1 804.4,947.8 805.3,947.6 806.3,947.3 807.3,947.0 808.3,946.7 809.3,946.4 810.3,946.1 811.3,945.8 812.3,945.5 813.3,945.2 814.3,944.9 815.2,944.6 816.2,944.3 817.2,944.0 818.2,943.7 819.2,943.4 820.2,943.2 821.2,943.0 822.2,942.8 823.2,942.6 824.1,942.4 825.1,942.2 826.1,942.0 827.1,941.8 828.1,941.6 829.1,941.4 830.1,941.2 831.1,941.0 832.1,940.8 833.1,940.6 834.0,940.5 835.0,940.3 836.0,940.1 837.0,939.9 838.0,939.7 839.0,939.5 840.0,939.3 841.0,939.1 842.0,938.9 843.0,938.7 843.9,938.5 844.9,938.3 845.9,938.1 846.9,937.9 847.9,937.7 848.9,937.5 849.8,937.4 850.8,937.2 851.7,937.1 852.7,936.9 853.6,936.8 854.6,936.6 855.5,936.5 856.5,936.3 857.4,936.2 858.4,936.0 859.3,935.9 860.3,935.7 861.2,935.6 862.2,935.4 863.1,935.3 864.1,935.1 865.0,935.0 866.0,934.8" fill="none" stroke="#7680b5" stroke-width="3.0" stroke-linejoin="round" />
<polyline points="110.9,1099.1 111.9,1100.0 112.8,1099.9 113.8,1100.2 114.8,1100.7 115.7,1099.9 116.7,1100.8 117.7,1101.4 118.6,1101.6 119.6,1101.4 120.5,1101.0 121.5,1101.6 122.5,1102.8 123.4,1101.6 124.4,1102.2 125.4,1103.4 126.3,1102.9 127.3,1102.7 128.2,1102.8 129.0,1103.0" fill="none" stroke="#a83c78" stroke-width="3.2" stroke-linejoin="round" />
<polyline points="129.0,1103.0 129.5,849.0 130.6,1194.0 131.8,1070.0" fill="none" stroke="#a83c78" stroke-width="3.0" stroke-linejoin="round" />
<path d="M131.3,1064.8H132.3V1070.2H133.3V1063H134.3V1057.9H135.3V1060.9H136.3V1069.8H137.3V1073.3H138.3V1067.9H139.3V1063H140.3V1063.1H141.3V1067.4H142.3V1070.2H143.3V1066.7H144.3V1062.1H145.3V1064.2H146.3V1069.8H147.3V1071.4H148.3V1066.5H149.3V1063.6H150.3V1065.8H151.3V1070.6H152.3V1073.6H153.3V1069.6H154.3V1066.4H155.3V1065.6H156.3V1069.2H157.3V1072.9H158.3V1069.5H159.3V1066.7H160.3V1067.3H161.3V1070.2H162.3V1069.6H163.3V1065.9H164.3V1063.9H165.3V1066.9H166.3V1069.6H167.3V1070.3H168.3V1067H169.3V1063.5H170.3V1063.9H171.3V1064.9H172.3V1067.3H173.3V1068.9H174.3V1067.9H175.3V1066.1H176.3V1065.5H177.3V1067.2H178.3V1067.9H179.3V1066.5H180.3V1067.4H181.3V1067.6H182.3V1065.8H183.3V1064.6H184.3V1065.6H185.3V1065.8H186.3V1066H187.3V1065H188.3V1064H189.3V1064.9H190.3V1064.8H191.3V1059.4H192.3V1059.1H193.3V1062.4H194.3V1063.5H195.3V1062.9H196.3V1065H197.3V1066.8H198.3V1064H199.3V1061.6H200.3V1062.8H201.3V1063.4H202.3V1062.2H203.3V1063.9H204.3V1064.6H205.3V1063.6H206.3V1063.4H207.3V1063.7H208.3V1063H209.3V1061.8H210.3V1063.7H211.3V1063.4H212.3V1061.5H213.3V1061.2H214.3V1062.5H215.3V1064H216.3V1061.6H217.3V1062.1H218.3V1064H219.3V1062.3H220.3V1059.9H221.3V1059.4H222.3V1061.1H223.3V1059.5H224.3V1058.4H225.3V1059.8H226.3V1060.9H227.3V1060.8H228.3V1058.8H229.3V1060H230.3V1059.8H231.3V1059.8H232.3V1059.2H233.3V1056.4H234.3V1057H235.3V1059.6H236.3V1058H237.3V1057.9H238.3V1057.8H239.3V1055.9H240.3V1058.1H241.3V1059.7H242.3V1057.3H243.3V1056.5H244.3V1055.5H245.3V1054.8H246.3V1056.8H247.3V1055.3H248.3V1053.6H249.3V1053.3H250.3V1055.4H251.3V1056.9H252.3V1054.4H253.3V1054.3H254.3V1056.1H255.3V1054.8H256.3V1055H257.3V1055.4H258.3V1056.9H259.3V1058.5H260.3V1058H261.3V1057.3H262.3V1058.1H263.3V1060H264.3V1058.7H265.3V1057.2H266.3V1058.2H267.3V1058H268.3V1059.6H269.3V1059H270.3V1058.4H271.3V1058H272.3V1059.5H273.3V1059.6H274.3V1060.8H275.3V1061.3H276.3V1058.6H277.3V1058.2H278.3V1059.8H279.3V1059.7H280.3V1060.7H281.3V1062.2H282.3V1062.9H283.3V1063.8H284.3V1064.3H285.3V1064.7H286.3V1063.1H287.3V1060.9H288.3V1061.5H289.3V1063.5H290.3V1064.7H291.3V1065.4H292.3V1065.1H293.3V1063.2H294.3V1061.9H295.3V1062.2H296.3V1063.7H297.3V1065.1H298.3V1063.6H299.3V1063.4H300.3V1063.7H301.3V1064.7H302.3V1065.4H303.3V1066.7H304.3V1067.7H305.3V1066.1H306.3V1066H307.3V1065.8H308.3V1065.5H309.3V1067H310.3V1066.9H311.3V1066.9H312.3V1069.3H313.3V1069.3H314.3V1066.9H315.3V1059.8H316.3V1068.9H317.3V1071.5H318.3V1069.6H319.3V1068.7H320.3V1070.2H321.3V1067.3H322.3V1070.1H323.3V1071.5H324.3V1072.8H325.3V1072.7H326.3V1070.5H327.3V1068.2H328.3V1070H329.3V1070.2H330.3V1069.6H331.3V1069.3H332.3V1069.5H333.3V1069.8H334.3V1072.1H335.3V1071.5H336.3V1072.4H337.3V1072.4H338.3V1072.2H339.3V1073.9H340.3V1073.4H341.3V1073.8H342.3V1073.1H343.3V1072.1H344.3V1073.1H345.3V1073H346.3V1074.3H347.3V1073H348.3V1071.1H349.3V1072.9H350.3V1074H351.3V1072.7H352.3V1072.2H353.3V1074.2H354.3V1075.9H355.3V1076H356.3V1076.6H357.3V1076.5H358.3V1074.4H359.3V1075.7H360.3V1074.4H361.3V1074.6H362.3V1077.1H363.3V1071.6H364.3V1075.8H365.3V1076.2H366.3V1077.2H367.3V1075.2H368.3V1074H369.3V1075.8H370.3V1075H371.3V1074.8H372.3V1076.8H373.3V1077.7H374.3V1076.6H375.3V1074.4H376.3V1075.9H377.3V1077.5H378.3V1077.4H379.3V1075.6H380.3V1076.5H381.3V1078.5H382.3V1078.1H383.3V1076.1H384.3V1095H383.3V1096.7H382.3V1102.7H381.3V1095.3H380.3V1095.6H379.3V1097.9H378.3V1097.5H377.3V1097.5H376.3V1097.5H375.3V1096.3H374.3V1095.1H373.3V1095.6H372.3V1093.9H371.3V1102.2H370.3V1097.5H369.3V1095.5H368.3V1093.1H367.3V1094.5H366.3V1094.9H365.3V1095.1H364.3V1095.6H363.3V1094.6H362.3V1091.5H361.3V1091.8H360.3V1094H359.3V1094.4H358.3V1094.4H357.3V1094.1H356.3V1095.4H355.3V1093H354.3V1094.1H353.3V1093.7H352.3V1092.8H351.3V1093.7H350.3V1092.2H349.3V1092.9H348.3V1095H347.3V1093.1H346.3V1093.6H345.3V1093.1H344.3V1092.3H343.3V1093.8H342.3V1093.6H341.3V1094.6H340.3V1094.1H339.3V1093H338.3V1092.1H337.3V1092.9H336.3V1093H335.3V1092.9H334.3V1093.6H333.3V1089.2H332.3V1089.1H331.3V1090.2H330.3V1090.7H329.3V1090H328.3V1089.7H327.3V1088.1H326.3V1088.4H325.3V1088.8H324.3V1089.4H323.3V1090.1H322.3V1089H321.3V1088.6H320.3V1088.9H319.3V1087.3H318.3V1088.4H317.3V1091.2H316.3V1089H315.3V1086.2H314.3V1086.4H313.3V1088.5H312.3V1089.5H311.3V1089H310.3V1089H309.3V1087.5H308.3V1084.9H307.3V1090.4H306.3V1085.4H305.3V1084.1H304.3V1082.8H303.3V1083.3H302.3V1083.1H301.3V1082.8H300.3V1083.1H299.3V1082.2H298.3V1082.1H297.3V1081.7H296.3V1083.6H295.3V1083.7H294.3V1081.7H293.3V1082.2H292.3V1081.3H291.3V1083H290.3V1083.8H289.3V1081.7H288.3V1079.4H287.3V1079.5H286.3V1080.9H285.3V1082.4H284.3V1082H283.3V1081.6H282.3V1080.8H281.3V1079.8H280.3V1082.2H279.3V1082.5H278.3V1081.8H277.3V1081.1H276.3V1080.8H275.3V1080.2H274.3V1079.4H273.3V1080.4H272.3V1080.2H271.3V1079H270.3V1079.6H269.3V1076.9H268.3V1077.5H267.3V1078.4H266.3V1077.9H265.3V1084.6H264.3V1078.3H263.3V1077.1H262.3V1077.6H261.3V1076.1H260.3V1075.2H259.3V1075.9H258.3V1076.6H257.3V1076.1H256.3V1076.9H255.3V1076.9H254.3V1075.9H253.3V1075.1H252.3V1073.7H251.3V1072.3H250.3V1073.8H249.3V1074.4H248.3V1073.4H247.3V1073.7H246.3V1075.8H245.3V1077.6H244.3V1081.1H243.3V1075.4H242.3V1076.9H241.3V1077.6H240.3V1076.1H239.3V1079.5H238.3V1075.8H237.3V1075.1H236.3V1075.5H235.3V1076.3H234.3V1075.3H233.3V1076.2H232.3V1076.8H231.3V1078.3H230.3V1080.8H229.3V1081.3H228.3V1081.5H227.3V1080.1H226.3V1078.6H225.3V1079.3H224.3V1080.3H223.3V1079.5H222.3V1081.4H221.3V1082.8H220.3V1081.1H219.3V1080.7H218.3V1081.9H217.3V1081.3H216.3V1080.2H215.3V1081H214.3V1082.4H213.3V1081.2H212.3V1082.3H211.3V1083.1H210.3V1081.6H209.3V1082.7H208.3V1083.4H207.3V1083.8H206.3V1085.9H205.3V1085.9H204.3V1083.3H203.3V1082.2H202.3V1083.3H201.3V1081.9H200.3V1083.5H199.3V1086.6H198.3V1086.5H197.3V1085.5H196.3V1087.7H195.3V1083.7H194.3V1082.5H193.3V1084.4H192.3V1086.8H191.3V1084.9H190.3V1082.9H189.3V1083.7H188.3V1083.5H187.3V1084.7H186.3V1086.9H185.3V1087.3H184.3V1087.1H183.3V1091H182.3V1082.9H181.3V1084.5H180.3V1086.5H179.3V1086.2H178.3V1084.3H177.3V1086.6H176.3V1088.2H175.3V1085H174.3V1084.9H173.3V1087.4H172.3V1088.3H171.3V1086.6H170.3V1084.4H169.3V1088H168.3V1090.8H167.3V1093.2H166.3V1086.2H165.3V1088.7H164.3V1088.6H163.3V1087.1H162.3V1086.2H161.3V1084.7H160.3V1085.7H159.3V1090.6H158.3V1091.7H157.3V1089.1H156.3V1086H155.3V1085H154.3V1090.4H153.3V1091.3H152.3V1086.9H151.3V1084H150.3V1085.8H149.3V1089.8H148.3V1091.7H147.3V1088.3H146.3V1084.4H145.3V1084.5H144.3V1089.4H143.3V1094.3H142.3V1094.8H141.3V1079.7H140.3V1080.1H139.3V1087.8H138.3V1090.8H137.3V1085.5H136.3V1079.7H135.3V1078.9H134.3V1085.5H133.3V1090.8H132.3V1083H131.3Z" fill="#a83c78"/>
<polyline points="131.8,1073.3 132.6,1079.7 133.4,1078.2 134.2,1071.8 135.0,1067.7 136.0,1070.7 137.0,1079.2 137.9,1082.1 138.9,1076.4 139.9,1070.3 140.9,1072.0 141.9,1078.7 142.8,1081.8 143.8,1077.8 144.8,1072.6 145.8,1073.3 146.8,1078.6 147.7,1081.6 148.7,1078.9 149.7,1074.7 150.7,1074.7 151.7,1078.8 152.6,1081.7 153.6,1079.9 154.6,1076.4 155.6,1075.7 156.6,1078.6 157.5,1081.0 158.5,1079.7 159.5,1076.7 160.5,1075.7 161.4,1077.8 162.4,1079.9 163.4,1079.2 164.4,1076.7 165.4,1075.6 166.3,1077.1 167.3,1078.9 168.3,1078.6 169.3,1076.6 170.3,1075.5 171.2,1076.5 172.2,1078.0 173.2,1077.9 174.2,1076.4 175.2,1076.6 176.1,1076.5 177.1,1076.4 178.1,1076.3 179.1,1076.2 180.0,1076.1 181.0,1076.0 182.0,1075.9 183.0,1075.8 183.9,1075.7 184.9,1075.6 185.9,1075.5 186.9,1075.4 187.8,1075.3 188.8,1075.2 189.8,1075.1 190.8,1075.0 191.8,1074.9 192.7,1074.8 193.7,1074.7 194.7,1074.6 195.7,1074.6 196.6,1074.5 197.6,1074.4 198.6,1074.3 199.6,1074.2 200.5,1074.1 201.5,1074.0 202.5,1073.9 203.5,1073.8 204.4,1073.7 205.4,1073.6 206.4,1073.5 207.4,1073.4 208.3,1073.3 209.3,1073.2 210.3,1073.0 211.2,1072.8 212.2,1072.6 213.2,1072.4 214.2,1072.2 215.2,1072.0 216.1,1071.8 217.1,1071.6 218.1,1071.4 219.1,1071.2 220.0,1071.0 221.0,1070.8 222.0,1070.6 222.9,1070.5 223.9,1070.3 224.9,1070.1 225.9,1069.9 226.8,1069.7 227.8,1069.5 228.8,1069.3 229.8,1069.1 230.8,1068.9 231.7,1068.7 232.7,1068.5 233.7,1068.3 234.7,1068.1 235.6,1067.9 236.6,1067.7 237.6,1067.5 238.5,1067.4 239.5,1067.2 240.5,1067.1 241.4,1066.9 242.4,1066.7 243.4,1066.6 244.3,1066.4 245.3,1066.3 246.2,1066.1 247.2,1066.0 248.2,1065.8 249.1,1065.6 250.1,1065.5 251.1,1065.3 252.0,1065.2 253.0,1065.0 254.0,1065.2 255.0,1065.4 256.0,1065.6 256.9,1065.9 257.9,1066.1 258.9,1066.3 259.9,1066.5 260.9,1066.7 261.9,1066.9 262.8,1067.2 263.8,1067.4 264.8,1067.6 265.8,1067.8 266.8,1068.0 267.8,1068.2 268.7,1068.5 269.7,1068.7 270.7,1068.9 271.7,1069.1 272.7,1069.3 273.7,1069.5 274.6,1069.8 275.6,1070.0 276.6,1070.2 277.6,1070.4 278.6,1070.6 279.6,1070.8 280.6,1071.0 281.6,1071.1 282.6,1071.3 283.6,1071.5 284.6,1071.7 285.6,1071.9 286.6,1072.1 287.6,1072.3 288.6,1072.5 289.5,1072.6 290.5,1072.8 291.5,1073.0 292.5,1073.2 293.5,1073.4 294.5,1073.6 295.5,1073.8 296.5,1073.9 297.5,1074.1 298.5,1074.3 299.5,1074.5 300.5,1074.7 301.5,1075.0 302.5,1075.2 303.5,1075.4 304.4,1075.7 305.4,1075.9 306.4,1076.1 307.4,1076.4 308.4,1076.6 309.4,1076.8 310.4,1077.1 311.4,1077.3 312.4,1077.5 313.3,1077.8 314.3,1078.0 315.3,1078.2 316.3,1078.5 317.3,1078.7 318.3,1078.8 319.3,1079.0 320.2,1079.1 321.2,1079.3 322.2,1079.4 323.2,1079.6 324.1,1079.7 325.1,1079.9 326.1,1080.0 327.1,1080.2 328.1,1080.3 329.0,1080.5 330.0,1080.6 331.0,1080.8 332.0,1080.9 333.0,1081.0 333.9,1081.2 334.9,1081.3 335.9,1081.5 336.9,1081.6 337.9,1081.8 338.8,1081.9 339.8,1082.1 340.8,1082.2 341.8,1082.4 342.7,1082.5 343.7,1082.7 344.7,1082.8 345.7,1082.9 346.7,1083.0 347.7,1083.1 348.7,1083.2 349.7,1083.3 350.7,1083.4 351.7,1083.5 352.7,1083.6 353.7,1083.7 354.7,1083.8 355.7,1083.9 356.7,1084.0 357.7,1084.1 358.7,1084.2 359.7,1084.3 360.7,1084.4 361.7,1084.5 362.7,1084.6 363.7,1084.7 364.6,1084.8 365.6,1085.0 366.6,1085.1 367.6,1085.2 368.6,1085.3 369.6,1085.4 370.6,1085.5 371.6,1085.6 372.6,1085.7 373.6,1085.8 374.6,1085.9 375.6,1086.0 376.6,1086.1 377.6,1086.2 378.6,1086.3 379.6,1086.4 380.6,1086.5 381.6,1086.6 382.6,1086.7 383.6,1086.8 384.6,1086.9" fill="none" stroke="#a83c78" stroke-width="2.6" stroke-linejoin="round" />
<polyline points="384.6,1086.9 385.8,1163.0 386.8,1097.7 387.5,1097.2 388.3,1096.5 389.0,1094.6 389.9,1099.5 390.8,1103.4 391.7,1107.6 392.6,1111.1 393.6,1115.3 394.5,1119.8 395.4,1123.6 396.3,1128.0 397.2,1131.4 398.1,1129.1 399.1,1127.6 400.0,1124.6 400.9,1122.3 401.9,1120.2 402.8,1117.1 403.7,1117.8 404.6,1120.1 405.5,1121.0 406.4,1122.3 407.3,1120.5 408.3,1119.4 409.2,1116.7 410.2,1115.7 411.1,1113.4 412.1,1112.0 413.0,1110.5 413.9,1111.5 414.7,1112.8 415.6,1115.0 416.5,1117.0 417.3,1118.4 418.2,1119.8 419.2,1119.1 420.2,1117.4 421.2,1116.4 422.2,1117.0 423.1,1118.2 424.1,1117.7 425.0,1117.9 426.0,1118.3 426.9,1118.7 427.9,1119.4 428.8,1120.3 429.8,1121.1 430.8,1120.8 431.7,1121.3 432.7,1121.5 433.6,1122.0 434.6,1123.2 435.5,1123.2 436.5,1123.2 437.4,1123.3 438.4,1124.8 439.3,1125.1 440.3,1125.7 441.3,1125.2 442.2,1126.1 443.2,1127.1 444.1,1127.0 445.1,1128.0 446.0,1127.1 447.0,1128.8 447.9,1127.8 448.9,1128.8 449.9,1128.5 450.8,1130.2 451.8,1130.4 452.7,1131.3 453.7,1131.4 454.6,1132.1 455.6,1131.8 456.5,1133.0 457.5,1133.0 458.4,1132.7 459.4,1134.2 460.4,1133.1 461.4,1132.7 462.4,1132.3 463.4,1132.8 464.4,1132.3 465.4,1133.3 466.4,1133.2 467.4,1131.9 468.4,1131.6 469.4,1132.2 470.4,1131.5 471.3,1131.9 472.3,1132.2 473.3,1131.2 474.3,1131.4 475.3,1132.0 476.3,1131.1 477.3,1130.9 478.3,1131.6 479.3,1131.4 480.3,1131.4 481.3,1130.9 482.2,1130.5 483.1,1131.0 483.9,1131.2 484.8,1131.0 485.7,1130.4 486.7,1131.1 487.6,1131.9 488.6,1133.1 489.6,1133.4 490.5,1134.0 491.5,1135.0 492.5,1134.5 493.5,1136.0 494.4,1136.1 495.4,1137.1 496.1,1138.0 496.8,1138.0" fill="none" stroke="#a83c78" stroke-width="3.2" stroke-linejoin="round" />
<path d="M496.3,1127.9H497.3V1271.7H498.3V1196.4H499.3V1137H500.3V1140.4H501.3V1166H502.3V1192.7H503.3V1204.9H504.3V1196.2H505.3V1187.1H506.3V1181.3H507.3V1181.5H508.3V1179H509.3V1172.1H510.3V1178.5H511.3V1179.3H512.3V1179.7H513.3V1181H514.3V1179.2H515.3V1176H516.3V1175.5H517.3V1176.5H518.3V1178.1H519.3V1176.3H520.3V1176.6H521.3V1175.4H522.3V1172.4H523.3V1166.8H524.3V1174.7H525.3V1174.4H526.3V1172.9H527.3V1171.9H528.3V1171.9H529.3V1174.4H530.3V1176.5H531.3V1174.8H532.3V1173.9H533.3V1173.5H534.3V1171.9H535.3V1172.9H536.3V1175.2H537.3V1170.3H538.3V1173.9H539.3V1172.2H540.3V1174.9H541.3V1175H542.3V1172.8H543.3V1175.3H544.3V1176.9H545.3V1175.2H546.3V1171.9H547.3V1174.8H548.3V1173.5H549.3V1172.7H550.3V1171.9H551.3V1172.8H552.3V1175.3H553.3V1175.4H554.3V1173.1H555.3V1174.4H556.3V1176.7H557.3V1172.2H558.3V1175.6H559.3V1174H560.3V1171.4H561.3V1172H562.3V1173H563.3V1173.6H564.3V1174.8H565.3V1174.1H566.3V1173.5H567.3V1173.9H568.3V1172H569.3V1171.6H570.3V1170.9H571.3V1169.1H572.3V1169.5H573.3V1170.6H574.3V1172.9H575.3V1173.2H576.3V1172.6H577.3V1170.1H578.3V1167.8H579.3V1170.4H580.3V1171.9H581.3V1170.8H582.3V1169.3H583.3V1166H584.3V1169.7H585.3V1172.2H586.3V1170.3H587.3V1169.5H588.3V1170.7H589.3V1171.6H590.3V1170.5H591.3V1168.3H592.3V1169.9H593.3V1171.9H594.3V1169.8H595.3V1169.1H596.3V1167.5H597.3V1167H598.3V1167.3H599.3V1168.1H600.3V1168.7H601.3V1168.2H602.3V1168.8H603.3V1170.2H604.3V1167.9H605.3V1167.8H606.3V1169H607.3V1167.5H608.3V1166.2H609.3V1165.2H610.3V1165.4H611.3V1167.2H612.3V1168.7H613.3V1169.3H614.3V1167.4H615.3V1168H616.3V1166.9H617.3V1165H618.3V1166.1H619.3V1166H620.3V1168.1H621.3V1167.2H622.3V1165.1H623.3V1167.6H624.3V1166.9H625.3V1167.8H626.3V1167.3H627.3V1167.7H628.3V1167.3H629.3V1165.8H630.3V1166.6H631.3V1166.6H632.3V1166.9H633.3V1169.5H634.3V1169.9H635.3V1169.1H636.3V1170.1H637.3V1169.4H638.3V1169H639.3V1171.1H640.3V1171H641.3V1162.7H642.3V1170.4H643.3V1170.4H644.3V1169.5H645.3V1171.8H646.3V1173H647.3V1172.3H648.3V1171.3H649.3V1170.3H650.3V1169.2H651.3V1168.5H652.3V1170.8H653.3V1171H654.3V1171.6H655.3V1170.5H656.3V1169.6H657.3V1171.3H658.3V1171.7H659.3V1169.6H660.3V1170.4H661.3V1171.6H662.3V1169.4H663.3V1171.1H664.3V1173.5H665.3V1172.6H666.3V1170H667.3V1164.6H668.3V1169.5H669.3V1171.3H670.3V1166.5H671.3V1169.6H672.3V1170.9H673.3V1173.7H674.3V1173.3H675.3V1173.3H676.3V1173.9H677.3V1171.5H678.3V1169.2H679.3V1170.4H680.3V1171.9H681.3V1174.5H682.3V1176.5H683.3V1174.4H684.3V1172.1H685.3V1174.1H686.3V1175.5H687.3V1174H688.3V1174.5H689.3V1176.6H690.3V1174.3H691.3V1175.8H692.3V1176.3H693.3V1176.9H694.3V1175.2H695.3V1173.8H696.3V1175.7H697.3V1176.4H698.3V1176.6H699.3V1175.5H700.3V1172.6H701.3V1173.2H702.3V1170.8H703.3V1173.3H704.3V1172.2H705.3V1174H706.3V1175.8H707.3V1174.6H708.3V1172.6H709.3V1172H710.3V1172.3H711.3V1174.2H712.3V1173.5H713.3V1171.6H714.3V1173.3H715.3V1175.3H716.3V1172.7H717.3V1170.1H718.3V1172.7H719.3V1174.4H720.3V1174.1H721.3V1171.4H722.3V1171.5H723.3V1167.7H724.3V1171.3H725.3V1169.3H726.3V1171.7H727.3V1172.5H728.3V1172.9H729.3V1174.1H730.3V1173.8H731.3V1171H732.3V1169.9H733.3V1172.1H734.3V1170.8H735.3V1168.4H736.3V1168.7H737.3V1170.6H738.3V1171.7H739.3V1172.1H740.3V1171.1H741.3V1171H742.3V1170.5H743.3V1169.2H744.3V1166.9H745.3V1171.6H746.3V1171.6H747.3V1167.4H748.3V1167.5H749.3V1170.2H750.3V1171H751.3V1171.9H752.3V1169.4H753.3V1169.7H754.3V1187.4H753.3V1188.9H752.3V1187.5H751.3V1187.3H750.3V1189.5H749.3V1187.1H748.3V1188.5H747.3V1191H746.3V1194.2H745.3V1188.8H744.3V1186.4H743.3V1188.7H742.3V1191.4H741.3V1194.4H740.3V1187.6H739.3V1188.8H738.3V1189H737.3V1187.6H736.3V1188.2H735.3V1187.9H734.3V1187.8H733.3V1186.8H732.3V1188.7H731.3V1191.4H730.3V1191H729.3V1190.2H728.3V1197H727.3V1192.3H726.3V1190.7H725.3V1190H724.3V1192H723.3V1190.3H722.3V1189.6H721.3V1190.8H720.3V1190.3H719.3V1192.4H718.3V1193.5H717.3V1192.7H716.3V1192.6H715.3V1192.5H714.3V1191.8H713.3V1190.3H712.3V1190.8H711.3V1192.4H710.3V1193.3H709.3V1193.8H708.3V1191.4H707.3V1189.8H706.3V1191.2H705.3V1191.4H704.3V1196.9H703.3V1193.5H702.3V1192H701.3V1194.4H700.3V1193.9H699.3V1191.6H698.3V1191.7H697.3V1191.6H696.3V1193.5H695.3V1194.7H694.3V1193.9H693.3V1194.2H692.3V1193.6H691.3V1195.3H690.3V1195.5H689.3V1194.5H688.3V1193.8H687.3V1193.5H686.3V1194.2H685.3V1193.2H684.3V1191.5H683.3V1192.6H682.3V1192.3H681.3V1190.4H680.3V1192.2H679.3V1189.7H678.3V1190.2H677.3V1192.9H676.3V1192.4H675.3V1190H674.3V1188.1H673.3V1188.3H672.3V1188.4H671.3V1189.5H670.3V1189.7H669.3V1189.8H668.3V1188.9H667.3V1188.6H666.3V1190.3H665.3V1189.8H664.3V1189.5H663.3V1189.2H662.3V1191.6H661.3V1190.6H660.3V1189.7H659.3V1191.1H658.3V1188.2H657.3V1188.7H656.3V1186.4H655.3V1188.4H654.3V1191.5H653.3V1189.7H652.3V1187.8H651.3V1188.3H650.3V1188.5H649.3V1188.4H648.3V1188.7H647.3V1188.6H646.3V1190.1H645.3V1190H644.3V1188.9H643.3V1189.6H642.3V1189.3H641.3V1187.9H640.3V1186.8H639.3V1188.8H638.3V1188.2H637.3V1185.2H636.3V1187.1H635.3V1190H634.3V1190.1H633.3V1188.8H632.3V1185.7H631.3V1186.5H630.3V1188.2H629.3V1185.1H628.3V1183.7H627.3V1184.9H626.3V1185.3H625.3V1186.5H624.3V1186.7H623.3V1185.5H622.3V1185.9H621.3V1185.9H620.3V1186.2H619.3V1185H618.3V1185.5H617.3V1185.8H616.3V1183.4H615.3V1182.8H614.3V1185.1H613.3V1185.7H612.3V1185.9H611.3V1188.5H610.3V1187.9H609.3V1186.9H608.3V1192.6H607.3V1188.4H606.3V1186.6H605.3V1186H604.3V1187.2H603.3V1186.7H602.3V1188.4H601.3V1187.9H600.3V1187H599.3V1187.8H598.3V1190H597.3V1190.2H596.3V1188.1H595.3V1186.2H594.3V1186.3H593.3V1185.9H592.3V1186.5H591.3V1186.7H590.3V1189.2H589.3V1188.9H588.3V1185.5H587.3V1186.4H586.3V1187.9H585.3V1187.4H584.3V1187.6H583.3V1188H582.3V1188.3H581.3V1187.2H580.3V1188.9H579.3V1191.8H578.3V1191.8H577.3V1191.1H576.3V1190.5H575.3V1192.6H574.3V1192.5H573.3V1190.8H572.3V1190H571.3V1191.6H570.3V1193.3H569.3V1191.7H568.3V1190.1H567.3V1192.4H566.3V1191.7H565.3V1189.5H564.3V1189.1H563.3V1189.8H562.3V1191.4H561.3V1191.7H560.3V1191.4H559.3V1191.3H558.3V1191.7H557.3V1192.5H556.3V1194.8H555.3V1193.4H554.3V1192H553.3V1194H552.3V1194.8H551.3V1193.6H550.3V1192H549.3V1190.7H548.3V1192H547.3V1192H546.3V1192H545.3V1193.5H544.3V1193.5H543.3V1194.4H542.3V1195.2H541.3V1194.6H540.3V1194.3H539.3V1193.1H538.3V1193.7H537.3V1194.6H536.3V1195.8H535.3V1191.7H534.3V1192H533.3V1201.1H532.3V1195.6H531.3V1193.6H530.3V1192.1H529.3V1194.2H528.3V1194.5H527.3V1194.3H526.3V1195.6H525.3V1194H524.3V1193.9H523.3V1194.8H522.3V1195.3H521.3V1195.8H520.3V1194.1H519.3V1194.3H518.3V1194.9H517.3V1196.7H516.3V1197.4H515.3V1197.5H514.3V1199.3H513.3V1199.5H512.3V1200.8H511.3V1201.1H510.3V1206.7H509.3V1199.3H508.3V1197.5H507.3V1199.3H506.3V1204.9H505.3V1210.7H504.3V1218.4H503.3V1207.4H502.3V1182.4H501.3V1162.4H500.3V1155.6H499.3V1214.8H498.3V1290.4H497.3V1148.7H496.3Z" fill="#a83c78"/>
<polyline points="496.8,1138.0 497.6,1296.0 499.6,1146.0 500.1,1146.4 500.7,1146.8 503.4,1214.2 504.3,1207.8 505.2,1201.3 506.1,1194.9 507.0,1188.5 508.0,1188.9 509.0,1189.2 510.0,1189.6 511.0,1189.2 512.0,1188.8 513.0,1188.4 514.0,1188.0 515.0,1187.6 516.0,1187.2 517.0,1186.8 518.0,1186.4 519.0,1186.0 520.0,1185.6 521.0,1185.2 522.0,1184.8 523.0,1184.4 524.0,1184.0 525.0,1183.6 526.0,1183.6 526.9,1183.6 527.9,1183.6 528.9,1183.6 529.9,1183.6 530.8,1183.6 531.8,1183.6 532.8,1183.6 533.7,1183.6 534.7,1183.6 535.7,1183.6 536.7,1183.6 537.6,1183.6 538.6,1183.6 539.6,1183.6 540.5,1183.6 541.5,1183.6 542.5,1183.6 543.4,1183.6 544.4,1183.6 545.4,1183.6 546.4,1183.6 547.3,1183.6 548.3,1183.6 549.3,1183.6 550.2,1183.6 551.2,1183.6 552.2,1183.6 553.2,1183.6 554.1,1183.6 555.1,1183.6 556.1,1183.5 557.0,1183.3 558.0,1183.2 559.0,1183.0 560.0,1182.9 560.9,1182.7 561.9,1182.6 562.9,1182.4 563.8,1182.3 564.8,1182.1 565.8,1182.0 566.8,1181.9 567.7,1181.7 568.7,1181.6 569.7,1181.4 570.6,1181.3 571.6,1181.1 572.6,1181.0 573.5,1180.8 574.5,1180.7 575.5,1180.6 576.5,1180.4 577.4,1180.3 578.4,1180.1 579.4,1180.0 580.3,1179.8 581.3,1179.7 582.3,1179.5 583.3,1179.4 584.2,1179.2 585.2,1179.1 586.2,1179.0 587.1,1178.9 588.1,1178.8 589.1,1178.7 590.1,1178.6 591.0,1178.5 592.0,1178.4 593.0,1178.3 593.9,1178.2 594.9,1178.1 595.9,1178.0 596.9,1177.9 597.8,1177.8 598.8,1177.7 599.8,1177.6 600.7,1177.6 601.7,1177.5 602.7,1177.4 603.6,1177.3 604.6,1177.2 605.6,1177.1 606.6,1177.0 607.5,1176.9 608.5,1176.8 609.5,1176.7 610.4,1176.6 611.4,1176.5 612.4,1176.4 613.4,1176.3 614.3,1176.2 615.3,1176.1 616.3,1176.2 617.3,1176.3 618.3,1176.4 619.3,1176.5 620.3,1176.6 621.3,1176.7 622.3,1176.8 623.3,1176.9 624.3,1177.0 625.3,1177.1 626.3,1177.2 627.3,1177.3 628.3,1177.4 629.3,1177.5 630.3,1177.6 631.3,1177.7 632.3,1177.8 633.3,1177.9 634.3,1178.0 635.3,1178.1 636.3,1178.2 637.3,1178.3 638.3,1178.4 639.3,1178.5 640.3,1178.6 641.3,1178.7 642.3,1178.8 643.3,1178.9 644.3,1179.0 645.3,1179.1 646.3,1179.1 647.2,1179.2 648.2,1179.2 649.2,1179.3 650.2,1179.3 651.1,1179.4 652.1,1179.4 653.1,1179.5 654.0,1179.5 655.0,1179.6 656.0,1179.6 657.0,1179.7 657.9,1179.7 658.9,1179.8 659.9,1179.8 660.8,1179.9 661.8,1179.9 662.8,1180.0 663.7,1180.0 664.7,1180.1 665.7,1180.1 666.7,1180.2 667.6,1180.2 668.6,1180.3 669.6,1180.3 670.5,1180.4 671.5,1180.4 672.5,1180.5 673.5,1180.5 674.4,1180.6 675.4,1180.6 676.4,1180.9 677.3,1181.1 678.3,1181.4 679.3,1181.6 680.3,1181.9 681.2,1182.2 682.2,1182.4 683.2,1182.7 684.2,1182.9 685.1,1183.2 686.1,1183.5 687.1,1183.7 688.1,1184.0 689.0,1184.2 690.0,1184.5 691.0,1184.4 692.0,1184.3 693.0,1184.2 694.0,1184.1 694.9,1184.0 695.9,1183.9 696.9,1183.8 697.9,1183.7 698.9,1183.6 699.9,1183.5 700.9,1183.4 701.9,1183.3 702.9,1183.2 703.9,1183.1 704.8,1183.1 705.8,1183.0 706.8,1182.9 707.8,1182.8 708.8,1182.7 709.8,1182.6 710.8,1182.5 711.8,1182.4 712.8,1182.3 713.8,1182.2 714.7,1182.1 715.7,1182.0 716.7,1181.9 717.7,1181.8 718.7,1181.7 719.7,1181.6 720.7,1181.5 721.7,1181.5 722.6,1181.4 723.6,1181.3 724.6,1181.2 725.6,1181.1 726.6,1181.1 727.6,1181.0 728.6,1180.9 729.5,1180.8 730.5,1180.7 731.5,1180.7 732.5,1180.6 733.5,1180.5 734.5,1180.4 735.5,1180.3 736.5,1180.2 737.4,1180.2 738.4,1180.1 739.4,1180.0 740.4,1179.9 741.4,1179.8 742.4,1179.8 743.4,1179.7 744.3,1179.6 745.3,1179.5 746.3,1179.4 747.3,1179.4 748.3,1179.3 749.3,1179.2 750.3,1179.1 751.2,1179.0 752.2,1179.0 753.2,1178.9 754.2,1178.8" fill="none" stroke="#a83c78" stroke-width="2.6" stroke-linejoin="round" />
<polyline points="754.2,1178.8 755.2,1111.0 756.4,1175.0 759.0,1157.5 759.9,1158.5 760.8,1158.5 761.7,1157.6 762.6,1158.8 763.5,1158.5 764.4,1157.7 765.3,1159.3 766.2,1158.3 767.1,1158.5 767.9,1160.7 768.7,1162.9 769.6,1164.1 770.4,1167.0 771.2,1169.2 772.1,1167.7 772.9,1167.0 773.8,1165.7 774.7,1165.0 775.5,1162.9 776.4,1162.1 777.3,1163.2 778.2,1163.5 779.2,1165.9 780.1,1166.3 781.0,1166.4 782.0,1165.0 783.0,1162.5 784.0,1160.0 785.0,1157.8 786.0,1156.2 787.0,1153.4 788.0,1152.0 789.0,1151.1 790.0,1149.7 791.0,1150.2 792.0,1148.0 792.9,1147.5 793.9,1147.7 794.9,1146.0 795.9,1145.5 796.9,1145.0 797.9,1144.0 798.9,1143.3 799.9,1142.5 800.8,1141.7 801.8,1140.2 802.8,1140.7 803.8,1139.0 804.8,1137.9 805.8,1138.1 806.7,1138.3 807.7,1137.7 808.6,1137.0 809.6,1136.7 810.6,1135.9 811.5,1136.1 812.5,1135.3 813.4,1134.5 814.4,1134.2 815.4,1133.8 816.3,1134.3 817.3,1134.3 818.2,1133.7 819.2,1132.5 820.2,1131.8 821.1,1132.5 822.1,1131.0 823.0,1130.1 824.0,1130.1 824.9,1129.6 825.9,1129.0 826.8,1128.2 827.8,1127.4 828.7,1127.2 829.7,1126.5 830.6,1126.3 831.6,1125.4 832.5,1124.6 833.5,1125.1 834.5,1123.1 835.4,1123.5 836.4,1122.4 837.3,1122.5 838.3,1121.7 839.3,1120.9 840.2,1120.4 841.2,1119.2 842.1,1118.3 843.1,1118.9 844.1,1117.5 845.0,1116.7 846.0,1117.3 846.9,1116.3 847.9,1114.9 848.9,1115.0 849.8,1113.9 850.8,1114.4 851.7,1112.8 852.7,1113.3 853.6,1112.2 854.6,1110.7 855.5,1110.7 856.5,1110.9 857.4,1109.9 858.4,1108.4 859.3,1108.2 860.3,1107.4 861.2,1106.5 862.2,1106.7 863.1,1106.3 864.1,1104.9 865.0,1104.9 866.0,1104.2" fill="none" stroke="#a83c78" stroke-width="3.2" stroke-linejoin="round" />
<polyline points="110.9,1048.6 111.9,1049.3 112.8,1049.1 113.8,1049.3 114.8,1049.6 115.7,1048.6 116.7,1049.3 117.7,1049.8 118.6,1049.9 119.6,1049.5 120.5,1048.9 121.5,1049.4 122.5,1050.4 123.4,1049.0 124.4,1049.5 125.4,1050.6 126.3,1049.8 127.3,1049.5 128.2,1049.7 129.2,1050.0" fill="none" stroke="#f23c3c" stroke-width="3.2" stroke-linejoin="round" />
<polyline points="129.2,1050.0 129.6,872.0 130.3,1110.0 131.2,1040.0" fill="none" stroke="#f23c3c" stroke-width="3.0" stroke-linejoin="round" />
<path d="M130.7,1033.5H131.7V1033.9H132.7V1026.5H133.7V1019.6H134.7V1019.1H135.7V1026.8H136.7V1029.7H137.7V1024.2H138.7V1018.8H139.7V1018.5H140.7V1026.6H141.7V1030.9H142.7V1028H143.7V1023.2H144.7V1024.4H145.7V1029.4H146.7V1032.3H147.7V1028H148.7V1022.5H149.7V1025.1H150.7V1030.2H151.7V1030.8H152.7V1025.6H153.7V1027.4H154.7V1026.6H155.7V1027.8H156.7V1030.7H157.7V1029.6H158.7V1023.2H159.7V1028.4H160.7V1031.3H161.7V1031.1H162.7V1027.9H163.7V1025.5H164.7V1025.8H165.7V1028.5H166.7V1029.4H167.7V1027H168.7V1026.2H169.7V1026.9H170.7V1029.5H171.7V1029.3H172.7V1026.4H173.7V1026.8H174.7V1028.4H175.7V1026.9H176.7V1029.6H177.7V1027.5H178.7V1028H179.7V1027.7H180.7V1021.5H181.7V1027.9H182.7V1026H183.7V1028H184.7V1027.4H185.7V1028.1H186.7V1028.7H187.7V1028.8H188.7V1028H189.7V1026.2H190.7V1026.8H191.7V1025.8H192.7V1025.4H193.7V1026.9H194.7V1025.3H195.7V1025.6H196.7V1025.4H197.7V1024.6H198.7V1024.7H199.7V1024.2H200.7V1024.5H201.7V1023.9H202.7V1023.1H203.7V1024.9H204.7V1024.8H205.7V1023.1H206.7V1022.1H207.7V1023.3H208.7V1024.7H209.7V1023H210.7V1021.9H211.7V1021.9H212.7V1021.1H213.7V1022.7H214.7V1023.4H215.7V1023.1H216.7V1023.5H217.7V1024H218.7V1023.8H219.7V1023.7H220.7V1021.8H221.7V1019.6H222.7V1019.1H223.7V1019H224.7V1016.8H225.7V1021.2H226.7V1016.6H227.7V1020.1H228.7V1018.3H229.7V1020H230.7V1021.5H231.7V1020.6H232.7V1019.4H233.7V1020.6H234.7V1019.8H235.7V1019.5H236.7V1020.4H237.7V1019H238.7V1018.2H239.7V1019.1H240.7V1018.6H241.7V1018.9H242.7V1020.1H243.7V1018.7H244.7V1018.9H245.7V1018.2H246.7V1018H247.7V1017.7H248.7V1015.9H249.7V1015.7H250.7V1016.1H251.7V1017.9H252.7V1017.1H253.7V1016H254.7V1017.9H255.7V1017H256.7V1017.9H257.7V1019.3H258.7V1017.3H259.7V1016.5H260.7V1018.5H261.7V1018.1H262.7V1017.7H263.7V1019.9H264.7V1020.9H265.7V1019.1H266.7V1020H267.7V1022.1H268.7V1021.9H269.7V1020.3H270.7V1021.3H271.7V1021.4H272.7V1021.2H273.7V1022.9H274.7V1023.2H275.7V1022.6H276.7V1022.3H277.7V1021H278.7V1022.1H279.7V1022.7H280.7V1022.9H281.7V1023.4H282.7V1022.6H283.7V1023.6H284.7V1023H285.7V1021.8H286.7V1023H287.7V1023.3H288.7V1024.1H289.7V1024.8H290.7V1023.6H291.7V1023.4H292.7V1024.6H293.7V1023.7H294.7V1025.1H295.7V1024.5H296.7V1022.9H297.7V1023.2H298.7V1022.9H299.7V1024.2H300.7V1025.9H301.7V1025.7H302.7V1024.9H303.7V1025.6H304.7V1025.5H305.7V1025.8H306.7V1027H307.7V1027.3H308.7V1027.8H309.7V1025.9H310.7V1026.1H311.7V1027.7H312.7V1027.4H313.7V1026.2H314.7V1023.2H315.7V1026.6H316.7V1026.6H317.7V1024.6H318.7V1025.5H319.7V1025.6H320.7V1023.3H321.7V1026.5H322.7V1026.6H323.7V1026.5H324.7V1025.3H325.7V1025.9H326.7V1026.3H327.7V1027.6H328.7V1028.2H329.7V1026.6H330.7V1027.3H331.7V1027.3H332.7V1025.2H333.7V1025.8H334.7V1026.9H335.7V1025.8H336.7V1025.6H337.7V1025.7H338.7V1026.9H339.7V1026.7H340.7V1024.8H341.7V1024.9H342.7V1025.5H343.7V1024.9H344.7V1024.1H345.7V1025.3H346.7V1026.2H347.7V1026H348.7V1027.5H349.7V1026.9H350.7V1026.1H351.7V1027.7H352.7V1027.1H353.7V1025.4H354.7V1024.9H355.7V1025.7H356.7V1025.7H357.7V1026.6H358.7V1027.9H359.7V1027.5H360.7V1026.4H361.7V1025.2H362.7V1025.6H363.7V1027.7H364.7V1028.9H365.7V1026.6H366.7V1025.5H367.7V1027.5H368.7V1027.5H369.7V1027.1H370.7V1028.2H371.7V1027.4H372.7V1027.5H373.7V1026.8H374.7V1025.4H375.7V1027.8H376.7V1029.3H377.7V1029.4H378.7V1029.7H379.7V1028H380.7V1026.9H381.7V1022.3H382.7V1027.4H383.7V1027.6H384.7V1041.3H383.7V1042.3H382.7V1045.7H381.7V1042.9H380.7V1041H379.7V1042.1H378.7V1041.8H377.7V1040.2H376.7V1041.8H375.7V1042.4H374.7V1042.6H373.7V1043.2H372.7V1041.8H371.7V1042.3H370.7V1043.8H369.7V1042.8H368.7V1043H367.7V1041.3H366.7V1040H365.7V1041.4H364.7V1042.9H363.7V1041.7H362.7V1040.1H361.7V1039.8H360.7V1039.7H359.7V1040.5H358.7V1042.5H357.7V1042.1H356.7V1042H355.7V1041.6H354.7V1040.6H353.7V1041.7H352.7V1042.1H351.7V1042.8H350.7V1041.6H349.7V1040.2H348.7V1040.6H347.7V1039.5H346.7V1039.5H345.7V1041.3H344.7V1042.7H343.7V1041.2H342.7V1040.2H341.7V1040H340.7V1039.5H339.7V1039.8H338.7V1040.3H337.7V1042.1H336.7V1041.4H335.7V1039.8H334.7V1040.8H333.7V1040.3H332.7V1040.3H331.7V1041.6H330.7V1042.1H329.7V1041.7H328.7V1040.4H327.7V1041.3H326.7V1042.6H325.7V1041H324.7V1039.5H323.7V1040.2H322.7V1039.4H321.7V1040H320.7V1041.5H319.7V1041.9H318.7V1042.6H317.7V1042.5H316.7V1040.3H315.7V1038.6H314.7V1040.4H313.7V1042H312.7V1041.1H311.7V1041.8H310.7V1041.3H309.7V1039.3H308.7V1038.8H307.7V1039.8H306.7V1039.4H305.7V1039.8H304.7V1040.5H303.7V1038.9H302.7V1040.3H301.7V1041.6H300.7V1040.9H299.7V1039.1H298.7V1037.6H297.7V1038.9H296.7V1038.9H295.7V1037.6H294.7V1038.5H293.7V1037.8H292.7V1039.4H291.7V1040.2H290.7V1039.3H289.7V1037.2H288.7V1037.6H287.7V1037.9H286.7V1037.3H285.7V1038.9H284.7V1037.5H283.7V1037.1H282.7V1037.2H281.7V1036.2H280.7V1036.7H279.7V1035.6H278.7V1034.6H277.7V1035.9H276.7V1037.7H275.7V1037.4H274.7V1037.1H273.7V1035.9H272.7V1034.3H271.7V1034.5H270.7V1033.7H269.7V1035H268.7V1035.4H267.7V1034.3H266.7V1035H265.7V1033.9H264.7V1033.8H263.7V1034.2H262.7V1033.5H261.7V1033.6H260.7V1033.4H259.7V1033.8H258.7V1031.7H257.7V1030.2H256.7V1030.1H255.7V1030.6H254.7V1030.8H253.7V1030.9H252.7V1032.4H251.7V1032.5H250.7V1030.8H249.7V1031.7H248.7V1032.8H247.7V1033.5H246.7V1032.8H245.7V1031.5H244.7V1037.8H243.7V1034.3H242.7V1033.9H241.7V1033.7H240.7V1033.3H239.7V1034.2H238.7V1037.2H237.7V1033.3H236.7V1035.4H235.7V1035.3H234.7V1035.5H233.7V1035.4H232.7V1035.1H231.7V1035.7H230.7V1035.5H229.7V1035.1H228.7V1033.8H227.7V1035.7H226.7V1034.5H225.7V1034.8H224.7V1034.4H223.7V1035.3H222.7V1035.8H221.7V1035.5H220.7V1036.7H219.7V1034.9H218.7V1035.4H217.7V1036H216.7V1036.8H215.7V1039H214.7V1037.4H213.7V1035.9H212.7V1037.8H211.7V1039H210.7V1037.3H209.7V1036.8H208.7V1037.6H207.7V1037.5H206.7V1038.3H205.7V1039.2H204.7V1037.7H203.7V1037.6H202.7V1039.3H201.7V1040.8H200.7V1040.7H199.7V1043.5H198.7V1039.3H197.7V1045.4H196.7V1041H195.7V1039.8H194.7V1039H193.7V1040H192.7V1041.2H191.7V1045.7H190.7V1040H189.7V1039.1H188.7V1039.7H187.7V1041.3H186.7V1041.4H185.7V1040.2H184.7V1040.3H183.7V1040.8H182.7V1042H181.7V1042.3H180.7V1041.2H179.7V1041.7H178.7V1042.7H177.7V1042H176.7V1041.9H175.7V1042.3H174.7V1041H173.7V1041.5H172.7V1043.1H171.7V1042.7H170.7V1040.2H169.7V1040.9H168.7V1042.5H167.7V1043.3H166.7V1041.6H165.7V1040.9H164.7V1043.2H163.7V1044.9H162.7V1045.7H161.7V1043.4H160.7V1040.5H159.7V1041.7H158.7V1044.4H157.7V1045.9H156.7V1044.4H155.7V1041.8H154.7V1044.7H153.7V1042.2H152.7V1044H151.7V1043.6H150.7V1040.8H149.7V1040.6H148.7V1044.2H147.7V1045H146.7V1042.5H145.7V1038.4H144.7V1038.5H143.7V1042.7H142.7V1045.8H141.7V1042.2H140.7V1034.6H139.7V1033.8H138.7V1039.9H137.7V1044.1H136.7V1040.1H135.7V1032.5H134.7V1033.2H133.7V1042.1H132.7V1049.6H131.7V1048.3H130.7Z" fill="#f23c3c"/>
<polyline points="131.2,1042.0 133.0,1034.3 134.0,1026.3 135.0,1024.1 135.9,1030.4 136.9,1036.8 137.9,1035.4 138.9,1029.1 139.9,1026.7 140.9,1031.4 141.8,1036.8 142.8,1036.4 143.8,1031.5 144.8,1029.2 145.8,1032.5 146.7,1037.2 147.7,1037.4 148.7,1033.7 149.7,1031.5 150.7,1033.8 151.7,1037.7 152.6,1038.4 153.6,1035.6 154.6,1033.6 155.6,1034.9 156.6,1037.8 157.5,1038.4 158.5,1036.1 159.5,1034.0 160.5,1034.7 161.4,1037.0 162.4,1037.8 163.4,1036.1 164.4,1034.2 165.4,1034.5 166.3,1036.4 167.3,1037.2 168.3,1036.0 169.3,1034.4 170.3,1034.4 171.2,1035.8 172.2,1036.6 173.2,1035.8 174.2,1034.5 175.2,1035.2 176.1,1035.2 177.1,1035.2 178.1,1035.1 179.1,1035.1 180.0,1035.0 181.0,1035.0 182.0,1034.9 183.0,1034.8 183.9,1034.6 184.9,1034.5 185.9,1034.3 186.9,1034.2 187.8,1034.0 188.8,1033.9 189.8,1033.7 190.8,1033.6 191.8,1033.4 192.7,1033.3 193.7,1033.1 194.7,1033.0 195.7,1032.8 196.6,1032.7 197.6,1032.6 198.6,1032.4 199.6,1032.3 200.5,1032.1 201.5,1032.0 202.5,1031.8 203.5,1031.7 204.4,1031.5 205.4,1031.4 206.4,1031.2 207.4,1031.1 208.3,1030.9 209.3,1030.8 210.3,1030.7 211.2,1030.5 212.2,1030.4 213.2,1030.2 214.2,1030.1 215.2,1029.9 216.1,1029.8 217.1,1029.6 218.1,1029.5 219.1,1029.3 220.0,1029.2 221.0,1029.0 222.0,1028.9 222.9,1028.8 223.9,1028.6 224.9,1028.5 225.9,1028.3 226.8,1028.2 227.8,1028.0 228.8,1027.9 229.8,1027.7 230.8,1027.6 231.7,1027.4 232.7,1027.3 233.7,1027.1 234.7,1027.0 235.6,1026.8 236.6,1026.7 237.6,1026.5 238.5,1026.4 239.5,1026.2 240.5,1026.1 241.4,1025.9 242.4,1025.7 243.4,1025.6 244.3,1025.4 245.3,1025.3 246.2,1025.1 247.2,1025.0 248.2,1024.8 249.1,1024.6 250.1,1024.5 251.1,1024.3 252.0,1024.2 253.0,1024.0 254.0,1024.2 255.0,1024.4 256.0,1024.7 256.9,1024.9 257.9,1025.1 258.9,1025.3 259.9,1025.5 260.9,1025.8 261.9,1026.0 262.8,1026.2 263.8,1026.4 264.8,1026.6 265.8,1026.9 266.8,1027.1 267.8,1027.3 268.7,1027.5 269.7,1027.7 270.7,1028.0 271.7,1028.2 272.7,1028.4 273.7,1028.6 274.6,1028.8 275.6,1029.1 276.6,1029.3 277.6,1029.5 278.6,1029.6 279.6,1029.7 280.6,1029.9 281.6,1030.0 282.6,1030.1 283.6,1030.2 284.6,1030.4 285.6,1030.5 286.6,1030.6 287.6,1030.7 288.6,1030.8 289.5,1031.0 290.5,1031.1 291.5,1031.2 292.5,1031.3 293.5,1031.5 294.5,1031.6 295.5,1031.7 296.5,1031.8 297.5,1032.0 298.5,1032.1 299.5,1032.2 300.5,1032.3 301.5,1032.4 302.5,1032.4 303.5,1032.5 304.4,1032.6 305.4,1032.7 306.4,1032.7 307.4,1032.8 308.4,1032.9 309.4,1033.0 310.4,1033.1 311.4,1033.1 312.4,1033.2 313.3,1033.3 314.3,1033.4 315.3,1033.4 316.3,1033.5 317.3,1033.6 318.3,1033.6 319.3,1033.6 320.2,1033.6 321.2,1033.6 322.2,1033.6 323.2,1033.6 324.1,1033.6 325.1,1033.6 326.1,1033.6 327.1,1033.6 328.1,1033.6 329.0,1033.6 330.0,1033.6 331.0,1033.6 332.0,1033.6 333.0,1033.6 333.9,1033.6 334.9,1033.6 335.9,1033.6 336.9,1033.6 337.9,1033.6 338.8,1033.6 339.8,1033.6 340.8,1033.6 341.8,1033.6 342.7,1033.6 343.7,1033.6 344.7,1033.6 345.7,1033.6 346.7,1033.7 347.7,1033.7 348.7,1033.7 349.7,1033.8 350.7,1033.8 351.7,1033.8 352.7,1033.9 353.7,1033.9 354.7,1033.9 355.7,1034.0 356.7,1034.0 357.7,1034.1 358.7,1034.1 359.7,1034.1 360.7,1034.2 361.7,1034.2 362.7,1034.2 363.7,1034.3 364.6,1034.3 365.6,1034.3 366.6,1034.4 367.6,1034.4 368.6,1034.4 369.6,1034.5 370.6,1034.5 371.6,1034.5 372.6,1034.6 373.6,1034.6 374.6,1034.7 375.6,1034.7 376.6,1034.7 377.6,1034.8 378.6,1034.8 379.6,1034.8 380.6,1034.9 381.6,1034.9 382.6,1034.9 383.6,1035.0 384.6,1035.0" fill="none" stroke="#f23c3c" stroke-width="2.6" stroke-linejoin="round" />
<polyline points="384.6,1035.0 385.6,1083.0 386.6,1040.7 387.4,1041.2 388.2,1041.6 389.0,1040.8 389.9,1044.8 390.8,1047.8 391.7,1051.1 392.6,1053.7 393.6,1057.0 394.5,1060.5 395.4,1063.4 396.3,1066.9 397.2,1069.4 398.1,1067.5 399.1,1066.4 400.0,1063.9 400.9,1062.0 401.9,1060.3 402.8,1057.7 403.7,1058.1 404.6,1060.2 405.5,1060.7 406.4,1061.8 407.3,1060.3 408.3,1059.5 409.2,1057.1 410.2,1056.4 411.1,1054.4 412.1,1053.3 413.0,1052.1 413.9,1052.9 414.7,1053.9 415.6,1055.9 416.5,1057.6 417.3,1058.8 418.2,1059.9 419.2,1059.2 420.2,1057.4 421.2,1056.3 422.2,1056.9 423.1,1058.0 424.1,1057.3 425.0,1057.6 426.0,1057.9 426.9,1058.1 427.9,1058.9 428.8,1059.7 429.8,1060.4 430.8,1060.0 431.7,1060.4 432.7,1060.6 433.6,1061.0 434.6,1062.1 435.5,1062.1 436.5,1061.9 437.4,1062.0 438.4,1063.5 439.3,1063.7 440.3,1064.2 441.3,1063.6 442.2,1064.5 443.2,1065.4 444.1,1065.2 445.1,1066.1 446.0,1065.2 447.0,1066.8 447.9,1065.7 448.9,1066.6 449.9,1066.3 450.8,1067.9 451.8,1068.1 452.7,1068.9 453.7,1068.9 454.6,1069.5 455.6,1069.2 456.5,1070.3 457.5,1070.2 458.4,1069.9 459.4,1071.3 460.4,1070.3 461.4,1070.0 462.4,1069.8 463.4,1070.4 464.4,1070.0 465.4,1071.2 466.4,1071.2 467.4,1070.0 468.4,1069.9 469.4,1070.5 470.4,1070.0 471.3,1070.6 472.3,1071.0 473.3,1070.1 474.3,1070.4 475.3,1071.1 476.3,1070.4 477.3,1070.2 478.3,1071.1 479.3,1071.0 480.3,1071.1 481.3,1070.8 482.2,1070.0 483.1,1070.0 483.9,1069.9 484.8,1069.2 485.7,1068.2 486.7,1068.7 487.6,1069.4 488.6,1070.4 489.6,1070.5 490.5,1070.9 491.5,1071.8 492.5,1071.1 493.5,1072.4 494.4,1072.4 495.4,1073.2 496.0,1074.6 496.6,1075.0" fill="none" stroke="#f23c3c" stroke-width="3.2" stroke-linejoin="round" />
<path d="M496.1,1068.6H497.1V1163.4H498.1V1115.7H499.1V1073.8H500.1V1075.1H501.1V1091H502.1V1106.3H503.1V1117H504.1V1110.2H505.1V1103.4H506.1V1098.7H507.1V1098.3H508.1V1099.8H509.1V1100.3H510.1V1101.4H511.1V1102.6H512.1V1103.1H513.1V1101.6H514.1V1097.9H515.1V1101.3H516.1V1100.3H517.1V1101.6H518.1V1102H519.1V1100.8H520.1V1100.1H521.1V1100.9H522.1V1100.7H523.1V1095.5H524.1V1100.6H525.1V1101H526.1V1099.3H527.1V1100.1H528.1V1099.5H529.1V1097.8H530.1V1098.5H531.1V1098.2H532.1V1098.5H533.1V1098.3H534.1V1099.1H535.1V1100.1H536.1V1097.6H537.1V1095.9H538.1V1097.2H539.1V1096.8H540.1V1096.8H541.1V1097.8H542.1V1096H543.1V1097.9H544.1V1097.5H545.1V1095.6H546.1V1096.2H547.1V1096.5H548.1V1096.7H549.1V1097.2H550.1V1097H551.1V1097.2H552.1V1095.9H553.1V1095.2H554.1V1096H555.1V1097.7H556.1V1098.5H557.1V1096.5H558.1V1094.9H559.1V1096.3H560.1V1098H561.1V1097.4H562.1V1096.5H563.1V1094.9H564.1V1097H565.1V1096.3H566.1V1094.6H567.1V1094.6H568.1V1096.1H569.1V1095.7H570.1V1094.7H571.1V1095.8H572.1V1095.2H573.1V1096H574.1V1096.4H575.1V1095.5H576.1V1096.5H577.1V1097.3H578.1V1096.2H579.1V1094.5H580.1V1094.1H581.1V1095.6H582.1V1096H583.1V1095.2H584.1V1095.3H585.1V1096.1H586.1V1095.4H587.1V1094.9H588.1V1095.1H589.1V1093.7H590.1V1094.4H591.1V1094.8H592.1V1094.3H593.1V1095.6H594.1V1096.4H595.1V1095.6H596.1V1093.7H597.1V1094.7H598.1V1093.9H599.1V1095.3H600.1V1095.5H601.1V1095.1H602.1V1094.6H603.1V1094.7H604.1V1094.9H605.1V1096.1H606.1V1096.6H607.1V1094.4H608.1V1093.2H609.1V1093.9H610.1V1094.3H611.1V1094.1H612.1V1094.1H613.1V1092.2H614.1V1095.8H615.1V1097.1H616.1V1095.2H617.1V1095.1H618.1V1095.3H619.1V1094.9H620.1V1096.3H621.1V1095.7H622.1V1096H623.1V1096.3H624.1V1095.2H625.1V1095H626.1V1095.5H627.1V1096.8H628.1V1095.8H629.1V1095.5H630.1V1096.3H631.1V1096.4H632.1V1097H633.1V1095.5H634.1V1095.9H635.1V1096.7H636.1V1097H637.1V1097.1H638.1V1095.2H639.1V1095.5H640.1V1095.8H641.1V1095.7H642.1V1093.1H643.1V1097.4H644.1V1096.2H645.1V1095.4H646.1V1096.6H647.1V1097.3H648.1V1096.1H649.1V1095.3H650.1V1096H651.1V1097.2H652.1V1096.6H653.1V1097.6H654.1V1097.9H655.1V1096.4H656.1V1096.5H657.1V1096.7H658.1V1097.1H659.1V1098H660.1V1098.9H661.1V1097.9H662.1V1097.6H663.1V1098.8H664.1V1099H665.1V1097.6H666.1V1097.3H667.1V1097.7H668.1V1096.7H669.1V1096.2H670.1V1096.1H671.1V1098.2H672.1V1099.2H673.1V1099.1H674.1V1100.1H675.1V1099.8H676.1V1098.8H677.1V1099.4H678.1V1099.5H679.1V1098.7H680.1V1099.1H681.1V1098.6H682.1V1098.1H683.1V1098.7H684.1V1099.5H685.1V1100.1H686.1V1100.4H687.1V1099.8H688.1V1095.7H689.1V1099.5H690.1V1098.6H691.1V1097.3H692.1V1099.1H693.1V1098.5H694.1V1097.2H695.1V1098.2H696.1V1097.6H697.1V1098H698.1V1097.9H699.1V1096.5H700.1V1098.1H701.1V1098.4H702.1V1098.3H703.1V1099.4H704.1V1098.3H705.1V1097.7H706.1V1098.6H707.1V1098.6H708.1V1097.6H709.1V1095.8H710.1V1095.5H711.1V1095.8H712.1V1096.5H713.1V1096.1H714.1V1094.7H715.1V1095.2H716.1V1097H717.1V1094.8H718.1V1094.1H719.1V1096.5H720.1V1097.7H721.1V1097.1H722.1V1096.7H723.1V1095.7H724.1V1095H725.1V1095.3H726.1V1095H727.1V1094.6H728.1V1094.4H729.1V1094.1H730.1V1094.6H731.1V1094.5H732.1V1095H733.1V1095H734.1V1094.2H735.1V1093.9H736.1V1095.5H737.1V1095H738.1V1093.8H739.1V1095.7H740.1V1095H741.1V1093.9H742.1V1093.9H743.1V1095.6H744.1V1096.6H745.1V1095.9H746.1V1094.2H747.1V1094.2H748.1V1094.6H749.1V1093.6H750.1V1093.9H751.1V1093.9H752.1V1093.9H753.1V1094.3H754.1V1109.4H753.1V1108.2H752.1V1108.2H751.1V1109.2H750.1V1109.6H749.1V1108.6H748.1V1107.2H747.1V1108H746.1V1109.1H745.1V1108.8H744.1V1108.3H743.1V1108.6H742.1V1109.3H741.1V1110.1H740.1V1108.6H739.1V1107.4H738.1V1107.8H737.1V1107.6H736.1V1107.8H735.1V1107.9H734.1V1107.9H733.1V1107.6H732.1V1107.6H731.1V1108.1H730.1V1108.9H729.1V1110.7H728.1V1109.7H727.1V1109H726.1V1108.7H725.1V1108.4H724.1V1112H723.1V1109.6H722.1V1108.8H721.1V1109H720.1V1108.7H719.1V1108.3H718.1V1108.3H717.1V1108.7H716.1V1112.9H715.1V1109.1H714.1V1108.2H713.1V1112.1H712.1V1110.7H711.1V1111.5H710.1V1109.6H709.1V1108.8H708.1V1111H707.1V1112.2H706.1V1110.7H705.1V1110.3H704.1V1111.7H703.1V1111H702.1V1111.1H701.1V1111.4H700.1V1109.7H699.1V1110.7H698.1V1110.9H697.1V1110.1H696.1V1109.9H695.1V1111.9H694.1V1112.1H693.1V1111.7H692.1V1112.1H691.1V1111H690.1V1112.6H689.1V1113.9H688.1V1112.9H687.1V1111.3H686.1V1111.2H685.1V1116.7H684.1V1112.1H683.1V1111.7H682.1V1111.6H681.1V1110.2H680.1V1110.3H679.1V1109.8H678.1V1111.1H677.1V1112.2H676.1V1110.7H675.1V1111.2H674.1V1115.6H673.1V1113.1H672.1V1111.1H671.1V1109.5H670.1V1110.6H669.1V1111.1H668.1V1111.2H667.1V1111.3H666.1V1111.7H665.1V1110.1H664.1V1108.8H663.1V1109.9H662.1V1110.5H661.1V1109.8H660.1V1110.1H659.1V1111.1H658.1V1112.1H657.1V1112.1H656.1V1116.2H655.1V1110.3H654.1V1108.5H653.1V1109.9H652.1V1112H651.1V1110.9H650.1V1109.7H649.1V1110.6H648.1V1111.5H647.1V1112.4H646.1V1113.2H645.1V1110.7H644.1V1109.3H643.1V1109.2H642.1V1110.3H641.1V1109.2H640.1V1108.9H639.1V1108.4H638.1V1109.1H637.1V1109.7H636.1V1109.7H635.1V1109.6H634.1V1109.9H633.1V1109.4H632.1V1107.7H631.1V1108.8H630.1V1108.5H629.1V1107.2H628.1V1108.3H627.1V1109.8H626.1V1108.4H625.1V1107.7H624.1V1109.9H623.1V1107.9H622.1V1109.2H621.1V1107.5H620.1V1107.2H619.1V1108.3H618.1V1107.9H617.1V1108H616.1V1108.6H615.1V1108.3H614.1V1108.5H613.1V1107.8H612.1V1108.8H611.1V1108.5H610.1V1108.2H609.1V1108.8H608.1V1106.7H607.1V1106.1H606.1V1107.7H605.1V1107.9H604.1V1106.9H603.1V1107.6H602.1V1108.7H601.1V1108.5H600.1V1107.9H599.1V1108.5H598.1V1108.9H597.1V1107.7H596.1V1106.7H595.1V1108H594.1V1108.1H593.1V1112.5H592.1V1108.3H591.1V1106.1H590.1V1106.7H589.1V1108.2H588.1V1108H587.1V1106.3H586.1V1106.6H585.1V1108.3H584.1V1109.6H583.1V1108.3H582.1V1106.6H581.1V1106.7H580.1V1108.8H579.1V1110.4H578.1V1109.5H577.1V1109.4H576.1V1109.9H575.1V1109.8H574.1V1110.1H573.1V1112.6H572.1V1111H571.1V1109.4H570.1V1107.4H569.1V1109H568.1V1110.6H567.1V1109.1H566.1V1108.5H565.1V1111.1H564.1V1107.9H563.1V1111.4H562.1V1109.9H561.1V1113.4H560.1V1110.4H559.1V1109.3H558.1V1109.8H557.1V1109.1H556.1V1109.4H555.1V1109.9H554.1V1108.7H553.1V1109.1H552.1V1110.2H551.1V1109.5H550.1V1108.5H549.1V1108.9H548.1V1109.5H547.1V1110.3H546.1V1112.1H545.1V1111.1H544.1V1110H543.1V1110.3H542.1V1111.1H541.1V1109.7H540.1V1111.6H539.1V1111.2H538.1V1110.3H537.1V1110.9H536.1V1111.9H535.1V1112.4H534.1V1112.7H533.1V1111.4H532.1V1113.2H531.1V1112.9H530.1V1111.1H529.1V1110.6H528.1V1112.3H527.1V1113.7H526.1V1113.5H525.1V1114H524.1V1114H523.1V1113.3H522.1V1112.5H521.1V1113.1H520.1V1113.5H519.1V1114.3H518.1V1113.1H517.1V1114H516.1V1115.2H515.1V1115.4H514.1V1115H513.1V1113.1H512.1V1113.6H511.1V1113.8H510.1V1113.1H509.1V1113.8H508.1V1112.8H507.1V1109.9H506.1V1114.3H505.1V1125.5H504.1V1131.9H503.1V1120H502.1V1102.7H501.1V1087.9H500.1V1086.8H499.1V1128.7H498.1V1176.6H497.1V1081.8H496.1Z" fill="#f23c3c"/>
<polyline points="496.6,1075.0 497.4,1178.0 499.5,1080.0 500.1,1080.1 500.7,1080.2 503.4,1126.3 506.1,1105.0 507.1,1105.8 508.1,1106.7 509.0,1107.6 510.0,1108.4 511.0,1108.3 512.0,1108.2 513.0,1108.1 514.0,1108.0 515.0,1107.9 516.0,1107.8 517.0,1107.7 518.0,1107.6 519.0,1107.5 520.0,1107.4 521.0,1107.3 522.0,1107.2 523.0,1107.1 524.0,1107.0 525.0,1106.9 525.9,1106.7 526.9,1106.5 527.8,1106.3 528.8,1106.2 529.7,1106.0 530.7,1105.8 531.6,1105.6 532.5,1105.4 533.5,1105.2 534.4,1105.0 535.4,1104.8 536.3,1104.7 537.3,1104.5 538.2,1104.3 539.2,1104.1 540.1,1103.9 541.1,1103.9 542.0,1103.8 543.0,1103.8 544.0,1103.7 545.0,1103.7 545.9,1103.6 546.9,1103.6 547.9,1103.5 548.8,1103.5 549.8,1103.4 550.8,1103.4 551.8,1103.3 552.7,1103.3 553.7,1103.2 554.7,1103.2 555.6,1103.1 556.6,1103.1 557.6,1103.0 558.5,1103.0 559.5,1102.9 560.5,1102.9 561.5,1102.8 562.4,1102.8 563.4,1102.7 564.4,1102.7 565.3,1102.6 566.3,1102.6 567.3,1102.5 568.3,1102.5 569.2,1102.4 570.2,1102.4 571.2,1102.4 572.2,1102.3 573.2,1102.2 574.2,1102.2 575.2,1102.2 576.2,1102.1 577.2,1102.1 578.2,1102.0 579.2,1102.0 580.2,1101.9 581.2,1101.9 582.2,1101.8 583.2,1101.8 584.2,1101.7 585.2,1101.7 586.2,1101.6 587.2,1101.6 588.2,1101.5 589.2,1101.5 590.2,1101.4 591.2,1101.4 592.2,1101.3 593.2,1101.2 594.2,1101.2 595.2,1101.2 596.2,1101.1 597.2,1101.1 598.2,1101.0 599.2,1101.0 600.2,1100.9 601.2,1100.9 602.1,1101.0 603.1,1101.0 604.1,1101.1 605.1,1101.1 606.0,1101.2 607.0,1101.2 608.0,1101.3 608.9,1101.3 609.9,1101.4 610.9,1101.4 611.9,1101.5 612.8,1101.5 613.8,1101.6 614.8,1101.6 615.7,1101.7 616.7,1101.7 617.7,1101.8 618.6,1101.8 619.6,1101.9 620.6,1101.9 621.6,1102.0 622.5,1102.0 623.5,1102.1 624.5,1102.1 625.4,1102.2 626.4,1102.2 627.4,1102.3 628.4,1102.3 629.3,1102.4 630.3,1102.4 631.3,1102.5 632.3,1102.5 633.3,1102.6 634.3,1102.6 635.3,1102.7 636.3,1102.7 637.3,1102.8 638.3,1102.8 639.3,1102.9 640.3,1102.9 641.3,1103.0 642.3,1103.0 643.3,1103.1 644.3,1103.1 645.3,1103.2 646.3,1103.2 647.3,1103.2 648.3,1103.3 649.3,1103.4 650.3,1103.4 651.3,1103.5 652.3,1103.5 653.3,1103.6 654.3,1103.6 655.3,1103.7 656.3,1103.7 657.3,1103.8 658.3,1103.8 659.3,1103.9 660.3,1103.9 661.3,1104.0 662.3,1104.0 663.3,1104.1 664.3,1104.1 665.2,1104.2 666.2,1104.2 667.2,1104.3 668.2,1104.4 669.2,1104.4 670.2,1104.5 671.2,1104.5 672.2,1104.6 673.2,1104.6 674.2,1104.7 675.1,1104.8 676.1,1104.8 677.1,1104.9 678.1,1104.9 679.1,1105.0 680.1,1105.0 681.1,1105.1 682.1,1105.1 683.1,1105.2 684.1,1105.3 685.0,1105.3 686.0,1105.4 687.0,1105.4 688.0,1105.5 689.0,1105.5 690.0,1105.6 691.0,1105.5 692.0,1105.4 693.0,1105.3 694.0,1105.2 694.9,1105.1 695.9,1105.0 696.9,1104.9 697.9,1104.8 698.9,1104.7 699.9,1104.6 700.9,1104.5 701.9,1104.4 702.9,1104.3 703.9,1104.2 704.8,1104.1 705.8,1104.0 706.8,1103.9 707.8,1103.8 708.8,1103.7 709.8,1103.6 710.8,1103.5 711.8,1103.4 712.8,1103.3 713.8,1103.2 714.7,1103.1 715.7,1103.0 716.7,1102.9 717.7,1102.8 718.7,1102.7 719.7,1102.7 720.7,1102.6 721.7,1102.6 722.6,1102.5 723.6,1102.5 724.6,1102.5 725.6,1102.4 726.6,1102.4 727.6,1102.3 728.6,1102.3 729.5,1102.3 730.5,1102.2 731.5,1102.2 732.5,1102.2 733.5,1102.1 734.5,1102.1 735.5,1102.0 736.5,1102.0 737.4,1102.0 738.4,1101.9 739.4,1101.9 740.4,1101.8 741.4,1101.8 742.4,1101.8 743.4,1101.7 744.3,1101.7 745.3,1101.7 746.3,1101.6 747.3,1101.6 748.3,1101.5 749.3,1101.5 750.3,1101.5 751.2,1101.4 752.2,1101.4 753.2,1101.3 754.2,1101.3" fill="none" stroke="#f23c3c" stroke-width="2.6" stroke-linejoin="round" />
<polyline points="754.2,1101.3 755.2,1046.0 756.4,1099.8 757.3,1097.4 758.1,1094.1 759.0,1089.8 760.0,1090.8 761.0,1090.4 762.0,1089.4 763.0,1090.7 764.0,1089.6 765.0,1089.6 766.0,1089.7 766.9,1091.1 767.7,1091.5 768.6,1093.5 769.5,1094.9 770.3,1095.6 771.2,1097.2 772.1,1096.0 772.9,1095.5 773.8,1093.6 774.7,1093.0 775.5,1092.3 776.4,1090.9 777.3,1093.0 778.2,1093.1 779.2,1093.0 780.1,1094.4 781.0,1094.9 782.0,1092.9 783.0,1091.3 784.0,1090.2 785.0,1088.0 786.0,1087.2 787.0,1085.6 788.0,1083.4 789.0,1084.0 790.0,1082.1 791.0,1081.7 792.0,1082.2 792.9,1080.6 793.9,1080.3 794.9,1080.0 795.9,1079.2 796.9,1078.7 797.9,1078.1 798.9,1077.5 799.9,1076.2 800.8,1076.9 801.8,1075.4 802.8,1074.5 803.8,1074.4 804.8,1074.5 805.8,1073.9 806.7,1073.4 807.7,1073.1 808.6,1072.4 809.6,1072.8 810.6,1072.0 811.5,1071.3 812.5,1071.1 813.4,1070.8 814.4,1071.4 815.4,1071.5 816.3,1071.0 817.3,1069.8 818.2,1069.4 819.2,1070.4 820.2,1069.1 821.1,1068.4 822.1,1068.7 823.0,1068.4 824.0,1067.9 824.9,1067.3 825.9,1066.7 826.8,1066.7 827.8,1066.2 828.7,1066.2 829.7,1065.4 830.6,1064.9 831.6,1065.5 832.5,1063.8 833.5,1064.4 834.5,1063.5 835.4,1063.7 836.4,1063.2 837.3,1062.6 838.3,1062.2 839.3,1061.2 840.2,1060.5 841.2,1061.3 842.1,1060.1 843.1,1059.5 844.1,1060.2 845.0,1059.5 846.0,1058.2 846.9,1058.6 847.9,1057.7 848.9,1058.5 849.8,1057.2 850.8,1058.0 851.7,1057.2 852.7,1056.0 853.6,1056.3 854.6,1056.8 855.5,1056.1 856.5,1054.9 857.4,1055.0 858.4,1054.5 859.3,1053.9 860.3,1054.4 861.2,1054.3 862.2,1053.2 863.1,1053.5 864.1,1053.7 865.0,1053.4 866.0,1052.5" fill="none" stroke="#f23c3c" stroke-width="3.2" stroke-linejoin="round" />
<path d="M111.1,144.2H859" stroke="#0000ff" stroke-width="2.8" stroke-dasharray="7.4 5.89" fill="none" stroke-dashoffset="0.3"/>
<path d="M134.3,128.3V627" stroke="#0000ff" stroke-width="2.8" stroke-dasharray="7.45 5.93" fill="none" stroke-dashoffset="5.5"/>
<path d="M533.5,128.5V627" stroke="#0000ff" stroke-width="2.8" stroke-dasharray="7.45 5.93" fill="none" stroke-dashoffset="0"/>
<path d="M845.4,125.9V627" stroke="#0000ff" stroke-width="2.8" stroke-dasharray="7.45 5.93" fill="none" stroke-dashoffset="0"/>
<path d="M109.6,913.4H866" stroke="#0000ff" stroke-width="2.8" stroke-dasharray="7.4 5.89" fill="none" stroke-dashoffset="2.0"/>
<path d="M130.2,885V1372" stroke="#0000ff" stroke-width="2.8" stroke-dasharray="7.45 5.93" fill="none"/>
<path d="M386.8,898.1V1372" stroke="#0000ff" stroke-width="2.8" stroke-dasharray="7.45 5.93" fill="none"/>
<path d="M497.8,899.3V1372" stroke="#0000ff" stroke-width="2.8" stroke-dasharray="7.45 5.93" fill="none"/>
<path d="M755.6,896.5V1372" stroke="#0000ff" stroke-width="2.8" stroke-dasharray="7.45 5.93" fill="none"/>
<path d="M859.7,897.5V1372" stroke="#0000ff" stroke-width="2.8" stroke-dasharray="7.45 5.93" fill="none"/>
<path d="M111.1,18.6H868.6V629.2H111.1Z" fill="none" stroke="#000" stroke-width="2.4"/>
<path d="M111.1,49.1h6M868.6,49.1h-6M111.1,79.7h12M868.6,79.7h-12M111.1,110.2h6M868.6,110.2h-6M111.1,140.7h12M868.6,140.7h-12M111.1,171.2h6M868.6,171.2h-6M111.1,201.7h12M868.6,201.7h-12M111.1,232.3h6M868.6,232.3h-6M111.1,262.8h12M868.6,262.8h-12M111.1,293.3h6M868.6,293.3h-6M111.1,323.9h12M868.6,323.9h-12M111.1,354.4h6M868.6,354.4h-6M111.1,384.9h12M868.6,384.9h-12M111.1,415.4h6M868.6,415.4h-6M111.1,445.9h12M868.6,445.9h-12M111.1,476.5h6M868.6,476.5h-6M111.1,507.0h12M868.6,507.0h-12M111.1,537.5h6M868.6,537.5h-6M111.1,568.0h12M868.6,568.0h-12M111.1,598.6h6M868.6,598.6h-6M134.2,629.2v-12M192.5,629.2v-6M250.8,629.2v-12M309.1,629.2v-6M367.4,629.2v-12M425.7,629.2v-6M484.0,629.2v-12M542.3,629.2v-6M600.6,629.2v-12M658.9,629.2v-6M717.2,629.2v-12M775.5,629.2v-6M833.8,629.2v-12" stroke="#000" stroke-width="2.4" fill="none"/>
<g style="font-size:25px">
<text x="97.6" y="25.8" text-anchor="end">3.0</text>
<text x="97.6" y="86.9" text-anchor="end">2.5</text>
<text x="97.6" y="147.9" text-anchor="end">2.0</text>
<text x="97.6" y="208.9" text-anchor="end">1.5</text>
<text x="97.6" y="270.0" text-anchor="end">1.0</text>
<text x="97.6" y="331.1" text-anchor="end">0.5</text>
<text x="97.6" y="392.1" text-anchor="end">0.0</text>
<text x="97.6" y="453.1" text-anchor="end">-0.5</text>
<text x="97.6" y="514.2" text-anchor="end">-1.0</text>
<text x="97.6" y="575.2" text-anchor="end">-1.5</text>
<text x="97.6" y="636.3" text-anchor="end">-2.0</text>
<text x="881.8" y="25.8">2.5</text>
<text x="881.8" y="86.9">2.0</text>
<text x="881.8" y="147.9">1.5</text>
<text x="881.8" y="208.9">1.0</text>
<text x="881.8" y="270.0">0.5</text>
<text x="881.8" y="331.1">0.0</text>
<text x="881.8" y="392.1">-0.5</text>
<text x="881.8" y="453.1">-1.0</text>
<text x="881.8" y="514.2">-1.5</text>
<text x="881.8" y="575.2">-2.0</text>
<text x="881.8" y="636.3">-2.5</text>
<text x="134.2" y="661.8" text-anchor="middle">0</text>
<text x="250.8" y="661.8" text-anchor="middle">1</text>
<text x="367.4" y="661.8" text-anchor="middle">2</text>
<text x="484.0" y="661.8" text-anchor="middle">3</text>
<text x="600.6" y="661.8" text-anchor="middle">4</text>
<text x="717.2" y="661.8" text-anchor="middle">5</text>
<text x="833.8" y="661.8" text-anchor="middle">6</text>
</g>
<text x="489.6" y="713.2" text-anchor="middle" font-size="32">Time /s</text>
<text transform="translate(36.2,323.9) rotate(-90)" text-anchor="middle" font-size="31.7">Contact force /N</text>
<text transform="translate(958.3,319.3) rotate(-90)" text-anchor="middle" font-size="31.7">Friction coefficient</text>
<path d="M109.6,762.5H867.3V1373.3H109.6Z" fill="none" stroke="#000" stroke-width="2.4"/>
<path d="M109.6,793.0h6M867.3,793.0h-6M109.6,823.6h12M867.3,823.6h-12M109.6,854.1h6M867.3,854.1h-6M109.6,884.7h12M867.3,884.7h-12M109.6,915.2h6M867.3,915.2h-6M109.6,945.7h12M867.3,945.7h-12M109.6,976.3h6M867.3,976.3h-6M109.6,1006.8h12M867.3,1006.8h-12M109.6,1037.4h6M867.3,1037.4h-6M109.6,1067.9h12M867.3,1067.9h-12M109.6,1098.4h6M867.3,1098.4h-6M109.6,1129.0h12M867.3,1129.0h-12M109.6,1159.5h6M867.3,1159.5h-6M109.6,1190.1h12M867.3,1190.1h-12M109.6,1220.6h6M867.3,1220.6h-6M109.6,1251.1h12M867.3,1251.1h-12M109.6,1281.7h6M867.3,1281.7h-6M109.6,1312.2h12M867.3,1312.2h-12M109.6,1342.8h6M867.3,1342.8h-6M130.3,1373.3v-12M183.0,1373.3v-6M235.6,1373.3v-12M288.2,1373.3v-6M340.9,1373.3v-12M393.6,1373.3v-6M446.2,1373.3v-12M498.9,1373.3v-6M551.5,1373.3v-12M604.1,1373.3v-6M656.8,1373.3v-12M709.5,1373.3v-6M762.1,1373.3v-12M814.8,1373.3v-6" stroke="#000" stroke-width="2.4" fill="none"/>
<g style="font-size:25px">
<text x="97.6" y="769.7" text-anchor="end">3.0</text>
<text x="97.6" y="830.8" text-anchor="end">2.5</text>
<text x="97.6" y="891.9" text-anchor="end">2.0</text>
<text x="97.6" y="952.9" text-anchor="end">1.5</text>
<text x="97.6" y="1014.0" text-anchor="end">1.0</text>
<text x="97.6" y="1075.1" text-anchor="end">0.5</text>
<text x="97.6" y="1136.2" text-anchor="end">0.0</text>
<text x="97.6" y="1197.3" text-anchor="end">-0.5</text>
<text x="97.6" y="1258.3" text-anchor="end">-1.0</text>
<text x="97.6" y="1319.4" text-anchor="end">-1.5</text>
<text x="97.6" y="1380.5" text-anchor="end">-2.0</text>
<text x="881.8" y="769.7">2.5</text>
<text x="881.8" y="830.8">2.0</text>
<text x="881.8" y="891.9">1.5</text>
<text x="881.8" y="952.9">1.0</text>
<text x="881.8" y="1014.0">0.5</text>
<text x="881.8" y="1075.1">0.0</text>
<text x="881.8" y="1136.2">-0.5</text>
<text x="881.8" y="1197.3">-1.0</text>
<text x="881.8" y="1258.3">-1.5</text>
<text x="881.8" y="1319.4">-2.0</text>
<text x="881.8" y="1380.5">-2.5</text>
<text x="130.3" y="1405.9" text-anchor="middle">0</text>
<text x="235.6" y="1405.9" text-anchor="middle">1</text>
<text x="340.9" y="1405.9" text-anchor="middle">2</text>
<text x="446.2" y="1405.9" text-anchor="middle">3</text>
<text x="551.5" y="1405.9" text-anchor="middle">4</text>
<text x="656.8" y="1405.9" text-anchor="middle">5</text>
<text x="762.1" y="1405.9" text-anchor="middle">6</text>
<text x="867.4" y="1405.9" text-anchor="middle">7</text>
</g>
<text x="484.0" y="1459.3" text-anchor="middle" font-size="32">Time /s</text>
<text transform="translate(36.2,1067.9) rotate(-90)" text-anchor="middle" font-size="31.7">Contact force /N</text>
<text transform="translate(958.3,1063.3) rotate(-90)" text-anchor="middle" font-size="31.7">Friction coefficient</text>
<text x="4.5" y="25.5" font-size="32">(a)</text>
<text x="3.5" y="770.5" font-size="32">(b)</text>
<g font-size="26">
<text x="670.9" y="261.1">Normal force</text>
<text x="637.9" y="340.9">Friction coefficient</text>
<text x="654.6" y="503.3">Friction force</text>
<text x="592.4" y="998.7">Normal force</text>
<text x="541.3" y="1063.3">Friction coefficient</text>
<text x="604.4" y="1240.7">Friction force</text>
</g>
<g font-size="26" fill="#0000ff">
<text x="219.6" y="130.3">Proximal sliding</text>
<text x="637.7" y="138">Distal sliding</text>
<text x="167.9" y="901.1">Proximal sliding</text>
<text x="387.1" y="899">Stationary</text>
<text x="561.6" y="901.5">Distal sliding</text>
<text x="745.1" y="862.1">Stationary</text>
</g>
<path d="M645.5,250.3L628.2,240.1" stroke="#000" stroke-width="1.6"/><path d="M615.3,232.5L630.6,236.2L625.9,244.1Z" fill="#000"/>
<path d="M634.6,339.6L612.7,356.4" stroke="#000" stroke-width="1.6"/><path d="M600.8,365.5L609.9,352.7L615.5,360.0Z" fill="#000"/>
<path d="M664.4,480.3L647.5,470.2" stroke="#000" stroke-width="1.6"/><path d="M634.6,462.5L649.8,466.2L645.1,474.1Z" fill="#000"/>
<path d="M580.7,976.2L567.3,966.8" stroke="#000" stroke-width="1.6"/><path d="M555.1,958.1L570.0,963.0L564.7,970.5Z" fill="#000"/>
<path d="M621.3,1069.4L605.4,1083.5" stroke="#000" stroke-width="1.6"/><path d="M594.2,1093.4L602.4,1080.0L608.5,1086.9Z" fill="#000"/>
<path d="M597.2,1231.7L584.3,1223.3" stroke="#000" stroke-width="1.6"/><path d="M571.7,1215.1L586.8,1219.4L581.8,1227.1Z" fill="#000"/>
<path d="M799.1,870.2L805.7,889.2" stroke="#0000ff" stroke-width="1.3"/><path d="M810.6,903.4L801.0,890.9L810.4,887.6Z" fill="#0000ff"/>
</svg>
</body></html>
